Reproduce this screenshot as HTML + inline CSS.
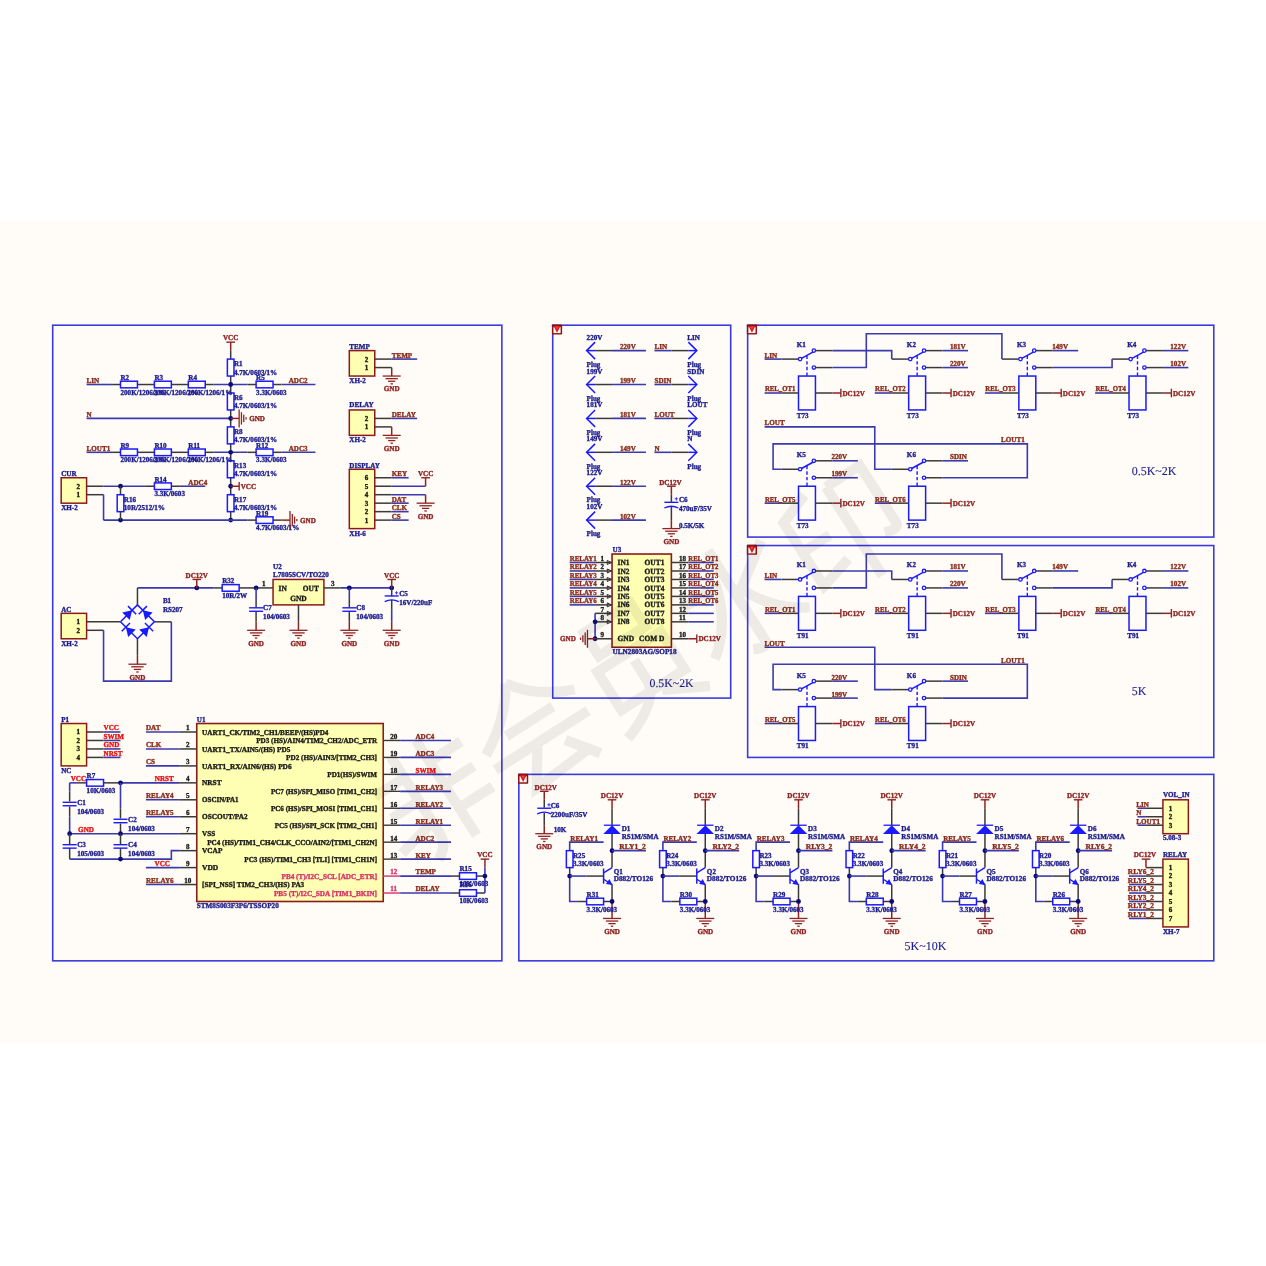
<!DOCTYPE html>
<html><head><meta charset="utf-8"><title>Schematic</title>
<style>
html,body{margin:0;padding:0;background:#ffffff;}
body{width:1266px;height:1266px;overflow:hidden;position:relative;font-family:"Liberation Serif",serif;}
#band{position:absolute;left:0;top:222px;width:1266px;height:821px;background:#fffcf7;}
svg{position:absolute;left:0;top:0;}
svg text{font-family:"Liberation Serif",serif;text-rendering:geometricPrecision;}
</style></head><body>
<div id="band"></div>
<svg width="1266" height="1266" viewBox="0 0 1266 1266">
<g stroke-linecap="butt" stroke-linejoin="miter" style="filter:blur(0.45px)">
<rect x="52.7" y="325.2" width="449.17" height="635.63" fill="none" stroke="#3a3ae0" stroke-width="1.6"/>
<rect x="552.73" y="325.2" width="177.97" height="372.9" fill="none" stroke="#3a3ae0" stroke-width="1.6"/>
<rect x="747.65" y="325.2" width="466.13" height="211.88" fill="none" stroke="#3a3ae0" stroke-width="1.6"/>
<rect x="747.65" y="545.55" width="466.13" height="211.87" fill="none" stroke="#3a3ae0" stroke-width="1.6"/>
<rect x="518.83" y="774.38" width="694.95" height="186.45" fill="none" stroke="#3a3ae0" stroke-width="1.6"/>
<rect x="551.9300000000001" y="324.5" width="10.2" height="10" rx="0.8" fill="#8a1212"/>
<rect x="553.4300000000001" y="327.1" width="7.2" height="6.0" fill="#fff6f2"/>
<path d="M553.6300000000001,326.1 L560.4300000000001,326.1 L557.0300000000001,332.7 Z" fill="#d81818"/>
<path d="M555.33,326.5 L558.73,326.5 L557.0300000000001,329.9 Z" fill="#ff3838"/>
<rect x="746.85" y="324.5" width="10.2" height="10" rx="0.8" fill="#8a1212"/>
<rect x="748.35" y="327.1" width="7.2" height="6.0" fill="#fff6f2"/>
<path d="M748.5500000000001,326.1 L755.35,326.1 L751.95,332.7 Z" fill="#d81818"/>
<path d="M750.25,326.5 L753.65,326.5 L751.95,329.9 Z" fill="#ff3838"/>
<rect x="746.85" y="544.8499999999999" width="10.2" height="10" rx="0.8" fill="#8a1212"/>
<rect x="748.35" y="547.4499999999999" width="7.2" height="6.0" fill="#fff6f2"/>
<path d="M748.5500000000001,546.4499999999999 L755.35,546.4499999999999 L751.95,553.05 Z" fill="#d81818"/>
<path d="M750.25,546.8499999999999 L753.65,546.8499999999999 L751.95,550.2499999999999 Z" fill="#ff3838"/>
<rect x="518.0300000000001" y="773.68" width="10.2" height="10" rx="0.8" fill="#8a1212"/>
<rect x="519.5300000000001" y="776.28" width="7.2" height="6.0" fill="#fff6f2"/>
<path d="M519.7300000000001,775.28 L526.5300000000001,775.28 L523.1300000000001,781.88 Z" fill="#d81818"/>
<path d="M521.4300000000001,775.68 L524.83,775.68 L523.1300000000001,779.0799999999999 Z" fill="#ff3838"/>
<line x1="226.38" y1="342.15" x2="234.98000000000002" y2="342.15" stroke="#8f2323" stroke-width="1.4"/>
<polyline points="230.68,342.15 230.68,350.62" fill="none" stroke="#8f2323" stroke-width="1.5" />
<text transform="translate(230.68 340.45) scale(0.94 1)" fill="#8f2323" stroke="#8f2323" stroke-width="0.36" font-size="7.55" font-weight="bold" text-anchor="middle" >VCC</text>
<polyline points="230.68,350.62 230.68,359.1" fill="none" stroke="#3a3a3a" stroke-width="1.5" />
<polyline points="230.68,376.05 230.68,384.52" fill="none" stroke="#3a3a3a" stroke-width="1.5" />
<polyline points="230.68,384.52 230.68,393.0" fill="none" stroke="#3a3a3a" stroke-width="1.5" />
<polyline points="230.68,409.95 230.68,418.42" fill="none" stroke="#3a3a3a" stroke-width="1.5" />
<polyline points="230.68,418.42 230.68,426.9" fill="none" stroke="#3a3a3a" stroke-width="1.5" />
<polyline points="230.68,443.85 230.68,452.32" fill="none" stroke="#3a3a3a" stroke-width="1.5" />
<polyline points="230.68,452.32 230.68,460.8" fill="none" stroke="#3a3a3a" stroke-width="1.5" />
<polyline points="230.68,477.75 230.68,486.23" fill="none" stroke="#3a3a3a" stroke-width="1.5" />
<polyline points="230.68,486.23 230.68,494.7" fill="none" stroke="#3a3a3a" stroke-width="1.5" />
<polyline points="230.68,511.65 230.68,520.12" fill="none" stroke="#3a3a3a" stroke-width="1.5" />
<rect x="227.37" y="359.1" width="6.61" height="16.95" fill="#fffcf7" stroke="#1a1aff" stroke-width="1.5"/>
<text transform="translate(233.98 366.4) scale(0.94 1)" fill="#1c1c8c" stroke="#1c1c8c" stroke-width="0.36" font-size="7.55" font-weight="bold" text-anchor="start" >R1</text>
<text transform="translate(233.98 374.5) scale(0.94 1)" fill="#1c1c8c" stroke="#1c1c8c" stroke-width="0.36" font-size="7.55" font-weight="bold" text-anchor="start" >4.7K/0603/1%</text>
<rect x="227.37" y="393.0" width="6.61" height="16.95" fill="#fffcf7" stroke="#1a1aff" stroke-width="1.5"/>
<text transform="translate(233.98 400.3) scale(0.94 1)" fill="#1c1c8c" stroke="#1c1c8c" stroke-width="0.36" font-size="7.55" font-weight="bold" text-anchor="start" >R6</text>
<text transform="translate(233.98 408.4) scale(0.94 1)" fill="#1c1c8c" stroke="#1c1c8c" stroke-width="0.36" font-size="7.55" font-weight="bold" text-anchor="start" >4.7K/0603/1%</text>
<rect x="227.37" y="426.9" width="6.61" height="16.95" fill="#fffcf7" stroke="#1a1aff" stroke-width="1.5"/>
<text transform="translate(233.98 434.2) scale(0.94 1)" fill="#1c1c8c" stroke="#1c1c8c" stroke-width="0.36" font-size="7.55" font-weight="bold" text-anchor="start" >R8</text>
<text transform="translate(233.98 442.3) scale(0.94 1)" fill="#1c1c8c" stroke="#1c1c8c" stroke-width="0.36" font-size="7.55" font-weight="bold" text-anchor="start" >4.7K/0603/1%</text>
<rect x="227.37" y="460.8" width="6.61" height="16.95" fill="#fffcf7" stroke="#1a1aff" stroke-width="1.5"/>
<text transform="translate(233.98 468.1) scale(0.94 1)" fill="#1c1c8c" stroke="#1c1c8c" stroke-width="0.36" font-size="7.55" font-weight="bold" text-anchor="start" >R13</text>
<text transform="translate(233.98 476.2) scale(0.94 1)" fill="#1c1c8c" stroke="#1c1c8c" stroke-width="0.36" font-size="7.55" font-weight="bold" text-anchor="start" >4.7K/0603/1%</text>
<rect x="227.37" y="494.7" width="6.61" height="16.95" fill="#fffcf7" stroke="#1a1aff" stroke-width="1.5"/>
<text transform="translate(233.98 502.0) scale(0.94 1)" fill="#1c1c8c" stroke="#1c1c8c" stroke-width="0.36" font-size="7.55" font-weight="bold" text-anchor="start" >R17</text>
<text transform="translate(233.98 510.1) scale(0.94 1)" fill="#1c1c8c" stroke="#1c1c8c" stroke-width="0.36" font-size="7.55" font-weight="bold" text-anchor="start" >4.7K/0603/1%</text>
<polyline points="86.6,384.52 112.03,384.52" fill="none" stroke="#3a3aae" stroke-width="1.6" />
<polyline points="112.03,384.52 120.5,384.52" fill="none" stroke="#3a3a3a" stroke-width="1.5" />
<polyline points="137.45,384.52 154.4,384.52" fill="none" stroke="#3a3a3a" stroke-width="1.5" />
<polyline points="171.35,384.52 188.3,384.52" fill="none" stroke="#3a3a3a" stroke-width="1.5" />
<polyline points="205.25,384.52 213.73,384.52" fill="none" stroke="#3a3a3a" stroke-width="1.5" />
<polyline points="213.73,384.52 247.62,384.52" fill="none" stroke="#3a3aae" stroke-width="1.6" />
<polyline points="247.62,384.52 256.1,384.52" fill="none" stroke="#3a3a3a" stroke-width="1.5" />
<polyline points="273.05,384.52 281.52,384.52" fill="none" stroke="#3a3a3a" stroke-width="1.5" />
<polyline points="281.52,384.52 315.42,384.52" fill="none" stroke="#3a3aae" stroke-width="1.6" />
<text transform="translate(86.6 382.92) scale(0.94 1)" fill="#8a2a1a" stroke="#8a2a1a" stroke-width="0.36" font-size="7.55" font-weight="bold" text-anchor="start" >LIN</text>
<rect x="120.5" y="381.22" width="16.95" height="6.61" fill="#fffcf7" stroke="#1a1aff" stroke-width="1.5"/>
<text transform="translate(120.5 379.92) scale(0.94 1)" fill="#1c1c8c" stroke="#1c1c8c" stroke-width="0.36" font-size="7.55" font-weight="bold" text-anchor="start" >R2</text>
<text transform="translate(120.5 394.62) scale(0.94 1)" fill="#1c1c8c" stroke="#1c1c8c" stroke-width="0.36" font-size="7.55" font-weight="bold" text-anchor="start" >200K/1206/1%</text>
<rect x="154.4" y="381.22" width="16.95" height="6.61" fill="#fffcf7" stroke="#1a1aff" stroke-width="1.5"/>
<text transform="translate(154.4 379.92) scale(0.94 1)" fill="#1c1c8c" stroke="#1c1c8c" stroke-width="0.36" font-size="7.55" font-weight="bold" text-anchor="start" >R3</text>
<text transform="translate(153.4 394.62) scale(0.94 1)" fill="#1c1c8c" stroke="#1c1c8c" stroke-width="0.36" font-size="7.55" font-weight="bold" text-anchor="start" >200K/1206/1%</text>
<rect x="188.3" y="381.22" width="16.95" height="6.61" fill="#fffcf7" stroke="#1a1aff" stroke-width="1.5"/>
<text transform="translate(188.3 379.92) scale(0.94 1)" fill="#1c1c8c" stroke="#1c1c8c" stroke-width="0.36" font-size="7.55" font-weight="bold" text-anchor="start" >R4</text>
<text transform="translate(187.3 394.62) scale(0.94 1)" fill="#1c1c8c" stroke="#1c1c8c" stroke-width="0.36" font-size="7.55" font-weight="bold" text-anchor="start" >200K/1206/1%</text>
<rect x="256.1" y="381.22" width="16.95" height="6.61" fill="#fffcf7" stroke="#1a1aff" stroke-width="1.5"/>
<text transform="translate(256.1 379.92) scale(0.94 1)" fill="#1c1c8c" stroke="#1c1c8c" stroke-width="0.36" font-size="7.55" font-weight="bold" text-anchor="start" >R5</text>
<text transform="translate(256.1 394.62) scale(0.94 1)" fill="#1c1c8c" stroke="#1c1c8c" stroke-width="0.36" font-size="7.55" font-weight="bold" text-anchor="start" >3.3K/0603</text>
<text transform="translate(288.73 382.92) scale(0.94 1)" fill="#8a2a1a" stroke="#8a2a1a" stroke-width="0.36" font-size="7.55" font-weight="bold" text-anchor="start" >ADC2</text>
<circle cx="230.68" cy="384.52" r="2.4" fill="#0a0a78"/>
<polyline points="86.6,452.32 112.03,452.32" fill="none" stroke="#3a3aae" stroke-width="1.6" />
<polyline points="112.03,452.32 120.5,452.32" fill="none" stroke="#3a3a3a" stroke-width="1.5" />
<polyline points="137.45,452.32 154.4,452.32" fill="none" stroke="#3a3a3a" stroke-width="1.5" />
<polyline points="171.35,452.32 188.3,452.32" fill="none" stroke="#3a3a3a" stroke-width="1.5" />
<polyline points="205.25,452.32 213.73,452.32" fill="none" stroke="#3a3a3a" stroke-width="1.5" />
<polyline points="213.73,452.32 247.62,452.32" fill="none" stroke="#3a3aae" stroke-width="1.6" />
<polyline points="247.62,452.32 256.1,452.32" fill="none" stroke="#3a3a3a" stroke-width="1.5" />
<polyline points="273.05,452.32 281.52,452.32" fill="none" stroke="#3a3a3a" stroke-width="1.5" />
<polyline points="281.52,452.32 315.42,452.32" fill="none" stroke="#3a3aae" stroke-width="1.6" />
<text transform="translate(86.6 450.72) scale(0.94 1)" fill="#8a2a1a" stroke="#8a2a1a" stroke-width="0.36" font-size="7.55" font-weight="bold" text-anchor="start" >LOUT1</text>
<rect x="120.5" y="449.02" width="16.95" height="6.61" fill="#fffcf7" stroke="#1a1aff" stroke-width="1.5"/>
<text transform="translate(120.5 447.72) scale(0.94 1)" fill="#1c1c8c" stroke="#1c1c8c" stroke-width="0.36" font-size="7.55" font-weight="bold" text-anchor="start" >R9</text>
<text transform="translate(120.5 462.42) scale(0.94 1)" fill="#1c1c8c" stroke="#1c1c8c" stroke-width="0.36" font-size="7.55" font-weight="bold" text-anchor="start" >200K/1206/1%</text>
<rect x="154.4" y="449.02" width="16.95" height="6.61" fill="#fffcf7" stroke="#1a1aff" stroke-width="1.5"/>
<text transform="translate(154.4 447.72) scale(0.94 1)" fill="#1c1c8c" stroke="#1c1c8c" stroke-width="0.36" font-size="7.55" font-weight="bold" text-anchor="start" >R10</text>
<text transform="translate(153.4 462.42) scale(0.94 1)" fill="#1c1c8c" stroke="#1c1c8c" stroke-width="0.36" font-size="7.55" font-weight="bold" text-anchor="start" >200K/1206/1%</text>
<rect x="188.3" y="449.02" width="16.95" height="6.61" fill="#fffcf7" stroke="#1a1aff" stroke-width="1.5"/>
<text transform="translate(188.3 447.72) scale(0.94 1)" fill="#1c1c8c" stroke="#1c1c8c" stroke-width="0.36" font-size="7.55" font-weight="bold" text-anchor="start" >R11</text>
<text transform="translate(187.3 462.42) scale(0.94 1)" fill="#1c1c8c" stroke="#1c1c8c" stroke-width="0.36" font-size="7.55" font-weight="bold" text-anchor="start" >200K/1206/1%</text>
<rect x="256.1" y="449.02" width="16.95" height="6.61" fill="#fffcf7" stroke="#1a1aff" stroke-width="1.5"/>
<text transform="translate(256.1 447.72) scale(0.94 1)" fill="#1c1c8c" stroke="#1c1c8c" stroke-width="0.36" font-size="7.55" font-weight="bold" text-anchor="start" >R12</text>
<text transform="translate(256.1 462.42) scale(0.94 1)" fill="#1c1c8c" stroke="#1c1c8c" stroke-width="0.36" font-size="7.55" font-weight="bold" text-anchor="start" >3.3K/0603</text>
<text transform="translate(288.73 450.72) scale(0.94 1)" fill="#8a2a1a" stroke="#8a2a1a" stroke-width="0.36" font-size="7.55" font-weight="bold" text-anchor="start" >ADC3</text>
<circle cx="230.68" cy="452.32" r="2.4" fill="#0a0a78"/>
<polyline points="86.6,418.42 230.68,418.42" fill="none" stroke="#3a3aae" stroke-width="1.6" />
<text transform="translate(86.6 416.82) scale(0.94 1)" fill="#8a2a1a" stroke="#8a2a1a" stroke-width="0.36" font-size="7.55" font-weight="bold" text-anchor="start" >N</text>
<circle cx="230.68" cy="418.42" r="2.4" fill="#0a0a78"/>
<polyline points="230.68,418.42 239.15,418.42" fill="none" stroke="#8f2323" stroke-width="1.5" />
<line x1="239.15" y1="409.42" x2="239.15" y2="427.42" stroke="#8f2323" stroke-width="1.3"/>
<line x1="241.45000000000002" y1="412.22" x2="241.45000000000002" y2="424.62" stroke="#8f2323" stroke-width="1.3"/>
<line x1="243.75" y1="414.82" x2="243.75" y2="422.02000000000004" stroke="#8f2323" stroke-width="1.3"/>
<line x1="246.05" y1="417.22" x2="246.05" y2="419.62" stroke="#8f2323" stroke-width="1.3"/>
<text transform="translate(249.15 420.92) scale(0.94 1)" fill="#8f2323" stroke="#8f2323" stroke-width="0.36" font-size="7.55" font-weight="bold" text-anchor="start" >GND</text>
<circle cx="230.68" cy="486.23" r="2.4" fill="#0a0a78"/>
<polyline points="230.68,486.23 239.15,486.23" fill="none" stroke="#8f2323" stroke-width="1.5" />
<line x1="239.15" y1="481.93" x2="239.15" y2="490.53000000000003" stroke="#8f2323" stroke-width="1.4"/>
<text transform="translate(240.75 488.73) scale(0.94 1)" fill="#8f2323" stroke="#8f2323" stroke-width="0.36" font-size="7.55" font-weight="bold" text-anchor="start" >VCC</text>
<circle cx="230.68" cy="520.12" r="2.4" fill="#0a0a78"/>
<polyline points="103.55,520.12 247.62,520.12" fill="none" stroke="#3a3aae" stroke-width="1.6" />
<polyline points="247.62,520.12 256.1,520.12" fill="none" stroke="#3a3a3a" stroke-width="1.5" />
<polyline points="273.05,520.12 281.52,520.12" fill="none" stroke="#3a3a3a" stroke-width="1.5" />
<polyline points="281.52,520.12 290.0,520.12" fill="none" stroke="#8f2323" stroke-width="1.5" />
<rect x="256.1" y="516.82" width="16.95" height="6.61" fill="#fffcf7" stroke="#1a1aff" stroke-width="1.5"/>
<text transform="translate(256.1 515.52) scale(0.94 1)" fill="#1c1c8c" stroke="#1c1c8c" stroke-width="0.36" font-size="7.55" font-weight="bold" text-anchor="start" >R19</text>
<text transform="translate(256.1 530.22) scale(0.94 1)" fill="#1c1c8c" stroke="#1c1c8c" stroke-width="0.36" font-size="7.55" font-weight="bold" text-anchor="start" >4.7K/0603/1%</text>
<line x1="290.0" y1="511.12" x2="290.0" y2="529.12" stroke="#8f2323" stroke-width="1.3"/>
<line x1="292.3" y1="513.92" x2="292.3" y2="526.32" stroke="#8f2323" stroke-width="1.3"/>
<line x1="294.6" y1="516.52" x2="294.6" y2="523.72" stroke="#8f2323" stroke-width="1.3"/>
<line x1="296.9" y1="518.92" x2="296.9" y2="521.32" stroke="#8f2323" stroke-width="1.3"/>
<text transform="translate(300.0 522.62) scale(0.94 1)" fill="#8f2323" stroke="#8f2323" stroke-width="0.36" font-size="7.55" font-weight="bold" text-anchor="start" >GND</text>
<rect x="61.18" y="477.75" width="25.42" height="25.42" fill="#ffffb3" stroke="#8b1a1a" stroke-width="1.5"/>
<text transform="translate(61.18 475.75) scale(0.94 1)" fill="#1c1c8c" stroke="#1c1c8c" stroke-width="0.36" font-size="7.55" font-weight="bold" text-anchor="start" >CUR</text>
<text transform="translate(61.18 510.17) scale(0.94 1)" fill="#1c1c8c" stroke="#1c1c8c" stroke-width="0.36" font-size="7.55" font-weight="bold" text-anchor="start" >XH-2</text>
<text transform="translate(78.3 488.63) scale(0.94 1)" fill="#1a1a1a" stroke="#1a1a1a" stroke-width="0.36" font-size="7.55" font-weight="bold" text-anchor="middle" >2</text>
<text transform="translate(78.3 497.1) scale(0.94 1)" fill="#1a1a1a" stroke="#1a1a1a" stroke-width="0.36" font-size="7.55" font-weight="bold" text-anchor="middle" >1</text>
<polyline points="86.6,486.23 103.55,486.23" fill="none" stroke="#3a3a3a" stroke-width="1.5" />
<polyline points="103.55,486.23 145.93,486.23" fill="none" stroke="#3a3aae" stroke-width="1.6" />
<polyline points="145.93,486.23 154.4,486.23" fill="none" stroke="#3a3a3a" stroke-width="1.5" />
<polyline points="171.35,486.23 179.82,486.23" fill="none" stroke="#3a3a3a" stroke-width="1.5" />
<polyline points="179.82,486.23 205.25,486.23" fill="none" stroke="#3a3aae" stroke-width="1.6" />
<polyline points="86.6,494.7 103.55,494.7" fill="none" stroke="#3a3a3a" stroke-width="1.5" />
<polyline points="103.55,494.7 103.55,520.12" fill="none" stroke="#3a3aae" stroke-width="1.6" />
<rect x="154.4" y="482.92" width="16.95" height="6.61" fill="#fffcf7" stroke="#1a1aff" stroke-width="1.5"/>
<text transform="translate(154.4 481.63) scale(0.94 1)" fill="#1c1c8c" stroke="#1c1c8c" stroke-width="0.36" font-size="7.55" font-weight="bold" text-anchor="start" >R14</text>
<text transform="translate(154.4 496.33) scale(0.94 1)" fill="#1c1c8c" stroke="#1c1c8c" stroke-width="0.36" font-size="7.55" font-weight="bold" text-anchor="start" >3.3K/0603</text>
<text transform="translate(188.3 484.63) scale(0.94 1)" fill="#8a2a1a" stroke="#8a2a1a" stroke-width="0.36" font-size="7.55" font-weight="bold" text-anchor="start" >ADC4</text>
<circle cx="120.5" cy="486.23" r="2.4" fill="#0a0a78"/>
<circle cx="120.5" cy="520.12" r="2.4" fill="#0a0a78"/>
<polyline points="120.5,486.23 120.5,494.7" fill="none" stroke="#3a3a3a" stroke-width="1.5" />
<polyline points="120.5,511.65 120.5,520.12" fill="none" stroke="#3a3a3a" stroke-width="1.5" />
<rect x="117.19" y="494.7" width="6.62" height="16.95" fill="#fffcf7" stroke="#1a1aff" stroke-width="1.5"/>
<text transform="translate(123.8 502.0) scale(0.94 1)" fill="#1c1c8c" stroke="#1c1c8c" stroke-width="0.36" font-size="7.55" font-weight="bold" text-anchor="start" >R16</text>
<text transform="translate(123.8 510.1) scale(0.94 1)" fill="#1c1c8c" stroke="#1c1c8c" stroke-width="0.36" font-size="7.55" font-weight="bold" text-anchor="start" >10R/2512/1%</text>
<rect x="349.32" y="350.62" width="25.43" height="25.43" fill="#ffffb3" stroke="#8b1a1a" stroke-width="1.5"/>
<text transform="translate(349.32 348.72) scale(0.94 1)" fill="#1c1c8c" stroke="#1c1c8c" stroke-width="0.36" font-size="7.55" font-weight="bold" text-anchor="start" >TEMP</text>
<text transform="translate(349.32 383.05) scale(0.94 1)" fill="#1c1c8c" stroke="#1c1c8c" stroke-width="0.36" font-size="7.55" font-weight="bold" text-anchor="start" >XH-2</text>
<text transform="translate(366.45 361.5) scale(0.94 1)" fill="#1a1a1a" stroke="#1a1a1a" stroke-width="0.36" font-size="7.55" font-weight="bold" text-anchor="middle" >2</text>
<text transform="translate(366.45 369.97) scale(0.94 1)" fill="#1a1a1a" stroke="#1a1a1a" stroke-width="0.36" font-size="7.55" font-weight="bold" text-anchor="middle" >1</text>
<polyline points="374.75,359.1 391.7,359.1" fill="none" stroke="#3a3a3a" stroke-width="1.5" />
<polyline points="391.7,359.1 417.12,359.1" fill="none" stroke="#3a3aae" stroke-width="1.6" />
<text transform="translate(391.7 357.5) scale(0.94 1)" fill="#8a2a1a" stroke="#8a2a1a" stroke-width="0.36" font-size="7.55" font-weight="bold" text-anchor="start" >TEMP</text>
<polyline points="374.75,367.57 391.7,367.57" fill="none" stroke="#3a3a3a" stroke-width="1.5" />
<polyline points="391.7,367.57 391.7,376.05" fill="none" stroke="#8f2323" stroke-width="1.5" />
<line x1="382.7" y1="376.05" x2="400.7" y2="376.05" stroke="#8f2323" stroke-width="1.3"/>
<line x1="385.5" y1="378.65000000000003" x2="397.9" y2="378.65000000000003" stroke="#8f2323" stroke-width="1.3"/>
<line x1="388.09999999999997" y1="381.25" x2="395.3" y2="381.25" stroke="#8f2323" stroke-width="1.3"/>
<line x1="390.5" y1="383.85" x2="392.9" y2="383.85" stroke="#8f2323" stroke-width="1.3"/>
<text transform="translate(391.7 391.45) scale(0.94 1)" fill="#8f2323" stroke="#8f2323" stroke-width="0.36" font-size="7.55" font-weight="bold" text-anchor="middle" >GND</text>
<rect x="349.32" y="409.95" width="25.43" height="25.43" fill="#ffffb3" stroke="#8b1a1a" stroke-width="1.5"/>
<text transform="translate(349.32 407.45) scale(0.94 1)" fill="#1c1c8c" stroke="#1c1c8c" stroke-width="0.36" font-size="7.55" font-weight="bold" text-anchor="start" >DELAY</text>
<text transform="translate(349.32 442.38) scale(0.94 1)" fill="#1c1c8c" stroke="#1c1c8c" stroke-width="0.36" font-size="7.55" font-weight="bold" text-anchor="start" >XH-2</text>
<text transform="translate(366.45 420.82) scale(0.94 1)" fill="#1a1a1a" stroke="#1a1a1a" stroke-width="0.36" font-size="7.55" font-weight="bold" text-anchor="middle" >2</text>
<text transform="translate(366.45 429.3) scale(0.94 1)" fill="#1a1a1a" stroke="#1a1a1a" stroke-width="0.36" font-size="7.55" font-weight="bold" text-anchor="middle" >1</text>
<polyline points="374.75,418.42 391.7,418.42" fill="none" stroke="#3a3a3a" stroke-width="1.5" />
<polyline points="391.7,418.42 417.12,418.42" fill="none" stroke="#3a3aae" stroke-width="1.6" />
<text transform="translate(391.7 416.82) scale(0.94 1)" fill="#8a2a1a" stroke="#8a2a1a" stroke-width="0.36" font-size="7.55" font-weight="bold" text-anchor="start" >DELAY</text>
<polyline points="374.75,426.9 391.7,426.9" fill="none" stroke="#3a3a3a" stroke-width="1.5" />
<polyline points="391.7,426.9 391.7,435.38" fill="none" stroke="#8f2323" stroke-width="1.5" />
<line x1="382.7" y1="435.38" x2="400.7" y2="435.38" stroke="#8f2323" stroke-width="1.3"/>
<line x1="385.5" y1="437.98" x2="397.9" y2="437.98" stroke="#8f2323" stroke-width="1.3"/>
<line x1="388.09999999999997" y1="440.58" x2="395.3" y2="440.58" stroke="#8f2323" stroke-width="1.3"/>
<line x1="390.5" y1="443.18" x2="392.9" y2="443.18" stroke="#8f2323" stroke-width="1.3"/>
<text transform="translate(391.7 450.78) scale(0.94 1)" fill="#8f2323" stroke="#8f2323" stroke-width="0.36" font-size="7.55" font-weight="bold" text-anchor="middle" >GND</text>
<rect x="349.32" y="469.27" width="25.43" height="59.33" fill="#ffffb3" stroke="#8b1a1a" stroke-width="1.5"/>
<text transform="translate(349.32 467.57) scale(0.94 1)" fill="#1c1c8c" stroke="#1c1c8c" stroke-width="0.36" font-size="7.55" font-weight="bold" text-anchor="start" >DISPLAY</text>
<text transform="translate(349.32 535.6) scale(0.94 1)" fill="#1c1c8c" stroke="#1c1c8c" stroke-width="0.36" font-size="7.55" font-weight="bold" text-anchor="start" >XH-6</text>
<text transform="translate(366.45 480.15) scale(0.94 1)" fill="#1a1a1a" stroke="#1a1a1a" stroke-width="0.36" font-size="7.55" font-weight="bold" text-anchor="middle" >6</text>
<text transform="translate(366.45 488.63) scale(0.94 1)" fill="#1a1a1a" stroke="#1a1a1a" stroke-width="0.36" font-size="7.55" font-weight="bold" text-anchor="middle" >5</text>
<text transform="translate(366.45 497.1) scale(0.94 1)" fill="#1a1a1a" stroke="#1a1a1a" stroke-width="0.36" font-size="7.55" font-weight="bold" text-anchor="middle" >4</text>
<text transform="translate(366.45 505.57) scale(0.94 1)" fill="#1a1a1a" stroke="#1a1a1a" stroke-width="0.36" font-size="7.55" font-weight="bold" text-anchor="middle" >3</text>
<text transform="translate(366.45 514.05) scale(0.94 1)" fill="#1a1a1a" stroke="#1a1a1a" stroke-width="0.36" font-size="7.55" font-weight="bold" text-anchor="middle" >2</text>
<text transform="translate(366.45 522.52) scale(0.94 1)" fill="#1a1a1a" stroke="#1a1a1a" stroke-width="0.36" font-size="7.55" font-weight="bold" text-anchor="middle" >1</text>
<polyline points="374.75,477.75 391.7,477.75" fill="none" stroke="#3a3a3a" stroke-width="1.5" />
<polyline points="391.7,477.75 408.65,477.75" fill="none" stroke="#3a3aae" stroke-width="1.6" />
<polyline points="374.75,503.17 391.7,503.17" fill="none" stroke="#3a3a3a" stroke-width="1.5" />
<polyline points="391.7,503.17 408.65,503.17" fill="none" stroke="#3a3aae" stroke-width="1.6" />
<polyline points="374.75,511.65 391.7,511.65" fill="none" stroke="#3a3a3a" stroke-width="1.5" />
<polyline points="391.7,511.65 408.65,511.65" fill="none" stroke="#3a3aae" stroke-width="1.6" />
<polyline points="374.75,520.12 391.7,520.12" fill="none" stroke="#3a3a3a" stroke-width="1.5" />
<polyline points="391.7,520.12 408.65,520.12" fill="none" stroke="#3a3aae" stroke-width="1.6" />
<text transform="translate(391.7 476.15) scale(0.94 1)" fill="#8a2a1a" stroke="#8a2a1a" stroke-width="0.36" font-size="7.55" font-weight="bold" text-anchor="start" >KEY</text>
<text transform="translate(391.7 501.57) scale(0.94 1)" fill="#8a2a1a" stroke="#8a2a1a" stroke-width="0.36" font-size="7.55" font-weight="bold" text-anchor="start" >DAT</text>
<text transform="translate(391.7 510.05) scale(0.94 1)" fill="#8a2a1a" stroke="#8a2a1a" stroke-width="0.36" font-size="7.55" font-weight="bold" text-anchor="start" >CLK</text>
<text transform="translate(391.7 518.52) scale(0.94 1)" fill="#8a2a1a" stroke="#8a2a1a" stroke-width="0.36" font-size="7.55" font-weight="bold" text-anchor="start" >CS</text>
<polyline points="374.75,486.23 391.7,486.23" fill="none" stroke="#3a3a3a" stroke-width="1.5" />
<polyline points="391.7,486.23 425.6,486.23" fill="none" stroke="#3a3aae" stroke-width="1.6" />
<polyline points="425.6,486.23 425.6,477.75" fill="none" stroke="#8f2323" stroke-width="1.5" />
<line x1="421.3" y1="477.75" x2="429.90000000000003" y2="477.75" stroke="#8f2323" stroke-width="1.4"/>
<text transform="translate(425.6 476.05) scale(0.94 1)" fill="#8f2323" stroke="#8f2323" stroke-width="0.36" font-size="7.55" font-weight="bold" text-anchor="middle" >VCC</text>
<polyline points="374.75,494.7 391.7,494.7" fill="none" stroke="#3a3a3a" stroke-width="1.5" />
<polyline points="391.7,494.7 425.6,494.7" fill="none" stroke="#3a3aae" stroke-width="1.6" />
<polyline points="425.6,494.7 425.6,503.17" fill="none" stroke="#8f2323" stroke-width="1.5" />
<line x1="416.6" y1="503.17" x2="434.6" y2="503.17" stroke="#8f2323" stroke-width="1.3"/>
<line x1="419.40000000000003" y1="505.77000000000004" x2="431.8" y2="505.77000000000004" stroke="#8f2323" stroke-width="1.3"/>
<line x1="422.0" y1="508.37" x2="429.20000000000005" y2="508.37" stroke="#8f2323" stroke-width="1.3"/>
<line x1="424.40000000000003" y1="510.97" x2="426.8" y2="510.97" stroke="#8f2323" stroke-width="1.3"/>
<text transform="translate(425.6 518.57) scale(0.94 1)" fill="#8f2323" stroke="#8f2323" stroke-width="0.36" font-size="7.55" font-weight="bold" text-anchor="middle" >GND</text>
<rect x="61.18" y="613.35" width="25.42" height="25.42" fill="#ffffb3" stroke="#8b1a1a" stroke-width="1.5"/>
<text transform="translate(61.18 612.35) scale(0.94 1)" fill="#1c1c8c" stroke="#1c1c8c" stroke-width="0.36" font-size="7.55" font-weight="bold" text-anchor="start" >AC</text>
<text transform="translate(61.18 645.77) scale(0.94 1)" fill="#1c1c8c" stroke="#1c1c8c" stroke-width="0.36" font-size="7.55" font-weight="bold" text-anchor="start" >XH-2</text>
<text transform="translate(78.3 624.23) scale(0.94 1)" fill="#1a1a1a" stroke="#1a1a1a" stroke-width="0.36" font-size="7.55" font-weight="bold" text-anchor="middle" >1</text>
<text transform="translate(78.3 632.7) scale(0.94 1)" fill="#1a1a1a" stroke="#1a1a1a" stroke-width="0.36" font-size="7.55" font-weight="bold" text-anchor="middle" >2</text>
<polyline points="86.6,621.83 120.5,621.83" fill="none" stroke="#3a3a3a" stroke-width="1.5" />
<polyline points="86.6,630.3 103.55,630.3" fill="none" stroke="#3a3a3a" stroke-width="1.5" />
<polyline points="103.55,630.3 103.55,681.15 171.35,681.15 171.35,621.83" fill="none" stroke="#3a3aae" stroke-width="1.6" />
<polyline points="171.35,621.83 154.4,621.83" fill="none" stroke="#3a3a3a" stroke-width="1.5" />
<polyline points="120.5,621.83 137.45,604.88 154.4,621.83 137.45,638.77 120.5,621.83" fill="none" stroke="#1a1aff" stroke-width="1.5" />
<g transform="translate(128.97,613.35) rotate(-45)"><path d="M-4.2,-5.3 L4.4,0 L-4.2,5.3 Z" fill="#1a1aff"/><line x1="4.4" y1="-5.8" x2="4.4" y2="5.8" stroke="#1a1aff" stroke-width="1.5"/></g>
<g transform="translate(145.93,613.35) rotate(-135)"><path d="M-4.2,-5.3 L4.4,0 L-4.2,5.3 Z" fill="#1a1aff"/><line x1="4.4" y1="-5.8" x2="4.4" y2="5.8" stroke="#1a1aff" stroke-width="1.5"/></g>
<g transform="translate(128.97,630.3) rotate(-135)"><path d="M-4.2,-5.3 L4.4,0 L-4.2,5.3 Z" fill="#1a1aff"/><line x1="4.4" y1="-5.8" x2="4.4" y2="5.8" stroke="#1a1aff" stroke-width="1.5"/></g>
<g transform="translate(145.93,630.3) rotate(-45)"><path d="M-4.2,-5.3 L4.4,0 L-4.2,5.3 Z" fill="#1a1aff"/><line x1="4.4" y1="-5.8" x2="4.4" y2="5.8" stroke="#1a1aff" stroke-width="1.5"/></g>
<text transform="translate(162.88 603.28) scale(0.94 1)" fill="#1c1c8c" stroke="#1c1c8c" stroke-width="0.36" font-size="7.55" font-weight="bold" text-anchor="start" >B1</text>
<text transform="translate(162.88 612.15) scale(0.94 1)" fill="#1c1c8c" stroke="#1c1c8c" stroke-width="0.36" font-size="7.55" font-weight="bold" text-anchor="start" >RS207</text>
<polyline points="137.45,604.88 137.45,587.92" fill="none" stroke="#3a3a3a" stroke-width="1.5" />
<polyline points="137.45,587.92 213.73,587.92" fill="none" stroke="#3a3aae" stroke-width="1.6" />
<polyline points="213.73,587.92 222.2,587.92" fill="none" stroke="#3a3a3a" stroke-width="1.5" />
<polyline points="239.15,587.92 256.1,587.92" fill="none" stroke="#3a3a3a" stroke-width="1.5" />
<polyline points="256.1,587.92 273.05,587.92" fill="none" stroke="#3a3a3a" stroke-width="1.5" />
<circle cx="196.77" cy="587.92" r="2.4" fill="#0a0a78"/>
<line x1="192.47" y1="579.45" x2="201.07000000000002" y2="579.45" stroke="#8f2323" stroke-width="1.4"/>
<polyline points="196.77,579.45 196.77,587.92" fill="none" stroke="#8f2323" stroke-width="1.5" />
<text transform="translate(196.77 577.75) scale(0.94 1)" fill="#8f2323" stroke="#8f2323" stroke-width="0.36" font-size="7.55" font-weight="bold" text-anchor="middle" >DC12V</text>
<rect x="222.2" y="584.62" width="16.95" height="6.61" fill="#fffcf7" stroke="#1a1aff" stroke-width="1.5"/>
<text transform="translate(222.2 583.32) scale(0.94 1)" fill="#1c1c8c" stroke="#1c1c8c" stroke-width="0.36" font-size="7.55" font-weight="bold" text-anchor="start" >R32</text>
<text transform="translate(222.2 598.02) scale(0.94 1)" fill="#1c1c8c" stroke="#1c1c8c" stroke-width="0.36" font-size="7.55" font-weight="bold" text-anchor="start" >10R/2W</text>
<circle cx="256.1" cy="587.92" r="2.4" fill="#0a0a78"/>
<polyline points="137.45,638.77 137.45,655.72" fill="none" stroke="#3a3a3a" stroke-width="1.5" />
<polyline points="137.45,655.72 137.45,664.2" fill="none" stroke="#8f2323" stroke-width="1.5" />
<line x1="128.45" y1="664.2" x2="146.45" y2="664.2" stroke="#8f2323" stroke-width="1.3"/>
<line x1="131.25" y1="666.8000000000001" x2="143.64999999999998" y2="666.8000000000001" stroke="#8f2323" stroke-width="1.3"/>
<line x1="133.85" y1="669.4000000000001" x2="141.04999999999998" y2="669.4000000000001" stroke="#8f2323" stroke-width="1.3"/>
<line x1="136.25" y1="672.0" x2="138.64999999999998" y2="672.0" stroke="#8f2323" stroke-width="1.3"/>
<text transform="translate(137.45 679.5) scale(0.94 1)" fill="#8f2323" stroke="#8f2323" stroke-width="0.36" font-size="7.55" font-weight="bold" text-anchor="middle" >GND</text>
<polyline points="256.1,587.92 256.1,598.94" fill="none" stroke="#3a3aae" stroke-width="1.6" />
<polyline points="256.1,598.94 256.1,607.42" fill="none" stroke="#3a3a3a" stroke-width="1.5" />
<polyline points="256.1,611.65 256.1,621.83" fill="none" stroke="#3a3a3a" stroke-width="1.5" />
<polyline points="256.1,621.83 256.1,630.3" fill="none" stroke="#8f2323" stroke-width="1.5" />
<line x1="247.10000000000002" y1="630.3" x2="265.1" y2="630.3" stroke="#8f2323" stroke-width="1.3"/>
<line x1="249.90000000000003" y1="632.9" x2="262.3" y2="632.9" stroke="#8f2323" stroke-width="1.3"/>
<line x1="252.50000000000003" y1="635.5" x2="259.70000000000005" y2="635.5" stroke="#8f2323" stroke-width="1.3"/>
<line x1="254.90000000000003" y1="638.0999999999999" x2="257.3" y2="638.0999999999999" stroke="#8f2323" stroke-width="1.3"/>
<text transform="translate(256.1 645.7) scale(0.94 1)" fill="#8f2323" stroke="#8f2323" stroke-width="0.36" font-size="7.55" font-weight="bold" text-anchor="middle" >GND</text>
<line x1="249.10000000000002" y1="607.8145" x2="263.1" y2="607.8145" stroke="#1a1aff" stroke-width="1.4"/>
<line x1="249.10000000000002" y1="611.2655" x2="263.1" y2="611.2655" stroke="#1a1aff" stroke-width="1.4"/>
<text transform="translate(263.1 610.41) scale(0.94 1)" fill="#1c1c8c" stroke="#1c1c8c" stroke-width="0.36" font-size="7.55" font-weight="bold" text-anchor="start" >C7</text>
<text transform="translate(263.1 619.21) scale(0.94 1)" fill="#1c1c8c" stroke="#1c1c8c" stroke-width="0.36" font-size="7.55" font-weight="bold" text-anchor="start" >104/0603</text>
<rect x="273.05" y="579.45" width="50.85" height="25.43" fill="#ffffb3" stroke="#8b1a1a" stroke-width="1.5"/>
<text transform="translate(273.05 569.15) scale(0.94 1)" fill="#1c1c8c" stroke="#1c1c8c" stroke-width="0.36" font-size="7.55" font-weight="bold" text-anchor="start" >U2</text>
<text transform="translate(273.05 577.05) scale(0.94 1)" fill="#1c1c8c" stroke="#1c1c8c" stroke-width="0.36" font-size="7.55" font-weight="bold" text-anchor="start" >L7805SCV/TO220</text>
<text transform="translate(263.85 586.32) scale(0.94 1)" fill="#1a1a1a" stroke="#1a1a1a" stroke-width="0.36" font-size="7.55" font-weight="bold" text-anchor="middle" >1</text>
<text transform="translate(332.7 586.32) scale(0.94 1)" fill="#1a1a1a" stroke="#1a1a1a" stroke-width="0.36" font-size="7.55" font-weight="bold" text-anchor="middle" >3</text>
<text transform="translate(278.55 590.92) scale(0.94 1)" fill="#1a1a1a" stroke="#1a1a1a" stroke-width="0.36" font-size="7.9" font-weight="bold" text-anchor="start" >IN</text>
<text transform="translate(318.9 590.92) scale(0.94 1)" fill="#1a1a1a" stroke="#1a1a1a" stroke-width="0.36" font-size="7.9" font-weight="bold" text-anchor="end" >OUT</text>
<text transform="translate(298.47 601.0) scale(0.94 1)" fill="#1a1a1a" stroke="#1a1a1a" stroke-width="0.36" font-size="7.9" font-weight="bold" text-anchor="middle" >GND</text>
<polyline points="298.47,604.88 298.47,621.83" fill="none" stroke="#3a3a3a" stroke-width="1.5" />
<polyline points="298.47,621.83 298.47,630.3" fill="none" stroke="#8f2323" stroke-width="1.5" />
<line x1="289.47" y1="630.3" x2="307.47" y2="630.3" stroke="#8f2323" stroke-width="1.3"/>
<line x1="292.27000000000004" y1="632.9" x2="304.67" y2="632.9" stroke="#8f2323" stroke-width="1.3"/>
<line x1="294.87" y1="635.5" x2="302.07000000000005" y2="635.5" stroke="#8f2323" stroke-width="1.3"/>
<line x1="297.27000000000004" y1="638.0999999999999" x2="299.67" y2="638.0999999999999" stroke="#8f2323" stroke-width="1.3"/>
<text transform="translate(298.47 645.7) scale(0.94 1)" fill="#8f2323" stroke="#8f2323" stroke-width="0.36" font-size="7.55" font-weight="bold" text-anchor="middle" >GND</text>
<polyline points="323.9,587.92 340.85,587.92" fill="none" stroke="#3a3a3a" stroke-width="1.5" />
<polyline points="340.85,587.92 391.7,587.92" fill="none" stroke="#3a3aae" stroke-width="1.6" />
<circle cx="349.32" cy="587.92" r="2.4" fill="#0a0a78"/>
<circle cx="391.7" cy="587.92" r="2.4" fill="#0a0a78"/>
<polyline points="349.32,587.92 349.32,598.94" fill="none" stroke="#3a3aae" stroke-width="1.6" />
<polyline points="349.32,598.94 349.32,607.42" fill="none" stroke="#3a3a3a" stroke-width="1.5" />
<polyline points="349.32,611.65 349.32,621.83" fill="none" stroke="#3a3a3a" stroke-width="1.5" />
<polyline points="349.32,621.83 349.32,630.3" fill="none" stroke="#8f2323" stroke-width="1.5" />
<line x1="340.32" y1="630.3" x2="358.32" y2="630.3" stroke="#8f2323" stroke-width="1.3"/>
<line x1="343.12" y1="632.9" x2="355.52" y2="632.9" stroke="#8f2323" stroke-width="1.3"/>
<line x1="345.71999999999997" y1="635.5" x2="352.92" y2="635.5" stroke="#8f2323" stroke-width="1.3"/>
<line x1="348.12" y1="638.0999999999999" x2="350.52" y2="638.0999999999999" stroke="#8f2323" stroke-width="1.3"/>
<text transform="translate(349.32 645.7) scale(0.94 1)" fill="#8f2323" stroke="#8f2323" stroke-width="0.36" font-size="7.55" font-weight="bold" text-anchor="middle" >GND</text>
<line x1="342.32" y1="607.8145" x2="356.32" y2="607.8145" stroke="#1a1aff" stroke-width="1.4"/>
<line x1="342.32" y1="611.2655" x2="356.32" y2="611.2655" stroke="#1a1aff" stroke-width="1.4"/>
<text transform="translate(356.32 610.41) scale(0.94 1)" fill="#1c1c8c" stroke="#1c1c8c" stroke-width="0.36" font-size="7.55" font-weight="bold" text-anchor="start" >C8</text>
<text transform="translate(356.32 619.21) scale(0.94 1)" fill="#1c1c8c" stroke="#1c1c8c" stroke-width="0.36" font-size="7.55" font-weight="bold" text-anchor="start" >104/0603</text>
<line x1="387.4" y1="579.45" x2="396.0" y2="579.45" stroke="#8f2323" stroke-width="1.4"/>
<polyline points="391.7,579.45 391.7,587.92" fill="none" stroke="#8f2323" stroke-width="1.5" />
<text transform="translate(391.7 577.75) scale(0.94 1)" fill="#8f2323" stroke="#8f2323" stroke-width="0.36" font-size="7.55" font-weight="bold" text-anchor="middle" >VCC</text>
<polyline points="391.7,587.92 391.7,596.4" fill="none" stroke="#3a3a3a" stroke-width="1.5" />
<polyline points="391.7,599.79 391.7,609.11" fill="none" stroke="#3a3a3a" stroke-width="1.5" />
<polyline points="391.7,609.11 391.7,621.83" fill="none" stroke="#3a3aae" stroke-width="1.6" />
<polyline points="391.7,621.83 391.7,630.3" fill="none" stroke="#8f2323" stroke-width="1.5" />
<line x1="382.7" y1="630.3" x2="400.7" y2="630.3" stroke="#8f2323" stroke-width="1.3"/>
<line x1="385.5" y1="632.9" x2="397.9" y2="632.9" stroke="#8f2323" stroke-width="1.3"/>
<line x1="388.09999999999997" y1="635.5" x2="395.3" y2="635.5" stroke="#8f2323" stroke-width="1.3"/>
<line x1="390.5" y1="638.0999999999999" x2="392.9" y2="638.0999999999999" stroke="#8f2323" stroke-width="1.3"/>
<text transform="translate(391.7 645.7) scale(0.94 1)" fill="#8f2323" stroke="#8f2323" stroke-width="0.36" font-size="7.55" font-weight="bold" text-anchor="middle" >GND</text>
<line x1="384.7" y1="595.95075" x2="398.7" y2="595.95075" stroke="#1a1aff" stroke-width="1.4"/>
<path d="M384.7,601.64925 Q391.7,598.04925 398.7,601.64925" fill="none" stroke="#1a1aff" stroke-width="1.4"/>
<text transform="translate(394.7 594.95) scale(0.94 1)" fill="#1a1aff" stroke="#1a1aff" stroke-width="0.36" font-size="6.5" font-weight="bold" text-anchor="start" >+</text>
<text transform="translate(399.2 595.75) scale(0.94 1)" fill="#1c1c8c" stroke="#1c1c8c" stroke-width="0.36" font-size="7.55" font-weight="bold" text-anchor="start" >C5</text>
<text transform="translate(399.2 604.55) scale(0.94 1)" fill="#1c1c8c" stroke="#1c1c8c" stroke-width="0.36" font-size="7.55" font-weight="bold" text-anchor="start" >16V/220uF</text>
<rect x="61.18" y="723.52" width="25.42" height="42.38" fill="#ffffb3" stroke="#8b1a1a" stroke-width="1.5"/>
<text transform="translate(61.18 721.52) scale(0.94 1)" fill="#1c1c8c" stroke="#1c1c8c" stroke-width="0.36" font-size="7.55" font-weight="bold" text-anchor="start" >P1</text>
<text transform="translate(61.18 772.9) scale(0.94 1)" fill="#1c1c8c" stroke="#1c1c8c" stroke-width="0.36" font-size="7.55" font-weight="bold" text-anchor="start" >NC</text>
<text transform="translate(78.3 734.4) scale(0.94 1)" fill="#1a1a1a" stroke="#1a1a1a" stroke-width="0.36" font-size="7.55" font-weight="bold" text-anchor="middle" >1</text>
<text transform="translate(78.3 742.87) scale(0.94 1)" fill="#1a1a1a" stroke="#1a1a1a" stroke-width="0.36" font-size="7.55" font-weight="bold" text-anchor="middle" >2</text>
<text transform="translate(78.3 751.35) scale(0.94 1)" fill="#1a1a1a" stroke="#1a1a1a" stroke-width="0.36" font-size="7.55" font-weight="bold" text-anchor="middle" >3</text>
<text transform="translate(78.3 759.82) scale(0.94 1)" fill="#1a1a1a" stroke="#1a1a1a" stroke-width="0.36" font-size="7.55" font-weight="bold" text-anchor="middle" >4</text>
<polyline points="86.6,732.0 103.55,732.0" fill="none" stroke="#3a3a3a" stroke-width="1.5" />
<polyline points="103.55,732.0 120.5,732.0" fill="none" stroke="#3a3aae" stroke-width="1.6" />
<text transform="translate(103.55 730.4) scale(0.94 1)" fill="#e81010" stroke="#e81010" stroke-width="0.36" font-size="7.55" font-weight="bold" text-anchor="start" >VCC</text>
<polyline points="86.6,740.47 103.55,740.47" fill="none" stroke="#3a3a3a" stroke-width="1.5" />
<polyline points="103.55,740.47 120.5,740.47" fill="none" stroke="#3a3aae" stroke-width="1.6" />
<text transform="translate(103.55 738.87) scale(0.94 1)" fill="#e81010" stroke="#e81010" stroke-width="0.36" font-size="7.55" font-weight="bold" text-anchor="start" >SWIM</text>
<polyline points="86.6,748.95 103.55,748.95" fill="none" stroke="#3a3a3a" stroke-width="1.5" />
<polyline points="103.55,748.95 120.5,748.95" fill="none" stroke="#3a3aae" stroke-width="1.6" />
<text transform="translate(103.55 747.35) scale(0.94 1)" fill="#e81010" stroke="#e81010" stroke-width="0.36" font-size="7.55" font-weight="bold" text-anchor="start" >GND</text>
<polyline points="86.6,757.42 103.55,757.42" fill="none" stroke="#3a3a3a" stroke-width="1.5" />
<polyline points="103.55,757.42 120.5,757.42" fill="none" stroke="#3a3aae" stroke-width="1.6" />
<text transform="translate(103.55 755.82) scale(0.94 1)" fill="#e81010" stroke="#e81010" stroke-width="0.36" font-size="7.55" font-weight="bold" text-anchor="start" >NRST</text>
<rect x="196.77" y="723.52" width="186.45" height="177.98" fill="#ffffb3" stroke="#8b1a1a" stroke-width="1.6"/>
<text transform="translate(196.77 722.32) scale(0.94 1)" fill="#1c1c8c" stroke="#1c1c8c" stroke-width="0.36" font-size="7.55" font-weight="bold" text-anchor="start" >U1</text>
<text transform="translate(196.77 908.1) scale(0.94 1)" fill="#1c1c8c" stroke="#1c1c8c" stroke-width="0.36" font-size="7.55" font-weight="bold" text-anchor="start" textLength="87.23" lengthAdjust="spacingAndGlyphs" >STM8S003F3P6/TSSOP20</text>
<text transform="translate(202.07 734.6) scale(0.94 1)" fill="#1a1a1a" stroke="#1a1a1a" stroke-width="0.36" font-size="7.5" font-weight="bold" text-anchor="start" textLength="134.47" lengthAdjust="spacingAndGlyphs" >UART1_CK/TIM2_CH1/BEEP/(HS)PD4</text>
<text transform="translate(187.77 730.4) scale(0.94 1)" fill="#1a1a1a" stroke="#1a1a1a" stroke-width="0.36" font-size="7.55" font-weight="bold" text-anchor="middle" >1</text>
<polyline points="179.82,732.0 196.77,732.0" fill="none" stroke="#3a3a3a" stroke-width="1.5" />
<polyline points="145.93,732.0 179.82,732.0" fill="none" stroke="#3a3aae" stroke-width="1.6" />
<text transform="translate(145.93 730.4) scale(0.94 1)" fill="#8a2a1a" stroke="#8a2a1a" stroke-width="0.36" font-size="7.55" font-weight="bold" text-anchor="start" >DAT</text>
<text transform="translate(202.07 751.55) scale(0.94 1)" fill="#1a1a1a" stroke="#1a1a1a" stroke-width="0.36" font-size="7.5" font-weight="bold" text-anchor="start" textLength="93.94" lengthAdjust="spacingAndGlyphs" >UART1_TX/AIN5/(HS) PD5</text>
<text transform="translate(187.77 747.35) scale(0.94 1)" fill="#1a1a1a" stroke="#1a1a1a" stroke-width="0.36" font-size="7.55" font-weight="bold" text-anchor="middle" >2</text>
<polyline points="179.82,748.95 196.77,748.95" fill="none" stroke="#3a3a3a" stroke-width="1.5" />
<polyline points="145.93,748.95 179.82,748.95" fill="none" stroke="#3a3aae" stroke-width="1.6" />
<text transform="translate(145.93 747.35) scale(0.94 1)" fill="#8a2a1a" stroke="#8a2a1a" stroke-width="0.36" font-size="7.55" font-weight="bold" text-anchor="start" >CLK</text>
<text transform="translate(202.07 768.5) scale(0.94 1)" fill="#1a1a1a" stroke="#1a1a1a" stroke-width="0.36" font-size="7.5" font-weight="bold" text-anchor="start" textLength="95.21" lengthAdjust="spacingAndGlyphs" >UART1_RX/AIN6/(HS) PD6</text>
<text transform="translate(187.77 764.3) scale(0.94 1)" fill="#1a1a1a" stroke="#1a1a1a" stroke-width="0.36" font-size="7.55" font-weight="bold" text-anchor="middle" >3</text>
<polyline points="179.82,765.9 196.77,765.9" fill="none" stroke="#3a3a3a" stroke-width="1.5" />
<polyline points="145.93,765.9 179.82,765.9" fill="none" stroke="#3a3aae" stroke-width="1.6" />
<text transform="translate(145.93 764.3) scale(0.94 1)" fill="#8a2a1a" stroke="#8a2a1a" stroke-width="0.36" font-size="7.55" font-weight="bold" text-anchor="start" >CS</text>
<text transform="translate(202.07 785.45) scale(0.94 1)" fill="#1a1a1a" stroke="#1a1a1a" stroke-width="0.36" font-size="7.5" font-weight="bold" text-anchor="start" textLength="20.74" lengthAdjust="spacingAndGlyphs" >NRST</text>
<text transform="translate(187.77 781.25) scale(0.94 1)" fill="#1a1a1a" stroke="#1a1a1a" stroke-width="0.36" font-size="7.55" font-weight="bold" text-anchor="middle" >4</text>
<text transform="translate(202.07 802.4) scale(0.94 1)" fill="#1a1a1a" stroke="#1a1a1a" stroke-width="0.36" font-size="7.5" font-weight="bold" text-anchor="start" textLength="38.72" lengthAdjust="spacingAndGlyphs" >OSCIN/PA1</text>
<text transform="translate(187.77 798.2) scale(0.94 1)" fill="#1a1a1a" stroke="#1a1a1a" stroke-width="0.36" font-size="7.55" font-weight="bold" text-anchor="middle" >5</text>
<polyline points="179.82,799.8 196.77,799.8" fill="none" stroke="#3a3a3a" stroke-width="1.5" />
<polyline points="145.93,799.8 179.82,799.8" fill="none" stroke="#3a3aae" stroke-width="1.6" />
<text transform="translate(145.93 798.2) scale(0.94 1)" fill="#8a2a1a" stroke="#8a2a1a" stroke-width="0.36" font-size="7.55" font-weight="bold" text-anchor="start" >RELAY4</text>
<text transform="translate(202.07 819.35) scale(0.94 1)" fill="#1a1a1a" stroke="#1a1a1a" stroke-width="0.36" font-size="7.5" font-weight="bold" text-anchor="start" textLength="48.4" lengthAdjust="spacingAndGlyphs" >OSCOUT/PA2</text>
<text transform="translate(187.77 815.15) scale(0.94 1)" fill="#1a1a1a" stroke="#1a1a1a" stroke-width="0.36" font-size="7.55" font-weight="bold" text-anchor="middle" >6</text>
<polyline points="179.82,816.75 196.77,816.75" fill="none" stroke="#3a3a3a" stroke-width="1.5" />
<polyline points="145.93,816.75 179.82,816.75" fill="none" stroke="#3a3aae" stroke-width="1.6" />
<text transform="translate(145.93 815.15) scale(0.94 1)" fill="#8a2a1a" stroke="#8a2a1a" stroke-width="0.36" font-size="7.55" font-weight="bold" text-anchor="start" >RELAY5</text>
<text transform="translate(202.07 836.3) scale(0.94 1)" fill="#1a1a1a" stroke="#1a1a1a" stroke-width="0.36" font-size="7.5" font-weight="bold" text-anchor="start" textLength="14.04" lengthAdjust="spacingAndGlyphs" >VSS</text>
<text transform="translate(187.77 832.1) scale(0.94 1)" fill="#1a1a1a" stroke="#1a1a1a" stroke-width="0.36" font-size="7.55" font-weight="bold" text-anchor="middle" >7</text>
<text transform="translate(202.07 853.25) scale(0.94 1)" fill="#1a1a1a" stroke="#1a1a1a" stroke-width="0.36" font-size="7.5" font-weight="bold" text-anchor="start" textLength="21.6" lengthAdjust="spacingAndGlyphs" >VCAP</text>
<text transform="translate(187.77 849.05) scale(0.94 1)" fill="#1a1a1a" stroke="#1a1a1a" stroke-width="0.36" font-size="7.55" font-weight="bold" text-anchor="middle" >8</text>
<text transform="translate(202.07 870.2) scale(0.94 1)" fill="#1a1a1a" stroke="#1a1a1a" stroke-width="0.36" font-size="7.5" font-weight="bold" text-anchor="start" textLength="17.23" lengthAdjust="spacingAndGlyphs" >VDD</text>
<text transform="translate(187.77 866.0) scale(0.94 1)" fill="#1a1a1a" stroke="#1a1a1a" stroke-width="0.36" font-size="7.55" font-weight="bold" text-anchor="middle" >9</text>
<polyline points="179.82,867.6 196.77,867.6" fill="none" stroke="#3a3a3a" stroke-width="1.5" />
<polyline points="145.93,867.6 179.82,867.6" fill="none" stroke="#3a3aae" stroke-width="1.6" />
<text transform="translate(154.53 866.0) scale(0.94 1)" fill="#e81010" stroke="#e81010" stroke-width="0.36" font-size="7.55" font-weight="bold" text-anchor="start" >VCC</text>
<text transform="translate(202.07 887.15) scale(0.94 1)" fill="#1a1a1a" stroke="#1a1a1a" stroke-width="0.36" font-size="7.5" font-weight="bold" text-anchor="start" textLength="108.72" lengthAdjust="spacingAndGlyphs" >[SPI_NSS] TIM2_CH3/(HS) PA3</text>
<text transform="translate(187.77 882.95) scale(0.94 1)" fill="#1a1a1a" stroke="#1a1a1a" stroke-width="0.36" font-size="7.55" font-weight="bold" text-anchor="middle" >10</text>
<polyline points="179.82,884.55 196.77,884.55" fill="none" stroke="#3a3a3a" stroke-width="1.5" />
<polyline points="145.93,884.55 179.82,884.55" fill="none" stroke="#3a3aae" stroke-width="1.6" />
<text transform="translate(145.93 882.95) scale(0.94 1)" fill="#8a2a1a" stroke="#8a2a1a" stroke-width="0.36" font-size="7.55" font-weight="bold" text-anchor="start" >RELAY6</text>
<text transform="translate(377.02 742.97) scale(0.94 1)" fill="#1a1a1a" stroke="#1a1a1a" stroke-width="0.36" font-size="7.5" font-weight="bold" text-anchor="end" textLength="128.51" lengthAdjust="spacingAndGlyphs" >PD3 (HS)/AIN4/TIM2_CH2/ADC_ETR</text>
<text transform="translate(393.72 738.87) scale(0.94 1)" fill="#1a1a1a" stroke="#1a1a1a" stroke-width="0.36" font-size="7.55" font-weight="bold" text-anchor="middle" >20</text>
<polyline points="383.22,740.47 400.17,740.47" fill="none" stroke="#3a3a3a" stroke-width="1.4" />
<polyline points="400.17,740.47 451.02,740.47" fill="none" stroke="#3a3aae" stroke-width="1.6" />
<text transform="translate(415.43 738.87) scale(0.94 1)" fill="#8a2a1a" stroke="#8a2a1a" stroke-width="0.36" font-size="7.55" font-weight="bold" text-anchor="start" >ADC4</text>
<text transform="translate(377.02 759.92) scale(0.94 1)" fill="#1a1a1a" stroke="#1a1a1a" stroke-width="0.36" font-size="7.5" font-weight="bold" text-anchor="end" textLength="96.81" lengthAdjust="spacingAndGlyphs" >PD2 (HS)/AIN3/[TIM2_CH3]</text>
<text transform="translate(393.72 755.82) scale(0.94 1)" fill="#1a1a1a" stroke="#1a1a1a" stroke-width="0.36" font-size="7.55" font-weight="bold" text-anchor="middle" >19</text>
<polyline points="383.22,757.42 400.17,757.42" fill="none" stroke="#3a3a3a" stroke-width="1.4" />
<polyline points="400.17,757.42 451.02,757.42" fill="none" stroke="#3a3aae" stroke-width="1.6" />
<text transform="translate(415.43 755.82) scale(0.94 1)" fill="#8a2a1a" stroke="#8a2a1a" stroke-width="0.36" font-size="7.55" font-weight="bold" text-anchor="start" >ADC3</text>
<text transform="translate(377.02 776.88) scale(0.94 1)" fill="#1a1a1a" stroke="#1a1a1a" stroke-width="0.36" font-size="7.5" font-weight="bold" text-anchor="end" textLength="52.87" lengthAdjust="spacingAndGlyphs" >PD1(HS)/SWIM</text>
<text transform="translate(393.72 772.78) scale(0.94 1)" fill="#1a1a1a" stroke="#1a1a1a" stroke-width="0.36" font-size="7.55" font-weight="bold" text-anchor="middle" >18</text>
<polyline points="383.22,774.38 400.17,774.38" fill="none" stroke="#3a3a3a" stroke-width="1.4" />
<polyline points="400.17,774.38 451.02,774.38" fill="none" stroke="#3a3aae" stroke-width="1.6" />
<text transform="translate(415.43 772.78) scale(0.94 1)" fill="#e81010" stroke="#e81010" stroke-width="0.36" font-size="7.55" font-weight="bold" text-anchor="start" >SWIM</text>
<text transform="translate(377.02 793.83) scale(0.94 1)" fill="#1a1a1a" stroke="#1a1a1a" stroke-width="0.36" font-size="7.5" font-weight="bold" text-anchor="end" textLength="112.87" lengthAdjust="spacingAndGlyphs" >PC7 (HS)/SPI_MISO [TIM1_CH2]</text>
<text transform="translate(393.72 789.73) scale(0.94 1)" fill="#1a1a1a" stroke="#1a1a1a" stroke-width="0.36" font-size="7.55" font-weight="bold" text-anchor="middle" >17</text>
<polyline points="383.22,791.33 400.17,791.33" fill="none" stroke="#3a3a3a" stroke-width="1.4" />
<polyline points="400.17,791.33 451.02,791.33" fill="none" stroke="#3a3aae" stroke-width="1.6" />
<text transform="translate(415.43 789.73) scale(0.94 1)" fill="#8a2a1a" stroke="#8a2a1a" stroke-width="0.36" font-size="7.55" font-weight="bold" text-anchor="start" >RELAY3</text>
<text transform="translate(377.02 810.77) scale(0.94 1)" fill="#1a1a1a" stroke="#1a1a1a" stroke-width="0.36" font-size="7.5" font-weight="bold" text-anchor="end" textLength="112.87" lengthAdjust="spacingAndGlyphs" >PC6 (HS)/SPI_MOSI [TIM1_CH1]</text>
<text transform="translate(393.72 806.67) scale(0.94 1)" fill="#1a1a1a" stroke="#1a1a1a" stroke-width="0.36" font-size="7.55" font-weight="bold" text-anchor="middle" >16</text>
<polyline points="383.22,808.27 400.17,808.27" fill="none" stroke="#3a3a3a" stroke-width="1.4" />
<polyline points="400.17,808.27 451.02,808.27" fill="none" stroke="#3a3aae" stroke-width="1.6" />
<text transform="translate(415.43 806.67) scale(0.94 1)" fill="#8a2a1a" stroke="#8a2a1a" stroke-width="0.36" font-size="7.55" font-weight="bold" text-anchor="start" >RELAY2</text>
<text transform="translate(377.02 827.72) scale(0.94 1)" fill="#1a1a1a" stroke="#1a1a1a" stroke-width="0.36" font-size="7.5" font-weight="bold" text-anchor="end" textLength="108.83" lengthAdjust="spacingAndGlyphs" >PC5 (HS)/SPI_SCK [TIM2_CH1]</text>
<text transform="translate(393.72 823.62) scale(0.94 1)" fill="#1a1a1a" stroke="#1a1a1a" stroke-width="0.36" font-size="7.55" font-weight="bold" text-anchor="middle" >15</text>
<polyline points="383.22,825.22 400.17,825.22" fill="none" stroke="#3a3a3a" stroke-width="1.4" />
<polyline points="400.17,825.22 451.02,825.22" fill="none" stroke="#3a3aae" stroke-width="1.6" />
<text transform="translate(415.43 823.62) scale(0.94 1)" fill="#8a2a1a" stroke="#8a2a1a" stroke-width="0.36" font-size="7.55" font-weight="bold" text-anchor="start" >RELAY1</text>
<text transform="translate(377.02 844.67) scale(0.94 1)" fill="#1a1a1a" stroke="#1a1a1a" stroke-width="0.36" font-size="7.5" font-weight="bold" text-anchor="end" textLength="180.64" lengthAdjust="spacingAndGlyphs" >PC4 (HS)/TIM1_CH4/CLK_CCO/AIN2/[TIM1_CH2N]</text>
<text transform="translate(393.72 840.57) scale(0.94 1)" fill="#1a1a1a" stroke="#1a1a1a" stroke-width="0.36" font-size="7.55" font-weight="bold" text-anchor="middle" >14</text>
<polyline points="383.22,842.17 400.17,842.17" fill="none" stroke="#3a3a3a" stroke-width="1.4" />
<polyline points="400.17,842.17 451.02,842.17" fill="none" stroke="#3a3aae" stroke-width="1.6" />
<text transform="translate(415.43 840.57) scale(0.94 1)" fill="#8a2a1a" stroke="#8a2a1a" stroke-width="0.36" font-size="7.55" font-weight="bold" text-anchor="start" >ADC2</text>
<text transform="translate(377.02 861.62) scale(0.94 1)" fill="#1a1a1a" stroke="#1a1a1a" stroke-width="0.36" font-size="7.5" font-weight="bold" text-anchor="end" textLength="141.17" lengthAdjust="spacingAndGlyphs" >PC3 (HS)/TIM1_CH3 [TLI] [TIM1_CH1N]</text>
<text transform="translate(393.72 857.52) scale(0.94 1)" fill="#1a1a1a" stroke="#1a1a1a" stroke-width="0.36" font-size="7.55" font-weight="bold" text-anchor="middle" >13</text>
<polyline points="383.22,859.12 400.17,859.12" fill="none" stroke="#3a3a3a" stroke-width="1.4" />
<polyline points="400.17,859.12 451.02,859.12" fill="none" stroke="#3a3aae" stroke-width="1.6" />
<text transform="translate(415.43 857.52) scale(0.94 1)" fill="#8a2a1a" stroke="#8a2a1a" stroke-width="0.36" font-size="7.55" font-weight="bold" text-anchor="start" >KEY</text>
<text transform="translate(377.02 878.58) scale(0.94 1)" fill="#d6336c" stroke="#d6336c" stroke-width="0.36" font-size="7.5" font-weight="bold" text-anchor="end" textLength="101.6" lengthAdjust="spacingAndGlyphs" >PB4 (T)/I2C_SCL [ADC_ETR]</text>
<text transform="translate(393.72 874.48) scale(0.94 1)" fill="#d6336c" stroke="#d6336c" stroke-width="0.36" font-size="7.55" font-weight="bold" text-anchor="middle" >12</text>
<polyline points="383.22,876.08 400.17,876.08" fill="none" stroke="#d6336c" stroke-width="1.4" />
<polyline points="400.17,876.08 451.02,876.08" fill="none" stroke="#3a3aae" stroke-width="1.6" />
<text transform="translate(415.43 874.48) scale(0.94 1)" fill="#8a2a1a" stroke="#8a2a1a" stroke-width="0.36" font-size="7.55" font-weight="bold" text-anchor="start" >TEMP</text>
<text transform="translate(377.02 895.52) scale(0.94 1)" fill="#d6336c" stroke="#d6336c" stroke-width="0.36" font-size="7.5" font-weight="bold" text-anchor="end" textLength="109.68" lengthAdjust="spacingAndGlyphs" >PB5 (T)/I2C_SDA [TIM1_BKIN]</text>
<text transform="translate(393.72 891.42) scale(0.94 1)" fill="#d6336c" stroke="#d6336c" stroke-width="0.36" font-size="7.55" font-weight="bold" text-anchor="middle" >11</text>
<polyline points="383.22,893.02 400.17,893.02" fill="none" stroke="#d6336c" stroke-width="1.4" />
<polyline points="400.17,893.02 451.02,893.02" fill="none" stroke="#3a3aae" stroke-width="1.6" />
<text transform="translate(415.43 891.42) scale(0.94 1)" fill="#8a2a1a" stroke="#8a2a1a" stroke-width="0.36" font-size="7.55" font-weight="bold" text-anchor="start" >DELAY</text>
<polyline points="451.02,876.08 459.5,876.08" fill="none" stroke="#3a3a3a" stroke-width="1.5" />
<polyline points="476.45,876.08 484.92,876.08" fill="none" stroke="#3a3a3a" stroke-width="1.5" />
<polyline points="451.02,893.02 459.5,893.02" fill="none" stroke="#3a3a3a" stroke-width="1.5" />
<polyline points="476.45,893.02 484.92,893.02" fill="none" stroke="#3a3a3a" stroke-width="1.5" />
<polyline points="484.92,893.02 484.92,867.6" fill="none" stroke="#3a3aae" stroke-width="1.6" />
<polyline points="484.92,867.6 484.92,859.12" fill="none" stroke="#8f2323" stroke-width="1.5" />
<circle cx="484.92" cy="876.08" r="2.4" fill="#0a0a78"/>
<line x1="480.62" y1="859.12" x2="489.22" y2="859.12" stroke="#8f2323" stroke-width="1.4"/>
<text transform="translate(484.92 857.42) scale(0.94 1)" fill="#8f2323" stroke="#8f2323" stroke-width="0.36" font-size="7.55" font-weight="bold" text-anchor="middle" >VCC</text>
<rect x="459.5" y="872.77" width="16.95" height="6.61" fill="#fffcf7" stroke="#1a1aff" stroke-width="1.5"/>
<text transform="translate(459.5 871.48) scale(0.94 1)" fill="#1c1c8c" stroke="#1c1c8c" stroke-width="0.36" font-size="7.55" font-weight="bold" text-anchor="start" >R15</text>
<text transform="translate(459.5 886.18) scale(0.94 1)" fill="#1c1c8c" stroke="#1c1c8c" stroke-width="0.36" font-size="7.55" font-weight="bold" text-anchor="start" >10K/0603</text>
<rect x="459.5" y="889.72" width="16.95" height="6.61" fill="#fffcf7" stroke="#1a1aff" stroke-width="1.5"/>
<text transform="translate(459.5 886.52) scale(0.94 1)" fill="#1c1c8c" stroke="#1c1c8c" stroke-width="0.36" font-size="7.55" font-weight="bold" text-anchor="start" >R16</text>
<text transform="translate(459.5 903.12) scale(0.94 1)" fill="#1c1c8c" stroke="#1c1c8c" stroke-width="0.36" font-size="7.55" font-weight="bold" text-anchor="start" >10K/0603</text>
<polyline points="69.65,782.85 78.12,782.85" fill="none" stroke="#3a3aae" stroke-width="1.6" />
<polyline points="78.12,782.85 86.6,782.85" fill="none" stroke="#3a3a3a" stroke-width="1.5" />
<polyline points="103.55,782.85 120.5,782.85" fill="none" stroke="#3a3a3a" stroke-width="1.5" />
<polyline points="120.5,782.85 179.82,782.85" fill="none" stroke="#3a3aae" stroke-width="1.6" />
<polyline points="179.82,782.85 196.77,782.85" fill="none" stroke="#3a3a3a" stroke-width="1.5" />
<text transform="translate(70.65 781.25) scale(0.94 1)" fill="#e81010" stroke="#e81010" stroke-width="0.36" font-size="7.55" font-weight="bold" text-anchor="start" >VCC</text>
<text transform="translate(154.82 781.25) scale(0.94 1)" fill="#e81010" stroke="#e81010" stroke-width="0.36" font-size="7.55" font-weight="bold" text-anchor="start" >NRST</text>
<rect x="86.6" y="779.54" width="16.95" height="6.62" fill="#fffcf7" stroke="#1a1aff" stroke-width="1.5"/>
<text transform="translate(86.6 778.25) scale(0.94 1)" fill="#1c1c8c" stroke="#1c1c8c" stroke-width="0.36" font-size="7.55" font-weight="bold" text-anchor="start" >R7</text>
<text transform="translate(86.6 792.95) scale(0.94 1)" fill="#1c1c8c" stroke="#1c1c8c" stroke-width="0.36" font-size="7.55" font-weight="bold" text-anchor="start" >10K/0603</text>
<circle cx="120.5" cy="782.85" r="2.4" fill="#0a0a78"/>
<polyline points="69.65,782.85 69.65,791.33" fill="none" stroke="#3a3aae" stroke-width="1.6" />
<polyline points="69.65,791.33 69.65,801.5" fill="none" stroke="#3a3a3a" stroke-width="1.5" />
<polyline points="69.65,806.58 69.65,816.75" fill="none" stroke="#3a3a3a" stroke-width="1.5" />
<polyline points="69.65,816.75 69.65,833.7" fill="none" stroke="#3a3aae" stroke-width="1.6" />
<line x1="62.650000000000006" y1="802.3145" x2="76.65" y2="802.3145" stroke="#1a1aff" stroke-width="1.4"/>
<line x1="62.650000000000006" y1="805.7655" x2="76.65" y2="805.7655" stroke="#1a1aff" stroke-width="1.4"/>
<text transform="translate(77.25 804.91) scale(0.94 1)" fill="#1c1c8c" stroke="#1c1c8c" stroke-width="0.36" font-size="7.55" font-weight="bold" text-anchor="start" >C1</text>
<text transform="translate(77.25 813.71) scale(0.94 1)" fill="#1c1c8c" stroke="#1c1c8c" stroke-width="0.36" font-size="7.55" font-weight="bold" text-anchor="start" >104/0603</text>
<polyline points="120.5,782.85 120.5,808.27" fill="none" stroke="#3a3aae" stroke-width="1.6" />
<polyline points="120.5,808.27 120.5,818.44" fill="none" stroke="#3a3a3a" stroke-width="1.5" />
<polyline points="120.5,823.53 120.5,833.7" fill="none" stroke="#3a3a3a" stroke-width="1.5" />
<line x1="113.5" y1="819.2645" x2="127.5" y2="819.2645" stroke="#1a1aff" stroke-width="1.4"/>
<line x1="113.5" y1="822.7155" x2="127.5" y2="822.7155" stroke="#1a1aff" stroke-width="1.4"/>
<text transform="translate(128.1 821.86) scale(0.94 1)" fill="#1c1c8c" stroke="#1c1c8c" stroke-width="0.36" font-size="7.55" font-weight="bold" text-anchor="start" >C2</text>
<text transform="translate(128.1 830.66) scale(0.94 1)" fill="#1c1c8c" stroke="#1c1c8c" stroke-width="0.36" font-size="7.55" font-weight="bold" text-anchor="start" >104/0603</text>
<polyline points="69.65,833.7 179.82,833.7" fill="none" stroke="#3a3aae" stroke-width="1.6" />
<polyline points="179.82,833.7 196.77,833.7" fill="none" stroke="#3a3a3a" stroke-width="1.5" />
<circle cx="69.65" cy="833.7" r="2.4" fill="#0a0a78"/>
<circle cx="120.5" cy="833.7" r="2.4" fill="#0a0a78"/>
<text transform="translate(78.12 832.1) scale(0.94 1)" fill="#e81010" stroke="#e81010" stroke-width="0.36" font-size="7.55" font-weight="bold" text-anchor="start" >GND</text>
<polyline points="69.65,833.7 69.65,844.72" fill="none" stroke="#3a3a3a" stroke-width="1.5" />
<polyline points="69.65,848.11 69.65,859.12" fill="none" stroke="#3a3a3a" stroke-width="1.5" />
<polyline points="69.65,859.12 171.35,859.12 171.35,850.65 179.82,850.65" fill="none" stroke="#3a3aae" stroke-width="1.6" />
<polyline points="179.82,850.65 196.77,850.65" fill="none" stroke="#3a3a3a" stroke-width="1.5" />
<polyline points="120.5,833.7 120.5,844.72" fill="none" stroke="#3a3a3a" stroke-width="1.5" />
<polyline points="120.5,848.11 120.5,859.12" fill="none" stroke="#3a3a3a" stroke-width="1.5" />
<circle cx="120.5" cy="859.12" r="2.4" fill="#0a0a78"/>
<line x1="62.650000000000006" y1="844.6845" x2="76.65" y2="844.6845" stroke="#1a1aff" stroke-width="1.4"/>
<line x1="62.650000000000006" y1="848.1355" x2="76.65" y2="848.1355" stroke="#1a1aff" stroke-width="1.4"/>
<text transform="translate(77.25 847.28) scale(0.94 1)" fill="#1c1c8c" stroke="#1c1c8c" stroke-width="0.36" font-size="7.55" font-weight="bold" text-anchor="start" >C3</text>
<text transform="translate(77.25 856.08) scale(0.94 1)" fill="#1c1c8c" stroke="#1c1c8c" stroke-width="0.36" font-size="7.55" font-weight="bold" text-anchor="start" >105/0603</text>
<line x1="113.5" y1="844.6845" x2="127.5" y2="844.6845" stroke="#1a1aff" stroke-width="1.4"/>
<line x1="113.5" y1="848.1355" x2="127.5" y2="848.1355" stroke="#1a1aff" stroke-width="1.4"/>
<text transform="translate(128.1 847.28) scale(0.94 1)" fill="#1c1c8c" stroke="#1c1c8c" stroke-width="0.36" font-size="7.55" font-weight="bold" text-anchor="start" >C4</text>
<text transform="translate(128.1 856.08) scale(0.94 1)" fill="#1c1c8c" stroke="#1c1c8c" stroke-width="0.36" font-size="7.55" font-weight="bold" text-anchor="start" >104/0603</text>
<polyline points="595.1,342.15 586.62,350.62 595.1,359.1" fill="none" stroke="#1a1aff" stroke-width="1.5" />
<polyline points="586.62,350.62 595.1,350.62" fill="none" stroke="#1a1aff" stroke-width="1.5" />
<polyline points="595.1,350.62 612.05,350.62" fill="none" stroke="#3a3a3a" stroke-width="1.5" />
<polyline points="612.05,350.62 645.95,350.62" fill="none" stroke="#3a3aae" stroke-width="1.6" />
<text transform="translate(586.62 339.62) scale(0.94 1)" fill="#1c1c8c" stroke="#1c1c8c" stroke-width="0.36" font-size="7.55" font-weight="bold" text-anchor="start" >220V</text>
<text transform="translate(586.62 366.82) scale(0.94 1)" fill="#1c1c8c" stroke="#1c1c8c" stroke-width="0.36" font-size="7.55" font-weight="bold" text-anchor="start" >Plug</text>
<text transform="translate(620.02 349.02) scale(0.94 1)" fill="#8a2a1a" stroke="#8a2a1a" stroke-width="0.36" font-size="7.55" font-weight="bold" text-anchor="start" >220V</text>
<polyline points="595.1,376.05 586.62,384.52 595.1,393.0" fill="none" stroke="#1a1aff" stroke-width="1.5" />
<polyline points="586.62,384.52 595.1,384.52" fill="none" stroke="#1a1aff" stroke-width="1.5" />
<polyline points="595.1,384.52 612.05,384.52" fill="none" stroke="#3a3a3a" stroke-width="1.5" />
<polyline points="612.05,384.52 645.95,384.52" fill="none" stroke="#3a3aae" stroke-width="1.6" />
<text transform="translate(586.62 373.52) scale(0.94 1)" fill="#1c1c8c" stroke="#1c1c8c" stroke-width="0.36" font-size="7.55" font-weight="bold" text-anchor="start" >199V</text>
<text transform="translate(586.62 400.72) scale(0.94 1)" fill="#1c1c8c" stroke="#1c1c8c" stroke-width="0.36" font-size="7.55" font-weight="bold" text-anchor="start" >Plug</text>
<text transform="translate(620.02 382.92) scale(0.94 1)" fill="#8a2a1a" stroke="#8a2a1a" stroke-width="0.36" font-size="7.55" font-weight="bold" text-anchor="start" >199V</text>
<polyline points="595.1,409.95 586.62,418.42 595.1,426.9" fill="none" stroke="#1a1aff" stroke-width="1.5" />
<polyline points="586.62,418.42 595.1,418.42" fill="none" stroke="#1a1aff" stroke-width="1.5" />
<polyline points="595.1,418.42 612.05,418.42" fill="none" stroke="#3a3a3a" stroke-width="1.5" />
<polyline points="612.05,418.42 645.95,418.42" fill="none" stroke="#3a3aae" stroke-width="1.6" />
<text transform="translate(586.62 407.42) scale(0.94 1)" fill="#1c1c8c" stroke="#1c1c8c" stroke-width="0.36" font-size="7.55" font-weight="bold" text-anchor="start" >181V</text>
<text transform="translate(586.62 434.62) scale(0.94 1)" fill="#1c1c8c" stroke="#1c1c8c" stroke-width="0.36" font-size="7.55" font-weight="bold" text-anchor="start" >Plug</text>
<text transform="translate(620.02 416.82) scale(0.94 1)" fill="#8a2a1a" stroke="#8a2a1a" stroke-width="0.36" font-size="7.55" font-weight="bold" text-anchor="start" >181V</text>
<polyline points="595.1,443.85 586.62,452.32 595.1,460.8" fill="none" stroke="#1a1aff" stroke-width="1.5" />
<polyline points="586.62,452.32 595.1,452.32" fill="none" stroke="#1a1aff" stroke-width="1.5" />
<polyline points="595.1,452.32 612.05,452.32" fill="none" stroke="#3a3a3a" stroke-width="1.5" />
<polyline points="612.05,452.32 645.95,452.32" fill="none" stroke="#3a3aae" stroke-width="1.6" />
<text transform="translate(586.62 441.32) scale(0.94 1)" fill="#1c1c8c" stroke="#1c1c8c" stroke-width="0.36" font-size="7.55" font-weight="bold" text-anchor="start" >149V</text>
<text transform="translate(586.62 468.52) scale(0.94 1)" fill="#1c1c8c" stroke="#1c1c8c" stroke-width="0.36" font-size="7.55" font-weight="bold" text-anchor="start" >Plug</text>
<text transform="translate(620.02 450.72) scale(0.94 1)" fill="#8a2a1a" stroke="#8a2a1a" stroke-width="0.36" font-size="7.55" font-weight="bold" text-anchor="start" >149V</text>
<polyline points="595.1,477.75 586.62,486.23 595.1,494.7" fill="none" stroke="#1a1aff" stroke-width="1.5" />
<polyline points="586.62,486.23 595.1,486.23" fill="none" stroke="#1a1aff" stroke-width="1.5" />
<polyline points="595.1,486.23 612.05,486.23" fill="none" stroke="#3a3a3a" stroke-width="1.5" />
<polyline points="612.05,486.23 645.95,486.23" fill="none" stroke="#3a3aae" stroke-width="1.6" />
<text transform="translate(586.62 475.23) scale(0.94 1)" fill="#1c1c8c" stroke="#1c1c8c" stroke-width="0.36" font-size="7.55" font-weight="bold" text-anchor="start" >122V</text>
<text transform="translate(586.62 502.43) scale(0.94 1)" fill="#1c1c8c" stroke="#1c1c8c" stroke-width="0.36" font-size="7.55" font-weight="bold" text-anchor="start" >Plug</text>
<text transform="translate(620.02 484.63) scale(0.94 1)" fill="#8a2a1a" stroke="#8a2a1a" stroke-width="0.36" font-size="7.55" font-weight="bold" text-anchor="start" >122V</text>
<polyline points="595.1,511.65 586.62,520.12 595.1,528.6" fill="none" stroke="#1a1aff" stroke-width="1.5" />
<polyline points="586.62,520.12 595.1,520.12" fill="none" stroke="#1a1aff" stroke-width="1.5" />
<polyline points="595.1,520.12 612.05,520.12" fill="none" stroke="#3a3a3a" stroke-width="1.5" />
<polyline points="612.05,520.12 645.95,520.12" fill="none" stroke="#3a3aae" stroke-width="1.6" />
<text transform="translate(586.62 509.12) scale(0.94 1)" fill="#1c1c8c" stroke="#1c1c8c" stroke-width="0.36" font-size="7.55" font-weight="bold" text-anchor="start" >102V</text>
<text transform="translate(586.62 536.32) scale(0.94 1)" fill="#1c1c8c" stroke="#1c1c8c" stroke-width="0.36" font-size="7.55" font-weight="bold" text-anchor="start" >Plug</text>
<text transform="translate(620.02 518.52) scale(0.94 1)" fill="#8a2a1a" stroke="#8a2a1a" stroke-width="0.36" font-size="7.55" font-weight="bold" text-anchor="start" >102V</text>
<polyline points="654.43,350.62 671.38,350.62" fill="none" stroke="#3a3aae" stroke-width="1.6" />
<polyline points="671.38,350.62 688.33,350.62" fill="none" stroke="#3a3a3a" stroke-width="1.5" />
<polyline points="688.33,342.15 696.8,350.62 688.33,359.1" fill="none" stroke="#1a1aff" stroke-width="1.5" />
<polyline points="688.33,350.62 696.8,350.62" fill="none" stroke="#1a1aff" stroke-width="1.5" />
<text transform="translate(687.33 339.62) scale(0.94 1)" fill="#1c1c8c" stroke="#1c1c8c" stroke-width="0.36" font-size="7.55" font-weight="bold" text-anchor="start" >LIN</text>
<text transform="translate(687.33 366.82) scale(0.94 1)" fill="#1c1c8c" stroke="#1c1c8c" stroke-width="0.36" font-size="7.55" font-weight="bold" text-anchor="start" >Plug</text>
<text transform="translate(654.43 349.02) scale(0.94 1)" fill="#8a2a1a" stroke="#8a2a1a" stroke-width="0.36" font-size="7.55" font-weight="bold" text-anchor="start" >LIN</text>
<polyline points="654.43,384.52 671.38,384.52" fill="none" stroke="#3a3aae" stroke-width="1.6" />
<polyline points="671.38,384.52 688.33,384.52" fill="none" stroke="#3a3a3a" stroke-width="1.5" />
<polyline points="688.33,376.05 696.8,384.52 688.33,393.0" fill="none" stroke="#1a1aff" stroke-width="1.5" />
<polyline points="688.33,384.52 696.8,384.52" fill="none" stroke="#1a1aff" stroke-width="1.5" />
<text transform="translate(687.33 373.52) scale(0.94 1)" fill="#1c1c8c" stroke="#1c1c8c" stroke-width="0.36" font-size="7.55" font-weight="bold" text-anchor="start" >SDIN</text>
<text transform="translate(687.33 400.72) scale(0.94 1)" fill="#1c1c8c" stroke="#1c1c8c" stroke-width="0.36" font-size="7.55" font-weight="bold" text-anchor="start" >Plug</text>
<text transform="translate(654.43 382.92) scale(0.94 1)" fill="#8a2a1a" stroke="#8a2a1a" stroke-width="0.36" font-size="7.55" font-weight="bold" text-anchor="start" >SDIN</text>
<polyline points="654.43,418.42 671.38,418.42" fill="none" stroke="#3a3aae" stroke-width="1.6" />
<polyline points="671.38,418.42 688.33,418.42" fill="none" stroke="#3a3a3a" stroke-width="1.5" />
<polyline points="688.33,409.95 696.8,418.42 688.33,426.9" fill="none" stroke="#1a1aff" stroke-width="1.5" />
<polyline points="688.33,418.42 696.8,418.42" fill="none" stroke="#1a1aff" stroke-width="1.5" />
<text transform="translate(687.33 407.42) scale(0.94 1)" fill="#1c1c8c" stroke="#1c1c8c" stroke-width="0.36" font-size="7.55" font-weight="bold" text-anchor="start" >LOUT</text>
<text transform="translate(687.33 434.62) scale(0.94 1)" fill="#1c1c8c" stroke="#1c1c8c" stroke-width="0.36" font-size="7.55" font-weight="bold" text-anchor="start" >Plug</text>
<text transform="translate(654.43 416.82) scale(0.94 1)" fill="#8a2a1a" stroke="#8a2a1a" stroke-width="0.36" font-size="7.55" font-weight="bold" text-anchor="start" >LOUT</text>
<polyline points="654.43,452.32 671.38,452.32" fill="none" stroke="#3a3aae" stroke-width="1.6" />
<polyline points="671.38,452.32 688.33,452.32" fill="none" stroke="#3a3a3a" stroke-width="1.5" />
<polyline points="688.33,443.85 696.8,452.32 688.33,460.8" fill="none" stroke="#1a1aff" stroke-width="1.5" />
<polyline points="688.33,452.32 696.8,452.32" fill="none" stroke="#1a1aff" stroke-width="1.5" />
<text transform="translate(687.33 441.32) scale(0.94 1)" fill="#1c1c8c" stroke="#1c1c8c" stroke-width="0.36" font-size="7.55" font-weight="bold" text-anchor="start" >N</text>
<text transform="translate(687.33 468.52) scale(0.94 1)" fill="#1c1c8c" stroke="#1c1c8c" stroke-width="0.36" font-size="7.55" font-weight="bold" text-anchor="start" >Plug</text>
<text transform="translate(654.43 450.72) scale(0.94 1)" fill="#8a2a1a" stroke="#8a2a1a" stroke-width="0.36" font-size="7.55" font-weight="bold" text-anchor="start" >N</text>
<line x1="667.08" y1="486.23" x2="675.68" y2="486.23" stroke="#8f2323" stroke-width="1.4"/>
<polyline points="671.38,486.23 671.38,494.7" fill="none" stroke="#8f2323" stroke-width="1.5" />
<text transform="translate(670.38 484.53) scale(0.94 1)" fill="#8f2323" stroke="#8f2323" stroke-width="0.36" font-size="7.55" font-weight="bold" text-anchor="middle" >DC12V</text>
<polyline points="671.38,494.7 671.38,501.9" fill="none" stroke="#3a3a3a" stroke-width="1.5" />
<polyline points="671.38,506.99 671.38,520.12" fill="none" stroke="#3a3a3a" stroke-width="1.5" />
<polyline points="671.38,520.12 671.38,528.6" fill="none" stroke="#8f2323" stroke-width="1.5" />
<line x1="662.38" y1="528.6" x2="680.38" y2="528.6" stroke="#8f2323" stroke-width="1.3"/>
<line x1="665.18" y1="531.2" x2="677.58" y2="531.2" stroke="#8f2323" stroke-width="1.3"/>
<line x1="667.78" y1="533.8000000000001" x2="674.98" y2="533.8000000000001" stroke="#8f2323" stroke-width="1.3"/>
<line x1="670.18" y1="536.4" x2="672.58" y2="536.4" stroke="#8f2323" stroke-width="1.3"/>
<text transform="translate(671.38 543.9) scale(0.94 1)" fill="#8f2323" stroke="#8f2323" stroke-width="0.36" font-size="7.55" font-weight="bold" text-anchor="middle" >GND</text>
<line x1="664.38" y1="502.30075" x2="678.38" y2="502.30075" stroke="#1a1aff" stroke-width="1.4"/>
<path d="M664.38,507.99924999999996 Q671.38,504.39925 678.38,507.99924999999996" fill="none" stroke="#1a1aff" stroke-width="1.4"/>
<text transform="translate(674.38 501.3) scale(0.94 1)" fill="#1a1aff" stroke="#1a1aff" stroke-width="0.36" font-size="6.5" font-weight="bold" text-anchor="start" >+</text>
<text transform="translate(678.88 502.1) scale(0.94 1)" fill="#1c1c8c" stroke="#1c1c8c" stroke-width="0.36" font-size="7.55" font-weight="bold" text-anchor="start" >C6</text>
<text transform="translate(678.88 510.9) scale(0.94 1)" fill="#1c1c8c" stroke="#1c1c8c" stroke-width="0.36" font-size="7.55" font-weight="bold" text-anchor="start" >470uF/35V</text>
<text transform="translate(678.88 527.8) scale(0.94 1)" fill="#1c1c8c" stroke="#1c1c8c" stroke-width="0.36" font-size="7.55" font-weight="bold" text-anchor="start" >0.5K/5K</text>
<rect x="612.05" y="554.02" width="59.33" height="93.23" fill="#ffffb3" stroke="#8b1a1a" stroke-width="1.6"/>
<text transform="translate(612.55 551.82) scale(0.94 1)" fill="#1c1c8c" stroke="#1c1c8c" stroke-width="0.36" font-size="7.55" font-weight="bold" text-anchor="start" >U3</text>
<text transform="translate(612.55 654.05) scale(0.94 1)" fill="#1c1c8c" stroke="#1c1c8c" stroke-width="0.36" font-size="7.55" font-weight="bold" text-anchor="start" textLength="68.09" lengthAdjust="spacingAndGlyphs" >ULN2803AG/SOP18</text>
<text transform="translate(617.55 565.1) scale(0.94 1)" fill="#1a1a1a" stroke="#1a1a1a" stroke-width="0.36" font-size="7.9" font-weight="bold" text-anchor="start" >IN1</text>
<text transform="translate(664.38 565.1) scale(0.94 1)" fill="#1a1a1a" stroke="#1a1a1a" stroke-width="0.36" font-size="7.9" font-weight="bold" text-anchor="end" >OUT1</text>
<path d="M611.55,562.5 L607.25,560.5 L607.25,564.5 Z" fill="none" stroke="#1a1a1a" stroke-width="0.9"/>
<polyline points="569.68,562.5 595.1,562.5" fill="none" stroke="#3a3aae" stroke-width="1.6" />
<polyline points="595.1,562.5 612.05,562.5" fill="none" stroke="#3a3a3a" stroke-width="1.5" />
<text transform="translate(569.68 560.9) scale(0.94 1)" fill="#8a2a1a" stroke="#8a2a1a" stroke-width="0.36" font-size="7.55" font-weight="bold" text-anchor="start" textLength="28.72" lengthAdjust="spacingAndGlyphs" >RELAY1</text>
<text transform="translate(602.4 560.9) scale(0.94 1)" fill="#1a1a1a" stroke="#1a1a1a" stroke-width="0.36" font-size="7.55" font-weight="bold" text-anchor="middle" >1</text>
<polyline points="671.38,562.5 688.33,562.5" fill="none" stroke="#3a3a3a" stroke-width="1.5" />
<polyline points="688.33,562.5 713.75,562.5" fill="none" stroke="#3a3aae" stroke-width="1.6" />
<text transform="translate(682.45 560.9) scale(0.94 1)" fill="#1a1a1a" stroke="#1a1a1a" stroke-width="0.36" font-size="7.55" font-weight="bold" text-anchor="middle" >18</text>
<text transform="translate(688.33 560.9) scale(0.94 1)" fill="#8a2a1a" stroke="#8a2a1a" stroke-width="0.36" font-size="7.55" font-weight="bold" text-anchor="start" textLength="31.91" lengthAdjust="spacingAndGlyphs" >REL_OT1</text>
<text transform="translate(617.55 573.57) scale(0.94 1)" fill="#1a1a1a" stroke="#1a1a1a" stroke-width="0.36" font-size="7.9" font-weight="bold" text-anchor="start" >IN2</text>
<text transform="translate(664.38 573.57) scale(0.94 1)" fill="#1a1a1a" stroke="#1a1a1a" stroke-width="0.36" font-size="7.9" font-weight="bold" text-anchor="end" >OUT2</text>
<path d="M611.55,570.97 L607.25,568.97 L607.25,572.97 Z" fill="none" stroke="#1a1a1a" stroke-width="0.9"/>
<polyline points="569.68,570.97 595.1,570.97" fill="none" stroke="#3a3aae" stroke-width="1.6" />
<polyline points="595.1,570.97 612.05,570.97" fill="none" stroke="#3a3a3a" stroke-width="1.5" />
<text transform="translate(569.68 569.37) scale(0.94 1)" fill="#8a2a1a" stroke="#8a2a1a" stroke-width="0.36" font-size="7.55" font-weight="bold" text-anchor="start" textLength="28.72" lengthAdjust="spacingAndGlyphs" >RELAY2</text>
<text transform="translate(602.4 569.37) scale(0.94 1)" fill="#1a1a1a" stroke="#1a1a1a" stroke-width="0.36" font-size="7.55" font-weight="bold" text-anchor="middle" >2</text>
<polyline points="671.38,570.97 688.33,570.97" fill="none" stroke="#3a3a3a" stroke-width="1.5" />
<polyline points="688.33,570.97 713.75,570.97" fill="none" stroke="#3a3aae" stroke-width="1.6" />
<text transform="translate(682.45 569.37) scale(0.94 1)" fill="#1a1a1a" stroke="#1a1a1a" stroke-width="0.36" font-size="7.55" font-weight="bold" text-anchor="middle" >17</text>
<text transform="translate(688.33 569.37) scale(0.94 1)" fill="#8a2a1a" stroke="#8a2a1a" stroke-width="0.36" font-size="7.55" font-weight="bold" text-anchor="start" textLength="31.91" lengthAdjust="spacingAndGlyphs" >REL_OT2</text>
<text transform="translate(617.55 582.05) scale(0.94 1)" fill="#1a1a1a" stroke="#1a1a1a" stroke-width="0.36" font-size="7.9" font-weight="bold" text-anchor="start" >IN3</text>
<text transform="translate(664.38 582.05) scale(0.94 1)" fill="#1a1a1a" stroke="#1a1a1a" stroke-width="0.36" font-size="7.9" font-weight="bold" text-anchor="end" >OUT3</text>
<path d="M611.55,579.45 L607.25,577.45 L607.25,581.45 Z" fill="none" stroke="#1a1a1a" stroke-width="0.9"/>
<polyline points="569.68,579.45 595.1,579.45" fill="none" stroke="#3a3aae" stroke-width="1.6" />
<polyline points="595.1,579.45 612.05,579.45" fill="none" stroke="#3a3a3a" stroke-width="1.5" />
<text transform="translate(569.68 577.85) scale(0.94 1)" fill="#8a2a1a" stroke="#8a2a1a" stroke-width="0.36" font-size="7.55" font-weight="bold" text-anchor="start" textLength="28.72" lengthAdjust="spacingAndGlyphs" >RELAY3</text>
<text transform="translate(602.4 577.85) scale(0.94 1)" fill="#1a1a1a" stroke="#1a1a1a" stroke-width="0.36" font-size="7.55" font-weight="bold" text-anchor="middle" >3</text>
<polyline points="671.38,579.45 688.33,579.45" fill="none" stroke="#3a3a3a" stroke-width="1.5" />
<polyline points="688.33,579.45 713.75,579.45" fill="none" stroke="#3a3aae" stroke-width="1.6" />
<text transform="translate(682.45 577.85) scale(0.94 1)" fill="#1a1a1a" stroke="#1a1a1a" stroke-width="0.36" font-size="7.55" font-weight="bold" text-anchor="middle" >16</text>
<text transform="translate(688.33 577.85) scale(0.94 1)" fill="#8a2a1a" stroke="#8a2a1a" stroke-width="0.36" font-size="7.55" font-weight="bold" text-anchor="start" textLength="31.91" lengthAdjust="spacingAndGlyphs" >REL_OT3</text>
<text transform="translate(617.55 590.52) scale(0.94 1)" fill="#1a1a1a" stroke="#1a1a1a" stroke-width="0.36" font-size="7.9" font-weight="bold" text-anchor="start" >IN4</text>
<text transform="translate(664.38 590.52) scale(0.94 1)" fill="#1a1a1a" stroke="#1a1a1a" stroke-width="0.36" font-size="7.9" font-weight="bold" text-anchor="end" >OUT4</text>
<path d="M611.55,587.92 L607.25,585.92 L607.25,589.92 Z" fill="none" stroke="#1a1a1a" stroke-width="0.9"/>
<polyline points="569.68,587.92 595.1,587.92" fill="none" stroke="#3a3aae" stroke-width="1.6" />
<polyline points="595.1,587.92 612.05,587.92" fill="none" stroke="#3a3a3a" stroke-width="1.5" />
<text transform="translate(569.68 586.32) scale(0.94 1)" fill="#8a2a1a" stroke="#8a2a1a" stroke-width="0.36" font-size="7.55" font-weight="bold" text-anchor="start" textLength="28.72" lengthAdjust="spacingAndGlyphs" >RELAY4</text>
<text transform="translate(602.4 586.32) scale(0.94 1)" fill="#1a1a1a" stroke="#1a1a1a" stroke-width="0.36" font-size="7.55" font-weight="bold" text-anchor="middle" >4</text>
<polyline points="671.38,587.92 688.33,587.92" fill="none" stroke="#3a3a3a" stroke-width="1.5" />
<polyline points="688.33,587.92 713.75,587.92" fill="none" stroke="#3a3aae" stroke-width="1.6" />
<text transform="translate(682.45 586.32) scale(0.94 1)" fill="#1a1a1a" stroke="#1a1a1a" stroke-width="0.36" font-size="7.55" font-weight="bold" text-anchor="middle" >15</text>
<text transform="translate(688.33 586.32) scale(0.94 1)" fill="#8a2a1a" stroke="#8a2a1a" stroke-width="0.36" font-size="7.55" font-weight="bold" text-anchor="start" textLength="31.91" lengthAdjust="spacingAndGlyphs" >REL_OT4</text>
<text transform="translate(617.55 599.0) scale(0.94 1)" fill="#1a1a1a" stroke="#1a1a1a" stroke-width="0.36" font-size="7.9" font-weight="bold" text-anchor="start" >IN5</text>
<text transform="translate(664.38 599.0) scale(0.94 1)" fill="#1a1a1a" stroke="#1a1a1a" stroke-width="0.36" font-size="7.9" font-weight="bold" text-anchor="end" >OUT5</text>
<path d="M611.55,596.4 L607.25,594.4 L607.25,598.4 Z" fill="none" stroke="#1a1a1a" stroke-width="0.9"/>
<polyline points="569.68,596.4 595.1,596.4" fill="none" stroke="#3a3aae" stroke-width="1.6" />
<polyline points="595.1,596.4 612.05,596.4" fill="none" stroke="#3a3a3a" stroke-width="1.5" />
<text transform="translate(569.68 594.8) scale(0.94 1)" fill="#8a2a1a" stroke="#8a2a1a" stroke-width="0.36" font-size="7.55" font-weight="bold" text-anchor="start" textLength="28.72" lengthAdjust="spacingAndGlyphs" >RELAY5</text>
<text transform="translate(602.4 594.8) scale(0.94 1)" fill="#1a1a1a" stroke="#1a1a1a" stroke-width="0.36" font-size="7.55" font-weight="bold" text-anchor="middle" >5</text>
<polyline points="671.38,596.4 688.33,596.4" fill="none" stroke="#3a3a3a" stroke-width="1.5" />
<polyline points="688.33,596.4 713.75,596.4" fill="none" stroke="#3a3aae" stroke-width="1.6" />
<text transform="translate(682.45 594.8) scale(0.94 1)" fill="#1a1a1a" stroke="#1a1a1a" stroke-width="0.36" font-size="7.55" font-weight="bold" text-anchor="middle" >14</text>
<text transform="translate(688.33 594.8) scale(0.94 1)" fill="#8a2a1a" stroke="#8a2a1a" stroke-width="0.36" font-size="7.55" font-weight="bold" text-anchor="start" textLength="31.91" lengthAdjust="spacingAndGlyphs" >REL_OT5</text>
<text transform="translate(617.55 607.48) scale(0.94 1)" fill="#1a1a1a" stroke="#1a1a1a" stroke-width="0.36" font-size="7.9" font-weight="bold" text-anchor="start" >IN6</text>
<text transform="translate(664.38 607.48) scale(0.94 1)" fill="#1a1a1a" stroke="#1a1a1a" stroke-width="0.36" font-size="7.9" font-weight="bold" text-anchor="end" >OUT6</text>
<path d="M611.55,604.88 L607.25,602.88 L607.25,606.88 Z" fill="none" stroke="#1a1a1a" stroke-width="0.9"/>
<polyline points="569.68,604.88 595.1,604.88" fill="none" stroke="#3a3aae" stroke-width="1.6" />
<polyline points="595.1,604.88 612.05,604.88" fill="none" stroke="#3a3a3a" stroke-width="1.5" />
<text transform="translate(569.68 603.28) scale(0.94 1)" fill="#8a2a1a" stroke="#8a2a1a" stroke-width="0.36" font-size="7.55" font-weight="bold" text-anchor="start" textLength="28.72" lengthAdjust="spacingAndGlyphs" >RELAY6</text>
<text transform="translate(602.4 603.28) scale(0.94 1)" fill="#1a1a1a" stroke="#1a1a1a" stroke-width="0.36" font-size="7.55" font-weight="bold" text-anchor="middle" >6</text>
<polyline points="671.38,604.88 688.33,604.88" fill="none" stroke="#3a3a3a" stroke-width="1.5" />
<polyline points="688.33,604.88 713.75,604.88" fill="none" stroke="#3a3aae" stroke-width="1.6" />
<text transform="translate(682.45 603.28) scale(0.94 1)" fill="#1a1a1a" stroke="#1a1a1a" stroke-width="0.36" font-size="7.55" font-weight="bold" text-anchor="middle" >13</text>
<text transform="translate(688.33 603.28) scale(0.94 1)" fill="#8a2a1a" stroke="#8a2a1a" stroke-width="0.36" font-size="7.55" font-weight="bold" text-anchor="start" textLength="31.91" lengthAdjust="spacingAndGlyphs" >REL_OT6</text>
<text transform="translate(617.55 615.95) scale(0.94 1)" fill="#1a1a1a" stroke="#1a1a1a" stroke-width="0.36" font-size="7.9" font-weight="bold" text-anchor="start" >IN7</text>
<text transform="translate(664.38 615.95) scale(0.94 1)" fill="#1a1a1a" stroke="#1a1a1a" stroke-width="0.36" font-size="7.9" font-weight="bold" text-anchor="end" >OUT7</text>
<path d="M611.55,613.35 L607.25,611.35 L607.25,615.35 Z" fill="none" stroke="#1a1a1a" stroke-width="0.9"/>
<polyline points="595.1,613.35 612.05,613.35" fill="none" stroke="#3a3a3a" stroke-width="1.5" />
<text transform="translate(602.4 611.75) scale(0.94 1)" fill="#1a1a1a" stroke="#1a1a1a" stroke-width="0.36" font-size="7.55" font-weight="bold" text-anchor="middle" >7</text>
<polyline points="671.38,613.35 688.33,613.35" fill="none" stroke="#3a3a3a" stroke-width="1.5" />
<polyline points="688.33,613.35 713.75,613.35" fill="none" stroke="#3a3aae" stroke-width="1.6" />
<text transform="translate(682.45 611.75) scale(0.94 1)" fill="#1a1a1a" stroke="#1a1a1a" stroke-width="0.36" font-size="7.55" font-weight="bold" text-anchor="middle" >12</text>
<text transform="translate(617.55 624.43) scale(0.94 1)" fill="#1a1a1a" stroke="#1a1a1a" stroke-width="0.36" font-size="7.9" font-weight="bold" text-anchor="start" >IN8</text>
<text transform="translate(664.38 624.43) scale(0.94 1)" fill="#1a1a1a" stroke="#1a1a1a" stroke-width="0.36" font-size="7.9" font-weight="bold" text-anchor="end" >OUT8</text>
<path d="M611.55,621.83 L607.25,619.83 L607.25,623.83 Z" fill="none" stroke="#1a1a1a" stroke-width="0.9"/>
<polyline points="595.1,621.83 612.05,621.83" fill="none" stroke="#3a3a3a" stroke-width="1.5" />
<text transform="translate(602.4 620.23) scale(0.94 1)" fill="#1a1a1a" stroke="#1a1a1a" stroke-width="0.36" font-size="7.55" font-weight="bold" text-anchor="middle" >8</text>
<polyline points="671.38,621.83 688.33,621.83" fill="none" stroke="#3a3a3a" stroke-width="1.5" />
<polyline points="688.33,621.83 713.75,621.83" fill="none" stroke="#3a3aae" stroke-width="1.6" />
<text transform="translate(682.45 620.23) scale(0.94 1)" fill="#1a1a1a" stroke="#1a1a1a" stroke-width="0.36" font-size="7.55" font-weight="bold" text-anchor="middle" >11</text>
<polyline points="595.1,613.35 595.1,638.77" fill="none" stroke="#3a3aae" stroke-width="1.6" />
<circle cx="595.1" cy="621.83" r="2.4" fill="#0a0a78"/>
<circle cx="595.1" cy="638.77" r="2.4" fill="#0a0a78"/>
<polyline points="595.1,638.77 612.05,638.77" fill="none" stroke="#3a3a3a" stroke-width="1.5" />
<polyline points="671.38,638.77 688.33,638.77" fill="none" stroke="#3a3a3a" stroke-width="1.5" />
<polyline points="688.33,638.77 696.8,638.77" fill="none" stroke="#8f2323" stroke-width="1.5" />
<line x1="696.8" y1="634.47" x2="696.8" y2="643.0699999999999" stroke="#8f2323" stroke-width="1.4"/>
<text transform="translate(698.4 641.27) scale(0.94 1)" fill="#8f2323" stroke="#8f2323" stroke-width="0.36" font-size="7.55" font-weight="bold" text-anchor="start" >DC12V</text>
<text transform="translate(602.4 637.17) scale(0.94 1)" fill="#1a1a1a" stroke="#1a1a1a" stroke-width="0.36" font-size="7.55" font-weight="bold" text-anchor="middle" >9</text>
<text transform="translate(682.45 637.17) scale(0.94 1)" fill="#1a1a1a" stroke="#1a1a1a" stroke-width="0.36" font-size="7.55" font-weight="bold" text-anchor="middle" >10</text>
<text transform="translate(617.55 641.37) scale(0.94 1)" fill="#1a1a1a" stroke="#1a1a1a" stroke-width="0.36" font-size="7.9" font-weight="bold" text-anchor="start" >GND</text>
<text transform="translate(664.38 641.37) scale(0.94 1)" fill="#1a1a1a" stroke="#1a1a1a" stroke-width="0.36" font-size="7.9" font-weight="bold" text-anchor="end" >COM D</text>
<polyline points="595.1,638.77 587.47,638.77" fill="none" stroke="#8f2323" stroke-width="1.5" />
<line x1="587.47" y1="629.77" x2="587.47" y2="647.77" stroke="#8f2323" stroke-width="1.3"/>
<line x1="585.1700000000001" y1="632.5699999999999" x2="585.1700000000001" y2="644.97" stroke="#8f2323" stroke-width="1.3"/>
<line x1="582.87" y1="635.17" x2="582.87" y2="642.37" stroke="#8f2323" stroke-width="1.3"/>
<line x1="580.57" y1="637.5699999999999" x2="580.57" y2="639.97" stroke="#8f2323" stroke-width="1.3"/>
<text transform="translate(575.87 641.27) scale(0.94 1)" fill="#8f2323" stroke="#8f2323" stroke-width="0.36" font-size="7.55" font-weight="bold" text-anchor="end" >GND</text>
<text transform="translate(649.5 687.0) scale(1.0 1)" fill="#1c1c8c" stroke="#1c1c8c" stroke-width="0.12" font-size="11.8" font-weight="normal" text-anchor="start" >0.5K~2K</text>
<polyline points="781.55,359.1 798.5,359.1" fill="none" stroke="#3a3a3a" stroke-width="1.5" />
<polyline points="815.45,350.62 832.4,350.62" fill="none" stroke="#3a3a3a" stroke-width="1.5" />
<polyline points="815.45,367.57 832.4,367.57" fill="none" stroke="#3a3a3a" stroke-width="1.5" />
<line x1="800.1" y1="359.1" x2="813.35" y2="351.82" stroke="#1a1aff" stroke-width="1.5"/>
<circle cx="800.1" cy="359.1" r="1.7" fill="#fffcf7" stroke="#1a1aff" stroke-width="1.3"/>
<circle cx="813.85" cy="350.62" r="1.7" fill="#fffcf7" stroke="#1a1aff" stroke-width="1.3"/>
<circle cx="813.85" cy="367.57" r="1.7" fill="#fffcf7" stroke="#1a1aff" stroke-width="1.3"/>
<line x1="806.98" y1="355.6" x2="806.98" y2="376.05" stroke="#1a1aff" stroke-width="1.4" stroke-dasharray="3.4,2.2"/>
<rect x="798.5" y="376.05" width="16.95" height="33.9" fill="none" stroke="#1a1aff" stroke-width="1.5"/>
<polyline points="781.55,393.0 798.5,393.0" fill="none" stroke="#3a3a3a" stroke-width="1.5" />
<polyline points="764.6,393.0 781.55,393.0" fill="none" stroke="#3a3aae" stroke-width="1.6" />
<polyline points="815.45,393.0 832.4,393.0" fill="none" stroke="#3a3a3a" stroke-width="1.5" />
<polyline points="832.4,393.0 840.88,393.0" fill="none" stroke="#8f2323" stroke-width="1.5" />
<line x1="840.88" y1="388.7" x2="840.88" y2="397.3" stroke="#8f2323" stroke-width="1.4"/>
<text transform="translate(842.48 395.5) scale(0.94 1)" fill="#8f2323" stroke="#8f2323" stroke-width="0.36" font-size="7.55" font-weight="bold" text-anchor="start" >DC12V</text>
<text transform="translate(764.9 391.4) scale(0.94 1)" fill="#8a2a1a" stroke="#8a2a1a" stroke-width="0.36" font-size="7.55" font-weight="bold" text-anchor="start" textLength="32.45" lengthAdjust="spacingAndGlyphs" >REL_OT1</text>
<text transform="translate(796.7 347.1) scale(0.94 1)" fill="#1c1c8c" stroke="#1c1c8c" stroke-width="0.36" font-size="7.55" font-weight="bold" text-anchor="start" >K1</text>
<text transform="translate(796.7 417.55) scale(0.94 1)" fill="#1c1c8c" stroke="#1c1c8c" stroke-width="0.36" font-size="7.55" font-weight="bold" text-anchor="start" >T73</text>
<polyline points="891.73,359.1 908.67,359.1" fill="none" stroke="#3a3a3a" stroke-width="1.5" />
<polyline points="925.62,350.62 942.58,350.62" fill="none" stroke="#3a3a3a" stroke-width="1.5" />
<polyline points="925.62,367.57 942.58,367.57" fill="none" stroke="#3a3a3a" stroke-width="1.5" />
<line x1="910.27" y1="359.1" x2="923.52" y2="351.82" stroke="#1a1aff" stroke-width="1.5"/>
<circle cx="910.27" cy="359.1" r="1.7" fill="#fffcf7" stroke="#1a1aff" stroke-width="1.3"/>
<circle cx="924.02" cy="350.62" r="1.7" fill="#fffcf7" stroke="#1a1aff" stroke-width="1.3"/>
<circle cx="924.02" cy="367.57" r="1.7" fill="#fffcf7" stroke="#1a1aff" stroke-width="1.3"/>
<line x1="917.15" y1="355.6" x2="917.15" y2="376.05" stroke="#1a1aff" stroke-width="1.4" stroke-dasharray="3.4,2.2"/>
<rect x="908.67" y="376.05" width="16.95" height="33.9" fill="none" stroke="#1a1aff" stroke-width="1.5"/>
<polyline points="891.73,393.0 908.67,393.0" fill="none" stroke="#3a3a3a" stroke-width="1.5" />
<polyline points="874.77,393.0 891.73,393.0" fill="none" stroke="#3a3aae" stroke-width="1.6" />
<polyline points="925.62,393.0 942.58,393.0" fill="none" stroke="#3a3a3a" stroke-width="1.5" />
<polyline points="942.58,393.0 951.05,393.0" fill="none" stroke="#8f2323" stroke-width="1.5" />
<line x1="951.05" y1="388.7" x2="951.05" y2="397.3" stroke="#8f2323" stroke-width="1.4"/>
<text transform="translate(952.65 395.5) scale(0.94 1)" fill="#8f2323" stroke="#8f2323" stroke-width="0.36" font-size="7.55" font-weight="bold" text-anchor="start" >DC12V</text>
<text transform="translate(875.07 391.4) scale(0.94 1)" fill="#8a2a1a" stroke="#8a2a1a" stroke-width="0.36" font-size="7.55" font-weight="bold" text-anchor="start" textLength="32.45" lengthAdjust="spacingAndGlyphs" >REL_OT2</text>
<text transform="translate(906.87 347.1) scale(0.94 1)" fill="#1c1c8c" stroke="#1c1c8c" stroke-width="0.36" font-size="7.55" font-weight="bold" text-anchor="start" >K2</text>
<text transform="translate(906.87 417.55) scale(0.94 1)" fill="#1c1c8c" stroke="#1c1c8c" stroke-width="0.36" font-size="7.55" font-weight="bold" text-anchor="start" >T73</text>
<polyline points="942.58,350.62 968.0,350.62" fill="none" stroke="#3a3aae" stroke-width="1.6" />
<text transform="translate(949.98 349.02) scale(0.94 1)" fill="#8a2a1a" stroke="#8a2a1a" stroke-width="0.36" font-size="7.55" font-weight="bold" text-anchor="start" >181V</text>
<polyline points="942.58,367.57 968.0,367.57" fill="none" stroke="#3a3aae" stroke-width="1.6" />
<text transform="translate(949.98 365.97) scale(0.94 1)" fill="#8a2a1a" stroke="#8a2a1a" stroke-width="0.36" font-size="7.55" font-weight="bold" text-anchor="start" >220V</text>
<polyline points="1001.9,359.1 1018.85,359.1" fill="none" stroke="#3a3a3a" stroke-width="1.5" />
<polyline points="1035.8,350.62 1052.75,350.62" fill="none" stroke="#3a3a3a" stroke-width="1.5" />
<polyline points="1035.8,367.57 1052.75,367.57" fill="none" stroke="#3a3a3a" stroke-width="1.5" />
<line x1="1020.45" y1="359.1" x2="1033.7" y2="351.82" stroke="#1a1aff" stroke-width="1.5"/>
<circle cx="1020.45" cy="359.1" r="1.7" fill="#fffcf7" stroke="#1a1aff" stroke-width="1.3"/>
<circle cx="1034.2" cy="350.62" r="1.7" fill="#fffcf7" stroke="#1a1aff" stroke-width="1.3"/>
<circle cx="1034.2" cy="367.57" r="1.7" fill="#fffcf7" stroke="#1a1aff" stroke-width="1.3"/>
<line x1="1027.33" y1="355.6" x2="1027.33" y2="376.05" stroke="#1a1aff" stroke-width="1.4" stroke-dasharray="3.4,2.2"/>
<rect x="1018.85" y="376.05" width="16.95" height="33.9" fill="none" stroke="#1a1aff" stroke-width="1.5"/>
<polyline points="1001.9,393.0 1018.85,393.0" fill="none" stroke="#3a3a3a" stroke-width="1.5" />
<polyline points="984.95,393.0 1001.9,393.0" fill="none" stroke="#3a3aae" stroke-width="1.6" />
<polyline points="1035.8,393.0 1052.75,393.0" fill="none" stroke="#3a3a3a" stroke-width="1.5" />
<polyline points="1052.75,393.0 1061.22,393.0" fill="none" stroke="#8f2323" stroke-width="1.5" />
<line x1="1061.22" y1="388.7" x2="1061.22" y2="397.3" stroke="#8f2323" stroke-width="1.4"/>
<text transform="translate(1062.82 395.5) scale(0.94 1)" fill="#8f2323" stroke="#8f2323" stroke-width="0.36" font-size="7.55" font-weight="bold" text-anchor="start" >DC12V</text>
<text transform="translate(985.25 391.4) scale(0.94 1)" fill="#8a2a1a" stroke="#8a2a1a" stroke-width="0.36" font-size="7.55" font-weight="bold" text-anchor="start" textLength="32.45" lengthAdjust="spacingAndGlyphs" >REL_OT3</text>
<text transform="translate(1017.05 347.1) scale(0.94 1)" fill="#1c1c8c" stroke="#1c1c8c" stroke-width="0.36" font-size="7.55" font-weight="bold" text-anchor="start" >K3</text>
<text transform="translate(1017.05 417.55) scale(0.94 1)" fill="#1c1c8c" stroke="#1c1c8c" stroke-width="0.36" font-size="7.55" font-weight="bold" text-anchor="start" >T73</text>
<polyline points="1052.75,350.62 1078.17,350.62" fill="none" stroke="#3a3aae" stroke-width="1.6" />
<text transform="translate(1052.25 349.02) scale(0.94 1)" fill="#8a2a1a" stroke="#8a2a1a" stroke-width="0.36" font-size="7.55" font-weight="bold" text-anchor="start" >149V</text>
<polyline points="1112.08,359.1 1129.03,359.1" fill="none" stroke="#3a3a3a" stroke-width="1.5" />
<polyline points="1145.97,350.62 1162.92,350.62" fill="none" stroke="#3a3a3a" stroke-width="1.5" />
<polyline points="1145.97,367.57 1162.92,367.57" fill="none" stroke="#3a3a3a" stroke-width="1.5" />
<line x1="1130.6299999999999" y1="359.1" x2="1143.8700000000001" y2="351.82" stroke="#1a1aff" stroke-width="1.5"/>
<circle cx="1130.6299999999999" cy="359.1" r="1.7" fill="#fffcf7" stroke="#1a1aff" stroke-width="1.3"/>
<circle cx="1144.3700000000001" cy="350.62" r="1.7" fill="#fffcf7" stroke="#1a1aff" stroke-width="1.3"/>
<circle cx="1144.3700000000001" cy="367.57" r="1.7" fill="#fffcf7" stroke="#1a1aff" stroke-width="1.3"/>
<line x1="1137.5" y1="355.6" x2="1137.5" y2="376.05" stroke="#1a1aff" stroke-width="1.4" stroke-dasharray="3.4,2.2"/>
<rect x="1129.03" y="376.05" width="16.94" height="33.9" fill="none" stroke="#1a1aff" stroke-width="1.5"/>
<polyline points="1112.08,393.0 1129.03,393.0" fill="none" stroke="#3a3a3a" stroke-width="1.5" />
<polyline points="1095.12,393.0 1112.08,393.0" fill="none" stroke="#3a3aae" stroke-width="1.6" />
<polyline points="1145.97,393.0 1162.92,393.0" fill="none" stroke="#3a3a3a" stroke-width="1.5" />
<polyline points="1162.92,393.0 1171.4,393.0" fill="none" stroke="#8f2323" stroke-width="1.5" />
<line x1="1171.4" y1="388.7" x2="1171.4" y2="397.3" stroke="#8f2323" stroke-width="1.4"/>
<text transform="translate(1173.0 395.5) scale(0.94 1)" fill="#8f2323" stroke="#8f2323" stroke-width="0.36" font-size="7.55" font-weight="bold" text-anchor="start" >DC12V</text>
<text transform="translate(1095.42 391.4) scale(0.94 1)" fill="#8a2a1a" stroke="#8a2a1a" stroke-width="0.36" font-size="7.55" font-weight="bold" text-anchor="start" textLength="32.45" lengthAdjust="spacingAndGlyphs" >REL_OT4</text>
<text transform="translate(1127.23 347.1) scale(0.94 1)" fill="#1c1c8c" stroke="#1c1c8c" stroke-width="0.36" font-size="7.55" font-weight="bold" text-anchor="start" >K4</text>
<text transform="translate(1127.23 417.55) scale(0.94 1)" fill="#1c1c8c" stroke="#1c1c8c" stroke-width="0.36" font-size="7.55" font-weight="bold" text-anchor="start" >T73</text>
<polyline points="1162.92,350.62 1188.35,350.62" fill="none" stroke="#3a3aae" stroke-width="1.6" />
<text transform="translate(1170.32 349.02) scale(0.94 1)" fill="#8a2a1a" stroke="#8a2a1a" stroke-width="0.36" font-size="7.55" font-weight="bold" text-anchor="start" >122V</text>
<polyline points="1162.92,367.57 1188.35,367.57" fill="none" stroke="#3a3aae" stroke-width="1.6" />
<text transform="translate(1170.32 365.97) scale(0.94 1)" fill="#8a2a1a" stroke="#8a2a1a" stroke-width="0.36" font-size="7.55" font-weight="bold" text-anchor="start" >102V</text>
<polyline points="781.55,469.27 798.5,469.27" fill="none" stroke="#3a3a3a" stroke-width="1.5" />
<polyline points="815.45,460.8 832.4,460.8" fill="none" stroke="#3a3a3a" stroke-width="1.5" />
<polyline points="815.45,477.75 832.4,477.75" fill="none" stroke="#3a3a3a" stroke-width="1.5" />
<line x1="800.1" y1="469.27" x2="813.35" y2="462.0" stroke="#1a1aff" stroke-width="1.5"/>
<circle cx="800.1" cy="469.27" r="1.7" fill="#fffcf7" stroke="#1a1aff" stroke-width="1.3"/>
<circle cx="813.85" cy="460.8" r="1.7" fill="#fffcf7" stroke="#1a1aff" stroke-width="1.3"/>
<circle cx="813.85" cy="477.75" r="1.7" fill="#fffcf7" stroke="#1a1aff" stroke-width="1.3"/>
<line x1="806.98" y1="465.77" x2="806.98" y2="486.23" stroke="#1a1aff" stroke-width="1.4" stroke-dasharray="3.4,2.2"/>
<rect x="798.5" y="486.23" width="16.95" height="33.89" fill="none" stroke="#1a1aff" stroke-width="1.5"/>
<polyline points="781.55,503.17 798.5,503.17" fill="none" stroke="#3a3a3a" stroke-width="1.5" />
<polyline points="764.6,503.17 781.55,503.17" fill="none" stroke="#3a3aae" stroke-width="1.6" />
<polyline points="815.45,503.17 832.4,503.17" fill="none" stroke="#3a3a3a" stroke-width="1.5" />
<polyline points="832.4,503.17 840.88,503.17" fill="none" stroke="#8f2323" stroke-width="1.5" />
<line x1="840.88" y1="498.87" x2="840.88" y2="507.47" stroke="#8f2323" stroke-width="1.4"/>
<text transform="translate(842.48 505.67) scale(0.94 1)" fill="#8f2323" stroke="#8f2323" stroke-width="0.36" font-size="7.55" font-weight="bold" text-anchor="start" >DC12V</text>
<text transform="translate(764.9 501.57) scale(0.94 1)" fill="#8a2a1a" stroke="#8a2a1a" stroke-width="0.36" font-size="7.55" font-weight="bold" text-anchor="start" textLength="32.45" lengthAdjust="spacingAndGlyphs" >REL_OT5</text>
<text transform="translate(796.7 457.27) scale(0.94 1)" fill="#1c1c8c" stroke="#1c1c8c" stroke-width="0.36" font-size="7.55" font-weight="bold" text-anchor="start" >K5</text>
<text transform="translate(796.7 527.72) scale(0.94 1)" fill="#1c1c8c" stroke="#1c1c8c" stroke-width="0.36" font-size="7.55" font-weight="bold" text-anchor="start" >T73</text>
<polyline points="832.4,460.8 857.83,460.8" fill="none" stroke="#3a3aae" stroke-width="1.6" />
<text transform="translate(831.4 459.2) scale(0.94 1)" fill="#8a2a1a" stroke="#8a2a1a" stroke-width="0.36" font-size="7.55" font-weight="bold" text-anchor="start" >220V</text>
<polyline points="832.4,477.75 857.83,477.75" fill="none" stroke="#3a3aae" stroke-width="1.6" />
<text transform="translate(831.4 476.15) scale(0.94 1)" fill="#8a2a1a" stroke="#8a2a1a" stroke-width="0.36" font-size="7.55" font-weight="bold" text-anchor="start" >199V</text>
<polyline points="891.73,469.27 908.67,469.27" fill="none" stroke="#3a3a3a" stroke-width="1.5" />
<polyline points="925.62,460.8 942.58,460.8" fill="none" stroke="#3a3a3a" stroke-width="1.5" />
<polyline points="925.62,477.75 942.58,477.75" fill="none" stroke="#3a3a3a" stroke-width="1.5" />
<line x1="910.27" y1="469.27" x2="923.52" y2="462.0" stroke="#1a1aff" stroke-width="1.5"/>
<circle cx="910.27" cy="469.27" r="1.7" fill="#fffcf7" stroke="#1a1aff" stroke-width="1.3"/>
<circle cx="924.02" cy="460.8" r="1.7" fill="#fffcf7" stroke="#1a1aff" stroke-width="1.3"/>
<circle cx="924.02" cy="477.75" r="1.7" fill="#fffcf7" stroke="#1a1aff" stroke-width="1.3"/>
<line x1="917.15" y1="465.77" x2="917.15" y2="486.23" stroke="#1a1aff" stroke-width="1.4" stroke-dasharray="3.4,2.2"/>
<rect x="908.67" y="486.23" width="16.95" height="33.89" fill="none" stroke="#1a1aff" stroke-width="1.5"/>
<polyline points="891.73,503.17 908.67,503.17" fill="none" stroke="#3a3a3a" stroke-width="1.5" />
<polyline points="874.77,503.17 891.73,503.17" fill="none" stroke="#3a3aae" stroke-width="1.6" />
<polyline points="925.62,503.17 942.58,503.17" fill="none" stroke="#3a3a3a" stroke-width="1.5" />
<polyline points="942.58,503.17 951.05,503.17" fill="none" stroke="#8f2323" stroke-width="1.5" />
<line x1="951.05" y1="498.87" x2="951.05" y2="507.47" stroke="#8f2323" stroke-width="1.4"/>
<text transform="translate(952.65 505.67) scale(0.94 1)" fill="#8f2323" stroke="#8f2323" stroke-width="0.36" font-size="7.55" font-weight="bold" text-anchor="start" >DC12V</text>
<text transform="translate(875.07 501.57) scale(0.94 1)" fill="#8a2a1a" stroke="#8a2a1a" stroke-width="0.36" font-size="7.55" font-weight="bold" text-anchor="start" textLength="32.45" lengthAdjust="spacingAndGlyphs" >REL_OT6</text>
<text transform="translate(906.87 457.27) scale(0.94 1)" fill="#1c1c8c" stroke="#1c1c8c" stroke-width="0.36" font-size="7.55" font-weight="bold" text-anchor="start" >K6</text>
<text transform="translate(906.87 527.72) scale(0.94 1)" fill="#1c1c8c" stroke="#1c1c8c" stroke-width="0.36" font-size="7.55" font-weight="bold" text-anchor="start" >T73</text>
<polyline points="942.58,460.8 968.0,460.8" fill="none" stroke="#3a3aae" stroke-width="1.6" />
<text transform="translate(949.98 459.2) scale(0.94 1)" fill="#8a2a1a" stroke="#8a2a1a" stroke-width="0.36" font-size="7.55" font-weight="bold" text-anchor="start" >SDIN</text>
<polyline points="764.6,359.1 781.55,359.1" fill="none" stroke="#3a3aae" stroke-width="1.6" />
<text transform="translate(764.6 357.5) scale(0.94 1)" fill="#8a2a1a" stroke="#8a2a1a" stroke-width="0.36" font-size="7.55" font-weight="bold" text-anchor="start" >LIN</text>
<polyline points="832.4,350.62 891.73,350.62 891.73,359.1" fill="none" stroke="#3a3aae" stroke-width="1.6" />
<polyline points="832.4,367.57 866.3,367.57 866.3,333.68 1001.9,333.68 1001.9,359.1" fill="none" stroke="#3a3aae" stroke-width="1.6" />
<polyline points="1052.75,367.57 1112.08,367.57 1112.08,359.1" fill="none" stroke="#3a3aae" stroke-width="1.6" />
<polyline points="764.6,426.9 874.77,426.9 874.77,469.27 891.73,469.27" fill="none" stroke="#3a3aae" stroke-width="1.6" />
<text transform="translate(764.6 425.3) scale(0.94 1)" fill="#8a2a1a" stroke="#8a2a1a" stroke-width="0.36" font-size="7.55" font-weight="bold" text-anchor="start" >LOUT</text>
<polyline points="781.55,469.27 773.08,469.27 773.08,443.85 1027.33,443.85 1027.33,477.75 942.58,477.75" fill="none" stroke="#3a3aae" stroke-width="1.6" />
<text transform="translate(1001.1 442.25) scale(0.94 1)" fill="#8a2a1a" stroke="#8a2a1a" stroke-width="0.36" font-size="7.55" font-weight="bold" text-anchor="start" >LOUT1</text>
<text transform="translate(1131.7 474.8) scale(1.0 1)" fill="#1c1c8c" stroke="#1c1c8c" stroke-width="0.12" font-size="12" font-weight="normal" text-anchor="start" >0.5K~2K</text>
<polyline points="781.55,579.45 798.5,579.45" fill="none" stroke="#3a3a3a" stroke-width="1.5" />
<polyline points="815.45,570.97 832.4,570.97" fill="none" stroke="#3a3a3a" stroke-width="1.5" />
<polyline points="815.45,587.92 832.4,587.92" fill="none" stroke="#3a3a3a" stroke-width="1.5" />
<line x1="800.1" y1="579.45" x2="813.35" y2="572.1700000000001" stroke="#1a1aff" stroke-width="1.5"/>
<circle cx="800.1" cy="579.45" r="1.7" fill="#fffcf7" stroke="#1a1aff" stroke-width="1.3"/>
<circle cx="813.85" cy="570.97" r="1.7" fill="#fffcf7" stroke="#1a1aff" stroke-width="1.3"/>
<circle cx="813.85" cy="587.92" r="1.7" fill="#fffcf7" stroke="#1a1aff" stroke-width="1.3"/>
<line x1="806.98" y1="575.95" x2="806.98" y2="596.4" stroke="#1a1aff" stroke-width="1.4" stroke-dasharray="3.4,2.2"/>
<rect x="798.5" y="596.4" width="16.95" height="33.9" fill="none" stroke="#1a1aff" stroke-width="1.5"/>
<polyline points="781.55,613.35 798.5,613.35" fill="none" stroke="#3a3a3a" stroke-width="1.5" />
<polyline points="764.6,613.35 781.55,613.35" fill="none" stroke="#3a3aae" stroke-width="1.6" />
<polyline points="815.45,613.35 832.4,613.35" fill="none" stroke="#3a3a3a" stroke-width="1.5" />
<polyline points="832.4,613.35 840.88,613.35" fill="none" stroke="#8f2323" stroke-width="1.5" />
<line x1="840.88" y1="609.0500000000001" x2="840.88" y2="617.65" stroke="#8f2323" stroke-width="1.4"/>
<text transform="translate(842.48 615.85) scale(0.94 1)" fill="#8f2323" stroke="#8f2323" stroke-width="0.36" font-size="7.55" font-weight="bold" text-anchor="start" >DC12V</text>
<text transform="translate(764.9 611.75) scale(0.94 1)" fill="#8a2a1a" stroke="#8a2a1a" stroke-width="0.36" font-size="7.55" font-weight="bold" text-anchor="start" textLength="32.45" lengthAdjust="spacingAndGlyphs" >REL_OT1</text>
<text transform="translate(796.7 567.45) scale(0.94 1)" fill="#1c1c8c" stroke="#1c1c8c" stroke-width="0.36" font-size="7.55" font-weight="bold" text-anchor="start" >K1</text>
<text transform="translate(796.7 637.9) scale(0.94 1)" fill="#1c1c8c" stroke="#1c1c8c" stroke-width="0.36" font-size="7.55" font-weight="bold" text-anchor="start" >T91</text>
<polyline points="891.73,579.45 908.67,579.45" fill="none" stroke="#3a3a3a" stroke-width="1.5" />
<polyline points="925.62,570.97 942.58,570.97" fill="none" stroke="#3a3a3a" stroke-width="1.5" />
<polyline points="925.62,587.92 942.58,587.92" fill="none" stroke="#3a3a3a" stroke-width="1.5" />
<line x1="910.27" y1="579.45" x2="923.52" y2="572.1700000000001" stroke="#1a1aff" stroke-width="1.5"/>
<circle cx="910.27" cy="579.45" r="1.7" fill="#fffcf7" stroke="#1a1aff" stroke-width="1.3"/>
<circle cx="924.02" cy="570.97" r="1.7" fill="#fffcf7" stroke="#1a1aff" stroke-width="1.3"/>
<circle cx="924.02" cy="587.92" r="1.7" fill="#fffcf7" stroke="#1a1aff" stroke-width="1.3"/>
<line x1="917.15" y1="575.95" x2="917.15" y2="596.4" stroke="#1a1aff" stroke-width="1.4" stroke-dasharray="3.4,2.2"/>
<rect x="908.67" y="596.4" width="16.95" height="33.9" fill="none" stroke="#1a1aff" stroke-width="1.5"/>
<polyline points="891.73,613.35 908.67,613.35" fill="none" stroke="#3a3a3a" stroke-width="1.5" />
<polyline points="874.77,613.35 891.73,613.35" fill="none" stroke="#3a3aae" stroke-width="1.6" />
<polyline points="925.62,613.35 942.58,613.35" fill="none" stroke="#3a3a3a" stroke-width="1.5" />
<polyline points="942.58,613.35 951.05,613.35" fill="none" stroke="#8f2323" stroke-width="1.5" />
<line x1="951.05" y1="609.0500000000001" x2="951.05" y2="617.65" stroke="#8f2323" stroke-width="1.4"/>
<text transform="translate(952.65 615.85) scale(0.94 1)" fill="#8f2323" stroke="#8f2323" stroke-width="0.36" font-size="7.55" font-weight="bold" text-anchor="start" >DC12V</text>
<text transform="translate(875.07 611.75) scale(0.94 1)" fill="#8a2a1a" stroke="#8a2a1a" stroke-width="0.36" font-size="7.55" font-weight="bold" text-anchor="start" textLength="32.45" lengthAdjust="spacingAndGlyphs" >REL_OT2</text>
<text transform="translate(906.87 567.45) scale(0.94 1)" fill="#1c1c8c" stroke="#1c1c8c" stroke-width="0.36" font-size="7.55" font-weight="bold" text-anchor="start" >K2</text>
<text transform="translate(906.87 637.9) scale(0.94 1)" fill="#1c1c8c" stroke="#1c1c8c" stroke-width="0.36" font-size="7.55" font-weight="bold" text-anchor="start" >T91</text>
<polyline points="942.58,570.97 968.0,570.97" fill="none" stroke="#3a3aae" stroke-width="1.6" />
<text transform="translate(949.98 569.37) scale(0.94 1)" fill="#8a2a1a" stroke="#8a2a1a" stroke-width="0.36" font-size="7.55" font-weight="bold" text-anchor="start" >181V</text>
<polyline points="942.58,587.92 968.0,587.92" fill="none" stroke="#3a3aae" stroke-width="1.6" />
<text transform="translate(949.98 586.32) scale(0.94 1)" fill="#8a2a1a" stroke="#8a2a1a" stroke-width="0.36" font-size="7.55" font-weight="bold" text-anchor="start" >220V</text>
<polyline points="1001.9,579.45 1018.85,579.45" fill="none" stroke="#3a3a3a" stroke-width="1.5" />
<polyline points="1035.8,570.97 1052.75,570.97" fill="none" stroke="#3a3a3a" stroke-width="1.5" />
<polyline points="1035.8,587.92 1052.75,587.92" fill="none" stroke="#3a3a3a" stroke-width="1.5" />
<line x1="1020.45" y1="579.45" x2="1033.7" y2="572.1700000000001" stroke="#1a1aff" stroke-width="1.5"/>
<circle cx="1020.45" cy="579.45" r="1.7" fill="#fffcf7" stroke="#1a1aff" stroke-width="1.3"/>
<circle cx="1034.2" cy="570.97" r="1.7" fill="#fffcf7" stroke="#1a1aff" stroke-width="1.3"/>
<circle cx="1034.2" cy="587.92" r="1.7" fill="#fffcf7" stroke="#1a1aff" stroke-width="1.3"/>
<line x1="1027.33" y1="575.95" x2="1027.33" y2="596.4" stroke="#1a1aff" stroke-width="1.4" stroke-dasharray="3.4,2.2"/>
<rect x="1018.85" y="596.4" width="16.95" height="33.9" fill="none" stroke="#1a1aff" stroke-width="1.5"/>
<polyline points="1001.9,613.35 1018.85,613.35" fill="none" stroke="#3a3a3a" stroke-width="1.5" />
<polyline points="984.95,613.35 1001.9,613.35" fill="none" stroke="#3a3aae" stroke-width="1.6" />
<polyline points="1035.8,613.35 1052.75,613.35" fill="none" stroke="#3a3a3a" stroke-width="1.5" />
<polyline points="1052.75,613.35 1061.22,613.35" fill="none" stroke="#8f2323" stroke-width="1.5" />
<line x1="1061.22" y1="609.0500000000001" x2="1061.22" y2="617.65" stroke="#8f2323" stroke-width="1.4"/>
<text transform="translate(1062.82 615.85) scale(0.94 1)" fill="#8f2323" stroke="#8f2323" stroke-width="0.36" font-size="7.55" font-weight="bold" text-anchor="start" >DC12V</text>
<text transform="translate(985.25 611.75) scale(0.94 1)" fill="#8a2a1a" stroke="#8a2a1a" stroke-width="0.36" font-size="7.55" font-weight="bold" text-anchor="start" textLength="32.45" lengthAdjust="spacingAndGlyphs" >REL_OT3</text>
<text transform="translate(1017.05 567.45) scale(0.94 1)" fill="#1c1c8c" stroke="#1c1c8c" stroke-width="0.36" font-size="7.55" font-weight="bold" text-anchor="start" >K3</text>
<text transform="translate(1017.05 637.9) scale(0.94 1)" fill="#1c1c8c" stroke="#1c1c8c" stroke-width="0.36" font-size="7.55" font-weight="bold" text-anchor="start" >T91</text>
<polyline points="1052.75,570.97 1078.17,570.97" fill="none" stroke="#3a3aae" stroke-width="1.6" />
<text transform="translate(1052.25 569.37) scale(0.94 1)" fill="#8a2a1a" stroke="#8a2a1a" stroke-width="0.36" font-size="7.55" font-weight="bold" text-anchor="start" >149V</text>
<polyline points="1112.08,579.45 1129.03,579.45" fill="none" stroke="#3a3a3a" stroke-width="1.5" />
<polyline points="1145.97,570.97 1162.92,570.97" fill="none" stroke="#3a3a3a" stroke-width="1.5" />
<polyline points="1145.97,587.92 1162.92,587.92" fill="none" stroke="#3a3a3a" stroke-width="1.5" />
<line x1="1130.6299999999999" y1="579.45" x2="1143.8700000000001" y2="572.1700000000001" stroke="#1a1aff" stroke-width="1.5"/>
<circle cx="1130.6299999999999" cy="579.45" r="1.7" fill="#fffcf7" stroke="#1a1aff" stroke-width="1.3"/>
<circle cx="1144.3700000000001" cy="570.97" r="1.7" fill="#fffcf7" stroke="#1a1aff" stroke-width="1.3"/>
<circle cx="1144.3700000000001" cy="587.92" r="1.7" fill="#fffcf7" stroke="#1a1aff" stroke-width="1.3"/>
<line x1="1137.5" y1="575.95" x2="1137.5" y2="596.4" stroke="#1a1aff" stroke-width="1.4" stroke-dasharray="3.4,2.2"/>
<rect x="1129.03" y="596.4" width="16.94" height="33.9" fill="none" stroke="#1a1aff" stroke-width="1.5"/>
<polyline points="1112.08,613.35 1129.03,613.35" fill="none" stroke="#3a3a3a" stroke-width="1.5" />
<polyline points="1095.12,613.35 1112.08,613.35" fill="none" stroke="#3a3aae" stroke-width="1.6" />
<polyline points="1145.97,613.35 1162.92,613.35" fill="none" stroke="#3a3a3a" stroke-width="1.5" />
<polyline points="1162.92,613.35 1171.4,613.35" fill="none" stroke="#8f2323" stroke-width="1.5" />
<line x1="1171.4" y1="609.0500000000001" x2="1171.4" y2="617.65" stroke="#8f2323" stroke-width="1.4"/>
<text transform="translate(1173.0 615.85) scale(0.94 1)" fill="#8f2323" stroke="#8f2323" stroke-width="0.36" font-size="7.55" font-weight="bold" text-anchor="start" >DC12V</text>
<text transform="translate(1095.42 611.75) scale(0.94 1)" fill="#8a2a1a" stroke="#8a2a1a" stroke-width="0.36" font-size="7.55" font-weight="bold" text-anchor="start" textLength="32.45" lengthAdjust="spacingAndGlyphs" >REL_OT4</text>
<text transform="translate(1127.23 567.45) scale(0.94 1)" fill="#1c1c8c" stroke="#1c1c8c" stroke-width="0.36" font-size="7.55" font-weight="bold" text-anchor="start" >K4</text>
<text transform="translate(1127.23 637.9) scale(0.94 1)" fill="#1c1c8c" stroke="#1c1c8c" stroke-width="0.36" font-size="7.55" font-weight="bold" text-anchor="start" >T91</text>
<polyline points="1162.92,570.97 1188.35,570.97" fill="none" stroke="#3a3aae" stroke-width="1.6" />
<text transform="translate(1170.32 569.37) scale(0.94 1)" fill="#8a2a1a" stroke="#8a2a1a" stroke-width="0.36" font-size="7.55" font-weight="bold" text-anchor="start" >122V</text>
<polyline points="1162.92,587.92 1188.35,587.92" fill="none" stroke="#3a3aae" stroke-width="1.6" />
<text transform="translate(1170.32 586.32) scale(0.94 1)" fill="#8a2a1a" stroke="#8a2a1a" stroke-width="0.36" font-size="7.55" font-weight="bold" text-anchor="start" >102V</text>
<polyline points="781.55,689.62 798.5,689.62" fill="none" stroke="#3a3a3a" stroke-width="1.5" />
<polyline points="815.45,681.15 832.4,681.15" fill="none" stroke="#3a3a3a" stroke-width="1.5" />
<polyline points="815.45,698.1 832.4,698.1" fill="none" stroke="#3a3a3a" stroke-width="1.5" />
<line x1="800.1" y1="689.62" x2="813.35" y2="682.35" stroke="#1a1aff" stroke-width="1.5"/>
<circle cx="800.1" cy="689.62" r="1.7" fill="#fffcf7" stroke="#1a1aff" stroke-width="1.3"/>
<circle cx="813.85" cy="681.15" r="1.7" fill="#fffcf7" stroke="#1a1aff" stroke-width="1.3"/>
<circle cx="813.85" cy="698.1" r="1.7" fill="#fffcf7" stroke="#1a1aff" stroke-width="1.3"/>
<line x1="806.98" y1="686.12" x2="806.98" y2="706.58" stroke="#1a1aff" stroke-width="1.4" stroke-dasharray="3.4,2.2"/>
<rect x="798.5" y="706.58" width="16.95" height="33.89" fill="none" stroke="#1a1aff" stroke-width="1.5"/>
<polyline points="781.55,723.52 798.5,723.52" fill="none" stroke="#3a3a3a" stroke-width="1.5" />
<polyline points="764.6,723.52 781.55,723.52" fill="none" stroke="#3a3aae" stroke-width="1.6" />
<polyline points="815.45,723.52 832.4,723.52" fill="none" stroke="#3a3a3a" stroke-width="1.5" />
<polyline points="832.4,723.52 840.88,723.52" fill="none" stroke="#8f2323" stroke-width="1.5" />
<line x1="840.88" y1="719.22" x2="840.88" y2="727.8199999999999" stroke="#8f2323" stroke-width="1.4"/>
<text transform="translate(842.48 726.02) scale(0.94 1)" fill="#8f2323" stroke="#8f2323" stroke-width="0.36" font-size="7.55" font-weight="bold" text-anchor="start" >DC12V</text>
<text transform="translate(764.9 721.92) scale(0.94 1)" fill="#8a2a1a" stroke="#8a2a1a" stroke-width="0.36" font-size="7.55" font-weight="bold" text-anchor="start" textLength="32.45" lengthAdjust="spacingAndGlyphs" >REL_OT5</text>
<text transform="translate(796.7 677.62) scale(0.94 1)" fill="#1c1c8c" stroke="#1c1c8c" stroke-width="0.36" font-size="7.55" font-weight="bold" text-anchor="start" >K5</text>
<text transform="translate(796.7 748.07) scale(0.94 1)" fill="#1c1c8c" stroke="#1c1c8c" stroke-width="0.36" font-size="7.55" font-weight="bold" text-anchor="start" >T91</text>
<polyline points="832.4,681.15 857.83,681.15" fill="none" stroke="#3a3aae" stroke-width="1.6" />
<text transform="translate(831.4 679.55) scale(0.94 1)" fill="#8a2a1a" stroke="#8a2a1a" stroke-width="0.36" font-size="7.55" font-weight="bold" text-anchor="start" >220V</text>
<polyline points="832.4,698.1 857.83,698.1" fill="none" stroke="#3a3aae" stroke-width="1.6" />
<text transform="translate(831.4 696.5) scale(0.94 1)" fill="#8a2a1a" stroke="#8a2a1a" stroke-width="0.36" font-size="7.55" font-weight="bold" text-anchor="start" >199V</text>
<polyline points="891.73,689.62 908.67,689.62" fill="none" stroke="#3a3a3a" stroke-width="1.5" />
<polyline points="925.62,681.15 942.58,681.15" fill="none" stroke="#3a3a3a" stroke-width="1.5" />
<polyline points="925.62,698.1 942.58,698.1" fill="none" stroke="#3a3a3a" stroke-width="1.5" />
<line x1="910.27" y1="689.62" x2="923.52" y2="682.35" stroke="#1a1aff" stroke-width="1.5"/>
<circle cx="910.27" cy="689.62" r="1.7" fill="#fffcf7" stroke="#1a1aff" stroke-width="1.3"/>
<circle cx="924.02" cy="681.15" r="1.7" fill="#fffcf7" stroke="#1a1aff" stroke-width="1.3"/>
<circle cx="924.02" cy="698.1" r="1.7" fill="#fffcf7" stroke="#1a1aff" stroke-width="1.3"/>
<line x1="917.15" y1="686.12" x2="917.15" y2="706.58" stroke="#1a1aff" stroke-width="1.4" stroke-dasharray="3.4,2.2"/>
<rect x="908.67" y="706.58" width="16.95" height="33.89" fill="none" stroke="#1a1aff" stroke-width="1.5"/>
<polyline points="891.73,723.52 908.67,723.52" fill="none" stroke="#3a3a3a" stroke-width="1.5" />
<polyline points="874.77,723.52 891.73,723.52" fill="none" stroke="#3a3aae" stroke-width="1.6" />
<polyline points="925.62,723.52 942.58,723.52" fill="none" stroke="#3a3a3a" stroke-width="1.5" />
<polyline points="942.58,723.52 951.05,723.52" fill="none" stroke="#8f2323" stroke-width="1.5" />
<line x1="951.05" y1="719.22" x2="951.05" y2="727.8199999999999" stroke="#8f2323" stroke-width="1.4"/>
<text transform="translate(952.65 726.02) scale(0.94 1)" fill="#8f2323" stroke="#8f2323" stroke-width="0.36" font-size="7.55" font-weight="bold" text-anchor="start" >DC12V</text>
<text transform="translate(875.07 721.92) scale(0.94 1)" fill="#8a2a1a" stroke="#8a2a1a" stroke-width="0.36" font-size="7.55" font-weight="bold" text-anchor="start" textLength="32.45" lengthAdjust="spacingAndGlyphs" >REL_OT6</text>
<text transform="translate(906.87 677.62) scale(0.94 1)" fill="#1c1c8c" stroke="#1c1c8c" stroke-width="0.36" font-size="7.55" font-weight="bold" text-anchor="start" >K6</text>
<text transform="translate(906.87 748.07) scale(0.94 1)" fill="#1c1c8c" stroke="#1c1c8c" stroke-width="0.36" font-size="7.55" font-weight="bold" text-anchor="start" >T91</text>
<polyline points="942.58,681.15 968.0,681.15" fill="none" stroke="#3a3aae" stroke-width="1.6" />
<text transform="translate(949.98 679.55) scale(0.94 1)" fill="#8a2a1a" stroke="#8a2a1a" stroke-width="0.36" font-size="7.55" font-weight="bold" text-anchor="start" >SDIN</text>
<polyline points="764.6,579.45 781.55,579.45" fill="none" stroke="#3a3aae" stroke-width="1.6" />
<text transform="translate(764.6 577.85) scale(0.94 1)" fill="#8a2a1a" stroke="#8a2a1a" stroke-width="0.36" font-size="7.55" font-weight="bold" text-anchor="start" >LIN</text>
<polyline points="832.4,570.97 891.73,570.97 891.73,579.45" fill="none" stroke="#3a3aae" stroke-width="1.6" />
<polyline points="832.4,587.92 866.3,587.92 866.3,554.02 1001.9,554.02 1001.9,579.45" fill="none" stroke="#3a3aae" stroke-width="1.6" />
<polyline points="1052.75,587.92 1112.08,587.92 1112.08,579.45" fill="none" stroke="#3a3aae" stroke-width="1.6" />
<polyline points="764.6,647.25 874.77,647.25 874.77,689.62 891.73,689.62" fill="none" stroke="#3a3aae" stroke-width="1.6" />
<text transform="translate(764.6 645.65) scale(0.94 1)" fill="#8a2a1a" stroke="#8a2a1a" stroke-width="0.36" font-size="7.55" font-weight="bold" text-anchor="start" >LOUT</text>
<polyline points="781.55,689.62 773.08,689.62 773.08,664.2 1027.33,664.2 1027.33,698.1 942.58,698.1" fill="none" stroke="#3a3aae" stroke-width="1.6" />
<text transform="translate(1001.1 662.6) scale(0.94 1)" fill="#8a2a1a" stroke="#8a2a1a" stroke-width="0.36" font-size="7.55" font-weight="bold" text-anchor="start" >LOUT1</text>
<text transform="translate(1131.7 695.15) scale(1.0 1)" fill="#1c1c8c" stroke="#1c1c8c" stroke-width="0.12" font-size="12" font-weight="normal" text-anchor="start" >5K</text>
<line x1="539.95" y1="791.33" x2="548.55" y2="791.33" stroke="#8f2323" stroke-width="1.4"/>
<polyline points="544.25,791.33 544.25,799.8" fill="none" stroke="#8f2323" stroke-width="1.5" />
<text transform="translate(545.75 789.63) scale(0.94 1)" fill="#8f2323" stroke="#8f2323" stroke-width="0.36" font-size="7.55" font-weight="bold" text-anchor="middle" >DC12V</text>
<polyline points="544.25,799.8 544.25,807.85" fill="none" stroke="#3a3a3a" stroke-width="1.5" />
<polyline points="544.25,812.94 544.25,825.22" fill="none" stroke="#3a3a3a" stroke-width="1.5" />
<polyline points="544.25,825.22 544.25,833.7" fill="none" stroke="#8f2323" stroke-width="1.5" />
<line x1="535.25" y1="833.7" x2="553.25" y2="833.7" stroke="#8f2323" stroke-width="1.3"/>
<line x1="538.05" y1="836.3000000000001" x2="550.45" y2="836.3000000000001" stroke="#8f2323" stroke-width="1.3"/>
<line x1="540.65" y1="838.9000000000001" x2="547.85" y2="838.9000000000001" stroke="#8f2323" stroke-width="1.3"/>
<line x1="543.05" y1="841.5" x2="545.45" y2="841.5" stroke="#8f2323" stroke-width="1.3"/>
<text transform="translate(544.25 849.0) scale(0.94 1)" fill="#8f2323" stroke="#8f2323" stroke-width="0.36" font-size="7.55" font-weight="bold" text-anchor="middle" >GND</text>
<line x1="537.25" y1="808.2407499999999" x2="551.25" y2="808.2407499999999" stroke="#1a1aff" stroke-width="1.4"/>
<path d="M537.25,813.93925 Q544.25,810.33925 551.25,813.93925" fill="none" stroke="#1a1aff" stroke-width="1.4"/>
<text transform="translate(547.25 807.24) scale(0.94 1)" fill="#1a1aff" stroke="#1a1aff" stroke-width="0.36" font-size="6.5" font-weight="bold" text-anchor="start" >+</text>
<text transform="translate(550.75 808.04) scale(0.94 1)" fill="#1c1c8c" stroke="#1c1c8c" stroke-width="0.36" font-size="7.55" font-weight="bold" text-anchor="start" >C6</text>
<text transform="translate(550.75 816.84) scale(0.94 1)" fill="#1c1c8c" stroke="#1c1c8c" stroke-width="0.36" font-size="7.55" font-weight="bold" text-anchor="start" >2200uF/35V</text>
<text transform="translate(553.75 831.7) scale(0.94 1)" fill="#1c1c8c" stroke="#1c1c8c" stroke-width="0.36" font-size="7.55" font-weight="bold" text-anchor="start" >10K</text>
<line x1="607.75" y1="799.8" x2="616.3499999999999" y2="799.8" stroke="#8f2323" stroke-width="1.4"/>
<polyline points="612.05,799.8 612.05,808.27" fill="none" stroke="#8f2323" stroke-width="1.5" />
<text transform="translate(612.05 798.1) scale(0.94 1)" fill="#8f2323" stroke="#8f2323" stroke-width="0.36" font-size="7.55" font-weight="bold" text-anchor="middle" >DC12V</text>
<polyline points="612.05,808.27 612.05,825.22" fill="none" stroke="#3a3a3a" stroke-width="1.5" />
<polyline points="612.05,833.7 612.05,867.6" fill="none" stroke="#3a3a3a" stroke-width="1.5" />
<polyline points="612.05,884.55 612.05,901.5" fill="none" stroke="#3a3a3a" stroke-width="1.5" />
<polyline points="612.05,901.5 612.05,918.45" fill="none" stroke="#8f2323" stroke-width="1.5" />
<path d="M612.05,825.22 L620.8499999999999,834.1 L603.25,834.1 Z" fill="#1a1aff"/>
<line x1="603.8499999999999" y1="825.22" x2="620.25" y2="825.22" stroke="#1a1aff" stroke-width="1.3"/>
<text transform="translate(621.65 831.22) scale(0.94 1)" fill="#1c1c8c" stroke="#1c1c8c" stroke-width="0.36" font-size="7.55" font-weight="bold" text-anchor="start" >D1</text>
<text transform="translate(621.65 838.9) scale(0.94 1)" fill="#1c1c8c" stroke="#1c1c8c" stroke-width="0.36" font-size="7.55" font-weight="bold" text-anchor="start" textLength="39.36" lengthAdjust="spacingAndGlyphs" >RS1M/SMA</text>
<circle cx="612.05" cy="850.65" r="2.4" fill="#0a0a78"/>
<polyline points="612.05,850.65 645.95,850.65" fill="none" stroke="#3a3aae" stroke-width="1.6" />
<text transform="translate(619.32 849.05) scale(0.94 1)" fill="#8a2a1a" stroke="#8a2a1a" stroke-width="0.36" font-size="7.55" font-weight="bold" text-anchor="start" textLength="28.19" lengthAdjust="spacingAndGlyphs" >RLY1_2</text>
<polyline points="603.58,842.17 569.68,842.17 569.68,850.65" fill="none" stroke="#3a3aae" stroke-width="1.6" />
<text transform="translate(570.28 840.57) scale(0.94 1)" fill="#8a2a1a" stroke="#8a2a1a" stroke-width="0.36" font-size="7.55" font-weight="bold" text-anchor="start" >RELAY1</text>
<polyline points="569.68,867.6 569.68,876.08" fill="none" stroke="#3a3a3a" stroke-width="1.5" />
<polyline points="569.68,876.08 569.68,901.5 578.15,901.5" fill="none" stroke="#3a3aae" stroke-width="1.6" />
<polyline points="578.15,901.5 586.62,901.5" fill="none" stroke="#3a3a3a" stroke-width="1.5" />
<polyline points="603.58,901.5 612.05,901.5" fill="none" stroke="#3a3a3a" stroke-width="1.5" />
<rect x="566.37" y="850.65" width="6.61" height="16.95" fill="#fffcf7" stroke="#1a1aff" stroke-width="1.5"/>
<text transform="translate(572.98 857.95) scale(0.94 1)" fill="#1c1c8c" stroke="#1c1c8c" stroke-width="0.36" font-size="7.55" font-weight="bold" text-anchor="start" >R25</text>
<text transform="translate(572.98 866.05) scale(0.94 1)" fill="#1c1c8c" stroke="#1c1c8c" stroke-width="0.36" font-size="7.55" font-weight="bold" text-anchor="start" >3.3K/0603</text>
<circle cx="569.68" cy="876.08" r="2.4" fill="#0a0a78"/>
<polyline points="569.68,876.08 586.62,876.08" fill="none" stroke="#3a3aae" stroke-width="1.6" />
<polyline points="586.62,876.08 603.58,876.08" fill="none" stroke="#3a3a3a" stroke-width="1.5" />
<line x1="603.58" y1="868.48" x2="603.58" y2="883.6800000000001" stroke="#1a1aff" stroke-width="1.5"/>
<line x1="603.58" y1="872.88" x2="612.05" y2="867.6" stroke="#1a1aff" stroke-width="1.4"/>
<line x1="603.58" y1="879.2800000000001" x2="612.05" y2="884.55" stroke="#1a1aff" stroke-width="1.4"/>
<path d="M612.4499999999999,884.9499999999999 L605.8499999999999,883.9499999999999 L609.4499999999999,878.9499999999999 Z" fill="#1a1aff"/>
<text transform="translate(613.65 873.68) scale(0.94 1)" fill="#1c1c8c" stroke="#1c1c8c" stroke-width="0.36" font-size="7.55" font-weight="bold" text-anchor="start" >Q1</text>
<text transform="translate(613.65 881.48) scale(0.94 1)" fill="#1c1c8c" stroke="#1c1c8c" stroke-width="0.36" font-size="7.55" font-weight="bold" text-anchor="start" textLength="42.02" lengthAdjust="spacingAndGlyphs" >D882/TO126</text>
<rect x="586.62" y="898.19" width="16.96" height="6.62" fill="#fffcf7" stroke="#1a1aff" stroke-width="1.5"/>
<text transform="translate(586.62 896.9) scale(0.94 1)" fill="#1c1c8c" stroke="#1c1c8c" stroke-width="0.36" font-size="7.55" font-weight="bold" text-anchor="start" >R31</text>
<text transform="translate(586.62 911.6) scale(0.94 1)" fill="#1c1c8c" stroke="#1c1c8c" stroke-width="0.36" font-size="7.55" font-weight="bold" text-anchor="start" >3.3K/0603</text>
<circle cx="612.05" cy="901.5" r="2.4" fill="#0a0a78"/>
<line x1="603.05" y1="918.45" x2="621.05" y2="918.45" stroke="#8f2323" stroke-width="1.3"/>
<line x1="605.8499999999999" y1="921.0500000000001" x2="618.25" y2="921.0500000000001" stroke="#8f2323" stroke-width="1.3"/>
<line x1="608.4499999999999" y1="923.6500000000001" x2="615.65" y2="923.6500000000001" stroke="#8f2323" stroke-width="1.3"/>
<line x1="610.8499999999999" y1="926.25" x2="613.25" y2="926.25" stroke="#8f2323" stroke-width="1.3"/>
<text transform="translate(612.05 933.75) scale(0.94 1)" fill="#8f2323" stroke="#8f2323" stroke-width="0.36" font-size="7.55" font-weight="bold" text-anchor="middle" >GND</text>
<line x1="700.97" y1="799.8" x2="709.5699999999999" y2="799.8" stroke="#8f2323" stroke-width="1.4"/>
<polyline points="705.27,799.8 705.27,808.27" fill="none" stroke="#8f2323" stroke-width="1.5" />
<text transform="translate(705.27 798.1) scale(0.94 1)" fill="#8f2323" stroke="#8f2323" stroke-width="0.36" font-size="7.55" font-weight="bold" text-anchor="middle" >DC12V</text>
<polyline points="705.27,808.27 705.27,825.22" fill="none" stroke="#3a3a3a" stroke-width="1.5" />
<polyline points="705.27,833.7 705.27,867.6" fill="none" stroke="#3a3a3a" stroke-width="1.5" />
<polyline points="705.27,884.55 705.27,901.5" fill="none" stroke="#3a3a3a" stroke-width="1.5" />
<polyline points="705.27,901.5 705.27,918.45" fill="none" stroke="#8f2323" stroke-width="1.5" />
<path d="M705.27,825.22 L714.0699999999999,834.1 L696.47,834.1 Z" fill="#1a1aff"/>
<line x1="697.0699999999999" y1="825.22" x2="713.47" y2="825.22" stroke="#1a1aff" stroke-width="1.3"/>
<text transform="translate(714.87 831.22) scale(0.94 1)" fill="#1c1c8c" stroke="#1c1c8c" stroke-width="0.36" font-size="7.55" font-weight="bold" text-anchor="start" >D2</text>
<text transform="translate(714.87 838.9) scale(0.94 1)" fill="#1c1c8c" stroke="#1c1c8c" stroke-width="0.36" font-size="7.55" font-weight="bold" text-anchor="start" textLength="39.36" lengthAdjust="spacingAndGlyphs" >RS1M/SMA</text>
<circle cx="705.27" cy="850.65" r="2.4" fill="#0a0a78"/>
<polyline points="705.27,850.65 739.18,850.65" fill="none" stroke="#3a3aae" stroke-width="1.6" />
<text transform="translate(712.55 849.05) scale(0.94 1)" fill="#8a2a1a" stroke="#8a2a1a" stroke-width="0.36" font-size="7.55" font-weight="bold" text-anchor="start" textLength="28.19" lengthAdjust="spacingAndGlyphs" >RLY2_2</text>
<polyline points="696.8,842.17 662.9,842.17 662.9,850.65" fill="none" stroke="#3a3aae" stroke-width="1.6" />
<text transform="translate(663.5 840.57) scale(0.94 1)" fill="#8a2a1a" stroke="#8a2a1a" stroke-width="0.36" font-size="7.55" font-weight="bold" text-anchor="start" >RELAY2</text>
<polyline points="662.9,867.6 662.9,876.08" fill="none" stroke="#3a3a3a" stroke-width="1.5" />
<polyline points="662.9,876.08 662.9,901.5 671.38,901.5" fill="none" stroke="#3a3aae" stroke-width="1.6" />
<polyline points="671.38,901.5 679.85,901.5" fill="none" stroke="#3a3a3a" stroke-width="1.5" />
<polyline points="696.8,901.5 705.27,901.5" fill="none" stroke="#3a3a3a" stroke-width="1.5" />
<rect x="659.59" y="850.65" width="6.62" height="16.95" fill="#fffcf7" stroke="#1a1aff" stroke-width="1.5"/>
<text transform="translate(666.2 857.95) scale(0.94 1)" fill="#1c1c8c" stroke="#1c1c8c" stroke-width="0.36" font-size="7.55" font-weight="bold" text-anchor="start" >R24</text>
<text transform="translate(666.2 866.05) scale(0.94 1)" fill="#1c1c8c" stroke="#1c1c8c" stroke-width="0.36" font-size="7.55" font-weight="bold" text-anchor="start" >3.3K/0603</text>
<circle cx="662.9" cy="876.08" r="2.4" fill="#0a0a78"/>
<polyline points="662.9,876.08 679.85,876.08" fill="none" stroke="#3a3aae" stroke-width="1.6" />
<polyline points="679.85,876.08 696.8,876.08" fill="none" stroke="#3a3a3a" stroke-width="1.5" />
<line x1="696.8" y1="868.48" x2="696.8" y2="883.6800000000001" stroke="#1a1aff" stroke-width="1.5"/>
<line x1="696.8" y1="872.88" x2="705.27" y2="867.6" stroke="#1a1aff" stroke-width="1.4"/>
<line x1="696.8" y1="879.2800000000001" x2="705.27" y2="884.55" stroke="#1a1aff" stroke-width="1.4"/>
<path d="M705.67,884.9499999999999 L699.0699999999999,883.9499999999999 L702.67,878.9499999999999 Z" fill="#1a1aff"/>
<text transform="translate(706.87 873.68) scale(0.94 1)" fill="#1c1c8c" stroke="#1c1c8c" stroke-width="0.36" font-size="7.55" font-weight="bold" text-anchor="start" >Q2</text>
<text transform="translate(706.87 881.48) scale(0.94 1)" fill="#1c1c8c" stroke="#1c1c8c" stroke-width="0.36" font-size="7.55" font-weight="bold" text-anchor="start" textLength="42.02" lengthAdjust="spacingAndGlyphs" >D882/TO126</text>
<rect x="679.85" y="898.19" width="16.95" height="6.62" fill="#fffcf7" stroke="#1a1aff" stroke-width="1.5"/>
<text transform="translate(679.85 896.9) scale(0.94 1)" fill="#1c1c8c" stroke="#1c1c8c" stroke-width="0.36" font-size="7.55" font-weight="bold" text-anchor="start" >R30</text>
<text transform="translate(679.85 911.6) scale(0.94 1)" fill="#1c1c8c" stroke="#1c1c8c" stroke-width="0.36" font-size="7.55" font-weight="bold" text-anchor="start" >3.3K/0603</text>
<circle cx="705.27" cy="901.5" r="2.4" fill="#0a0a78"/>
<line x1="696.27" y1="918.45" x2="714.27" y2="918.45" stroke="#8f2323" stroke-width="1.3"/>
<line x1="699.0699999999999" y1="921.0500000000001" x2="711.47" y2="921.0500000000001" stroke="#8f2323" stroke-width="1.3"/>
<line x1="701.67" y1="923.6500000000001" x2="708.87" y2="923.6500000000001" stroke="#8f2323" stroke-width="1.3"/>
<line x1="704.0699999999999" y1="926.25" x2="706.47" y2="926.25" stroke="#8f2323" stroke-width="1.3"/>
<text transform="translate(705.27 933.75) scale(0.94 1)" fill="#8f2323" stroke="#8f2323" stroke-width="0.36" font-size="7.55" font-weight="bold" text-anchor="middle" >GND</text>
<line x1="794.2" y1="799.8" x2="802.8" y2="799.8" stroke="#8f2323" stroke-width="1.4"/>
<polyline points="798.5,799.8 798.5,808.27" fill="none" stroke="#8f2323" stroke-width="1.5" />
<text transform="translate(798.5 798.1) scale(0.94 1)" fill="#8f2323" stroke="#8f2323" stroke-width="0.36" font-size="7.55" font-weight="bold" text-anchor="middle" >DC12V</text>
<polyline points="798.5,808.27 798.5,825.22" fill="none" stroke="#3a3a3a" stroke-width="1.5" />
<polyline points="798.5,833.7 798.5,867.6" fill="none" stroke="#3a3a3a" stroke-width="1.5" />
<polyline points="798.5,884.55 798.5,901.5" fill="none" stroke="#3a3a3a" stroke-width="1.5" />
<polyline points="798.5,901.5 798.5,918.45" fill="none" stroke="#8f2323" stroke-width="1.5" />
<path d="M798.5,825.22 L807.3,834.1 L789.7,834.1 Z" fill="#1a1aff"/>
<line x1="790.3" y1="825.22" x2="806.7" y2="825.22" stroke="#1a1aff" stroke-width="1.3"/>
<text transform="translate(808.1 831.22) scale(0.94 1)" fill="#1c1c8c" stroke="#1c1c8c" stroke-width="0.36" font-size="7.55" font-weight="bold" text-anchor="start" >D3</text>
<text transform="translate(808.1 838.9) scale(0.94 1)" fill="#1c1c8c" stroke="#1c1c8c" stroke-width="0.36" font-size="7.55" font-weight="bold" text-anchor="start" textLength="39.36" lengthAdjust="spacingAndGlyphs" >RS1M/SMA</text>
<circle cx="798.5" cy="850.65" r="2.4" fill="#0a0a78"/>
<polyline points="798.5,850.65 832.4,850.65" fill="none" stroke="#3a3aae" stroke-width="1.6" />
<text transform="translate(805.78 849.05) scale(0.94 1)" fill="#8a2a1a" stroke="#8a2a1a" stroke-width="0.36" font-size="7.55" font-weight="bold" text-anchor="start" textLength="28.19" lengthAdjust="spacingAndGlyphs" >RLY3_2</text>
<polyline points="790.02,842.17 756.12,842.17 756.12,850.65" fill="none" stroke="#3a3aae" stroke-width="1.6" />
<text transform="translate(756.72 840.57) scale(0.94 1)" fill="#8a2a1a" stroke="#8a2a1a" stroke-width="0.36" font-size="7.55" font-weight="bold" text-anchor="start" >RELAY3</text>
<polyline points="756.12,867.6 756.12,876.08" fill="none" stroke="#3a3a3a" stroke-width="1.5" />
<polyline points="756.12,876.08 756.12,901.5 764.6,901.5" fill="none" stroke="#3a3aae" stroke-width="1.6" />
<polyline points="764.6,901.5 773.08,901.5" fill="none" stroke="#3a3a3a" stroke-width="1.5" />
<polyline points="790.02,901.5 798.5,901.5" fill="none" stroke="#3a3a3a" stroke-width="1.5" />
<rect x="752.82" y="850.65" width="6.61" height="16.95" fill="#fffcf7" stroke="#1a1aff" stroke-width="1.5"/>
<text transform="translate(759.42 857.95) scale(0.94 1)" fill="#1c1c8c" stroke="#1c1c8c" stroke-width="0.36" font-size="7.55" font-weight="bold" text-anchor="start" >R23</text>
<text transform="translate(759.42 866.05) scale(0.94 1)" fill="#1c1c8c" stroke="#1c1c8c" stroke-width="0.36" font-size="7.55" font-weight="bold" text-anchor="start" >3.3K/0603</text>
<circle cx="756.12" cy="876.08" r="2.4" fill="#0a0a78"/>
<polyline points="756.12,876.08 773.08,876.08" fill="none" stroke="#3a3aae" stroke-width="1.6" />
<polyline points="773.08,876.08 790.02,876.08" fill="none" stroke="#3a3a3a" stroke-width="1.5" />
<line x1="790.02" y1="868.48" x2="790.02" y2="883.6800000000001" stroke="#1a1aff" stroke-width="1.5"/>
<line x1="790.02" y1="872.88" x2="798.5" y2="867.6" stroke="#1a1aff" stroke-width="1.4"/>
<line x1="790.02" y1="879.2800000000001" x2="798.5" y2="884.55" stroke="#1a1aff" stroke-width="1.4"/>
<path d="M798.9,884.9499999999999 L792.3,883.9499999999999 L795.9,878.9499999999999 Z" fill="#1a1aff"/>
<text transform="translate(800.1 873.68) scale(0.94 1)" fill="#1c1c8c" stroke="#1c1c8c" stroke-width="0.36" font-size="7.55" font-weight="bold" text-anchor="start" >Q3</text>
<text transform="translate(800.1 881.48) scale(0.94 1)" fill="#1c1c8c" stroke="#1c1c8c" stroke-width="0.36" font-size="7.55" font-weight="bold" text-anchor="start" textLength="42.02" lengthAdjust="spacingAndGlyphs" >D882/TO126</text>
<rect x="773.08" y="898.19" width="16.94" height="6.62" fill="#fffcf7" stroke="#1a1aff" stroke-width="1.5"/>
<text transform="translate(773.08 896.9) scale(0.94 1)" fill="#1c1c8c" stroke="#1c1c8c" stroke-width="0.36" font-size="7.55" font-weight="bold" text-anchor="start" >R29</text>
<text transform="translate(773.08 911.6) scale(0.94 1)" fill="#1c1c8c" stroke="#1c1c8c" stroke-width="0.36" font-size="7.55" font-weight="bold" text-anchor="start" >3.3K/0603</text>
<circle cx="798.5" cy="901.5" r="2.4" fill="#0a0a78"/>
<line x1="789.5" y1="918.45" x2="807.5" y2="918.45" stroke="#8f2323" stroke-width="1.3"/>
<line x1="792.3" y1="921.0500000000001" x2="804.7" y2="921.0500000000001" stroke="#8f2323" stroke-width="1.3"/>
<line x1="794.9" y1="923.6500000000001" x2="802.1" y2="923.6500000000001" stroke="#8f2323" stroke-width="1.3"/>
<line x1="797.3" y1="926.25" x2="799.7" y2="926.25" stroke="#8f2323" stroke-width="1.3"/>
<text transform="translate(798.5 933.75) scale(0.94 1)" fill="#8f2323" stroke="#8f2323" stroke-width="0.36" font-size="7.55" font-weight="bold" text-anchor="middle" >GND</text>
<line x1="887.4300000000001" y1="799.8" x2="896.03" y2="799.8" stroke="#8f2323" stroke-width="1.4"/>
<polyline points="891.73,799.8 891.73,808.27" fill="none" stroke="#8f2323" stroke-width="1.5" />
<text transform="translate(891.73 798.1) scale(0.94 1)" fill="#8f2323" stroke="#8f2323" stroke-width="0.36" font-size="7.55" font-weight="bold" text-anchor="middle" >DC12V</text>
<polyline points="891.73,808.27 891.73,825.22" fill="none" stroke="#3a3a3a" stroke-width="1.5" />
<polyline points="891.73,833.7 891.73,867.6" fill="none" stroke="#3a3a3a" stroke-width="1.5" />
<polyline points="891.73,884.55 891.73,901.5" fill="none" stroke="#3a3a3a" stroke-width="1.5" />
<polyline points="891.73,901.5 891.73,918.45" fill="none" stroke="#8f2323" stroke-width="1.5" />
<path d="M891.73,825.22 L900.53,834.1 L882.9300000000001,834.1 Z" fill="#1a1aff"/>
<line x1="883.53" y1="825.22" x2="899.9300000000001" y2="825.22" stroke="#1a1aff" stroke-width="1.3"/>
<text transform="translate(901.33 831.22) scale(0.94 1)" fill="#1c1c8c" stroke="#1c1c8c" stroke-width="0.36" font-size="7.55" font-weight="bold" text-anchor="start" >D4</text>
<text transform="translate(901.33 838.9) scale(0.94 1)" fill="#1c1c8c" stroke="#1c1c8c" stroke-width="0.36" font-size="7.55" font-weight="bold" text-anchor="start" textLength="39.36" lengthAdjust="spacingAndGlyphs" >RS1M/SMA</text>
<circle cx="891.73" cy="850.65" r="2.4" fill="#0a0a78"/>
<polyline points="891.73,850.65 925.62,850.65" fill="none" stroke="#3a3aae" stroke-width="1.6" />
<text transform="translate(899.0 849.05) scale(0.94 1)" fill="#8a2a1a" stroke="#8a2a1a" stroke-width="0.36" font-size="7.55" font-weight="bold" text-anchor="start" textLength="28.19" lengthAdjust="spacingAndGlyphs" >RLY4_2</text>
<polyline points="883.25,842.17 849.35,842.17 849.35,850.65" fill="none" stroke="#3a3aae" stroke-width="1.6" />
<text transform="translate(849.95 840.57) scale(0.94 1)" fill="#8a2a1a" stroke="#8a2a1a" stroke-width="0.36" font-size="7.55" font-weight="bold" text-anchor="start" >RELAY4</text>
<polyline points="849.35,867.6 849.35,876.08" fill="none" stroke="#3a3a3a" stroke-width="1.5" />
<polyline points="849.35,876.08 849.35,901.5 857.83,901.5" fill="none" stroke="#3a3aae" stroke-width="1.6" />
<polyline points="857.83,901.5 866.3,901.5" fill="none" stroke="#3a3a3a" stroke-width="1.5" />
<polyline points="883.25,901.5 891.73,901.5" fill="none" stroke="#3a3a3a" stroke-width="1.5" />
<rect x="846.04" y="850.65" width="6.62" height="16.95" fill="#fffcf7" stroke="#1a1aff" stroke-width="1.5"/>
<text transform="translate(852.65 857.95) scale(0.94 1)" fill="#1c1c8c" stroke="#1c1c8c" stroke-width="0.36" font-size="7.55" font-weight="bold" text-anchor="start" >R22</text>
<text transform="translate(852.65 866.05) scale(0.94 1)" fill="#1c1c8c" stroke="#1c1c8c" stroke-width="0.36" font-size="7.55" font-weight="bold" text-anchor="start" >3.3K/0603</text>
<circle cx="849.35" cy="876.08" r="2.4" fill="#0a0a78"/>
<polyline points="849.35,876.08 866.3,876.08" fill="none" stroke="#3a3aae" stroke-width="1.6" />
<polyline points="866.3,876.08 883.25,876.08" fill="none" stroke="#3a3a3a" stroke-width="1.5" />
<line x1="883.25" y1="868.48" x2="883.25" y2="883.6800000000001" stroke="#1a1aff" stroke-width="1.5"/>
<line x1="883.25" y1="872.88" x2="891.73" y2="867.6" stroke="#1a1aff" stroke-width="1.4"/>
<line x1="883.25" y1="879.2800000000001" x2="891.73" y2="884.55" stroke="#1a1aff" stroke-width="1.4"/>
<path d="M892.13,884.9499999999999 L885.53,883.9499999999999 L889.13,878.9499999999999 Z" fill="#1a1aff"/>
<text transform="translate(893.33 873.68) scale(0.94 1)" fill="#1c1c8c" stroke="#1c1c8c" stroke-width="0.36" font-size="7.55" font-weight="bold" text-anchor="start" >Q4</text>
<text transform="translate(893.33 881.48) scale(0.94 1)" fill="#1c1c8c" stroke="#1c1c8c" stroke-width="0.36" font-size="7.55" font-weight="bold" text-anchor="start" textLength="42.02" lengthAdjust="spacingAndGlyphs" >D882/TO126</text>
<rect x="866.3" y="898.19" width="16.95" height="6.62" fill="#fffcf7" stroke="#1a1aff" stroke-width="1.5"/>
<text transform="translate(866.3 896.9) scale(0.94 1)" fill="#1c1c8c" stroke="#1c1c8c" stroke-width="0.36" font-size="7.55" font-weight="bold" text-anchor="start" >R28</text>
<text transform="translate(866.3 911.6) scale(0.94 1)" fill="#1c1c8c" stroke="#1c1c8c" stroke-width="0.36" font-size="7.55" font-weight="bold" text-anchor="start" >3.3K/0603</text>
<circle cx="891.73" cy="901.5" r="2.4" fill="#0a0a78"/>
<line x1="882.73" y1="918.45" x2="900.73" y2="918.45" stroke="#8f2323" stroke-width="1.3"/>
<line x1="885.53" y1="921.0500000000001" x2="897.9300000000001" y2="921.0500000000001" stroke="#8f2323" stroke-width="1.3"/>
<line x1="888.13" y1="923.6500000000001" x2="895.33" y2="923.6500000000001" stroke="#8f2323" stroke-width="1.3"/>
<line x1="890.53" y1="926.25" x2="892.9300000000001" y2="926.25" stroke="#8f2323" stroke-width="1.3"/>
<text transform="translate(891.73 933.75) scale(0.94 1)" fill="#8f2323" stroke="#8f2323" stroke-width="0.36" font-size="7.55" font-weight="bold" text-anchor="middle" >GND</text>
<line x1="980.6500000000001" y1="799.8" x2="989.25" y2="799.8" stroke="#8f2323" stroke-width="1.4"/>
<polyline points="984.95,799.8 984.95,808.27" fill="none" stroke="#8f2323" stroke-width="1.5" />
<text transform="translate(984.95 798.1) scale(0.94 1)" fill="#8f2323" stroke="#8f2323" stroke-width="0.36" font-size="7.55" font-weight="bold" text-anchor="middle" >DC12V</text>
<polyline points="984.95,808.27 984.95,825.22" fill="none" stroke="#3a3a3a" stroke-width="1.5" />
<polyline points="984.95,833.7 984.95,867.6" fill="none" stroke="#3a3a3a" stroke-width="1.5" />
<polyline points="984.95,884.55 984.95,901.5" fill="none" stroke="#3a3a3a" stroke-width="1.5" />
<polyline points="984.95,901.5 984.95,918.45" fill="none" stroke="#8f2323" stroke-width="1.5" />
<path d="M984.95,825.22 L993.75,834.1 L976.1500000000001,834.1 Z" fill="#1a1aff"/>
<line x1="976.75" y1="825.22" x2="993.1500000000001" y2="825.22" stroke="#1a1aff" stroke-width="1.3"/>
<text transform="translate(994.55 831.22) scale(0.94 1)" fill="#1c1c8c" stroke="#1c1c8c" stroke-width="0.36" font-size="7.55" font-weight="bold" text-anchor="start" >D5</text>
<text transform="translate(994.55 838.9) scale(0.94 1)" fill="#1c1c8c" stroke="#1c1c8c" stroke-width="0.36" font-size="7.55" font-weight="bold" text-anchor="start" textLength="39.36" lengthAdjust="spacingAndGlyphs" >RS1M/SMA</text>
<circle cx="984.95" cy="850.65" r="2.4" fill="#0a0a78"/>
<polyline points="984.95,850.65 1018.85,850.65" fill="none" stroke="#3a3aae" stroke-width="1.6" />
<text transform="translate(992.22 849.05) scale(0.94 1)" fill="#8a2a1a" stroke="#8a2a1a" stroke-width="0.36" font-size="7.55" font-weight="bold" text-anchor="start" textLength="28.19" lengthAdjust="spacingAndGlyphs" >RLY5_2</text>
<polyline points="976.48,842.17 942.58,842.17 942.58,850.65" fill="none" stroke="#3a3aae" stroke-width="1.6" />
<text transform="translate(943.18 840.57) scale(0.94 1)" fill="#8a2a1a" stroke="#8a2a1a" stroke-width="0.36" font-size="7.55" font-weight="bold" text-anchor="start" >RELAY5</text>
<polyline points="942.58,867.6 942.58,876.08" fill="none" stroke="#3a3a3a" stroke-width="1.5" />
<polyline points="942.58,876.08 942.58,901.5 951.05,901.5" fill="none" stroke="#3a3aae" stroke-width="1.6" />
<polyline points="951.05,901.5 959.52,901.5" fill="none" stroke="#3a3a3a" stroke-width="1.5" />
<polyline points="976.48,901.5 984.95,901.5" fill="none" stroke="#3a3a3a" stroke-width="1.5" />
<rect x="939.27" y="850.65" width="6.61" height="16.95" fill="#fffcf7" stroke="#1a1aff" stroke-width="1.5"/>
<text transform="translate(945.88 857.95) scale(0.94 1)" fill="#1c1c8c" stroke="#1c1c8c" stroke-width="0.36" font-size="7.55" font-weight="bold" text-anchor="start" >R21</text>
<text transform="translate(945.88 866.05) scale(0.94 1)" fill="#1c1c8c" stroke="#1c1c8c" stroke-width="0.36" font-size="7.55" font-weight="bold" text-anchor="start" >3.3K/0603</text>
<circle cx="942.58" cy="876.08" r="2.4" fill="#0a0a78"/>
<polyline points="942.58,876.08 959.52,876.08" fill="none" stroke="#3a3aae" stroke-width="1.6" />
<polyline points="959.52,876.08 976.48,876.08" fill="none" stroke="#3a3a3a" stroke-width="1.5" />
<line x1="976.48" y1="868.48" x2="976.48" y2="883.6800000000001" stroke="#1a1aff" stroke-width="1.5"/>
<line x1="976.48" y1="872.88" x2="984.95" y2="867.6" stroke="#1a1aff" stroke-width="1.4"/>
<line x1="976.48" y1="879.2800000000001" x2="984.95" y2="884.55" stroke="#1a1aff" stroke-width="1.4"/>
<path d="M985.35,884.9499999999999 L978.75,883.9499999999999 L982.35,878.9499999999999 Z" fill="#1a1aff"/>
<text transform="translate(986.55 873.68) scale(0.94 1)" fill="#1c1c8c" stroke="#1c1c8c" stroke-width="0.36" font-size="7.55" font-weight="bold" text-anchor="start" >Q5</text>
<text transform="translate(986.55 881.48) scale(0.94 1)" fill="#1c1c8c" stroke="#1c1c8c" stroke-width="0.36" font-size="7.55" font-weight="bold" text-anchor="start" textLength="42.02" lengthAdjust="spacingAndGlyphs" >D882/TO126</text>
<rect x="959.52" y="898.19" width="16.96" height="6.62" fill="#fffcf7" stroke="#1a1aff" stroke-width="1.5"/>
<text transform="translate(959.52 896.9) scale(0.94 1)" fill="#1c1c8c" stroke="#1c1c8c" stroke-width="0.36" font-size="7.55" font-weight="bold" text-anchor="start" >R27</text>
<text transform="translate(959.52 911.6) scale(0.94 1)" fill="#1c1c8c" stroke="#1c1c8c" stroke-width="0.36" font-size="7.55" font-weight="bold" text-anchor="start" >3.3K/0603</text>
<circle cx="984.95" cy="901.5" r="2.4" fill="#0a0a78"/>
<line x1="975.95" y1="918.45" x2="993.95" y2="918.45" stroke="#8f2323" stroke-width="1.3"/>
<line x1="978.75" y1="921.0500000000001" x2="991.1500000000001" y2="921.0500000000001" stroke="#8f2323" stroke-width="1.3"/>
<line x1="981.35" y1="923.6500000000001" x2="988.5500000000001" y2="923.6500000000001" stroke="#8f2323" stroke-width="1.3"/>
<line x1="983.75" y1="926.25" x2="986.1500000000001" y2="926.25" stroke="#8f2323" stroke-width="1.3"/>
<text transform="translate(984.95 933.75) scale(0.94 1)" fill="#8f2323" stroke="#8f2323" stroke-width="0.36" font-size="7.55" font-weight="bold" text-anchor="middle" >GND</text>
<line x1="1073.8700000000001" y1="799.8" x2="1082.47" y2="799.8" stroke="#8f2323" stroke-width="1.4"/>
<polyline points="1078.17,799.8 1078.17,808.27" fill="none" stroke="#8f2323" stroke-width="1.5" />
<text transform="translate(1078.17 798.1) scale(0.94 1)" fill="#8f2323" stroke="#8f2323" stroke-width="0.36" font-size="7.55" font-weight="bold" text-anchor="middle" >DC12V</text>
<polyline points="1078.17,808.27 1078.17,825.22" fill="none" stroke="#3a3a3a" stroke-width="1.5" />
<polyline points="1078.17,833.7 1078.17,867.6" fill="none" stroke="#3a3a3a" stroke-width="1.5" />
<polyline points="1078.17,884.55 1078.17,901.5" fill="none" stroke="#3a3a3a" stroke-width="1.5" />
<polyline points="1078.17,901.5 1078.17,918.45" fill="none" stroke="#8f2323" stroke-width="1.5" />
<path d="M1078.17,825.22 L1086.97,834.1 L1069.3700000000001,834.1 Z" fill="#1a1aff"/>
<line x1="1069.97" y1="825.22" x2="1086.3700000000001" y2="825.22" stroke="#1a1aff" stroke-width="1.3"/>
<text transform="translate(1087.77 831.22) scale(0.94 1)" fill="#1c1c8c" stroke="#1c1c8c" stroke-width="0.36" font-size="7.55" font-weight="bold" text-anchor="start" >D6</text>
<text transform="translate(1087.77 838.9) scale(0.94 1)" fill="#1c1c8c" stroke="#1c1c8c" stroke-width="0.36" font-size="7.55" font-weight="bold" text-anchor="start" textLength="39.36" lengthAdjust="spacingAndGlyphs" >RS1M/SMA</text>
<circle cx="1078.17" cy="850.65" r="2.4" fill="#0a0a78"/>
<polyline points="1078.17,850.65 1112.08,850.65" fill="none" stroke="#3a3aae" stroke-width="1.6" />
<text transform="translate(1085.45 849.05) scale(0.94 1)" fill="#8a2a1a" stroke="#8a2a1a" stroke-width="0.36" font-size="7.55" font-weight="bold" text-anchor="start" textLength="28.19" lengthAdjust="spacingAndGlyphs" >RLY6_2</text>
<polyline points="1069.7,842.17 1035.8,842.17 1035.8,850.65" fill="none" stroke="#3a3aae" stroke-width="1.6" />
<text transform="translate(1036.4 840.57) scale(0.94 1)" fill="#8a2a1a" stroke="#8a2a1a" stroke-width="0.36" font-size="7.55" font-weight="bold" text-anchor="start" >RELAY6</text>
<polyline points="1035.8,867.6 1035.8,876.08" fill="none" stroke="#3a3a3a" stroke-width="1.5" />
<polyline points="1035.8,876.08 1035.8,901.5 1044.27,901.5" fill="none" stroke="#3a3aae" stroke-width="1.6" />
<polyline points="1044.27,901.5 1052.75,901.5" fill="none" stroke="#3a3a3a" stroke-width="1.5" />
<polyline points="1069.7,901.5 1078.17,901.5" fill="none" stroke="#3a3a3a" stroke-width="1.5" />
<rect x="1032.49" y="850.65" width="6.62" height="16.95" fill="#fffcf7" stroke="#1a1aff" stroke-width="1.5"/>
<text transform="translate(1039.1 857.95) scale(0.94 1)" fill="#1c1c8c" stroke="#1c1c8c" stroke-width="0.36" font-size="7.55" font-weight="bold" text-anchor="start" >R20</text>
<text transform="translate(1039.1 866.05) scale(0.94 1)" fill="#1c1c8c" stroke="#1c1c8c" stroke-width="0.36" font-size="7.55" font-weight="bold" text-anchor="start" >3.3K/0603</text>
<circle cx="1035.8" cy="876.08" r="2.4" fill="#0a0a78"/>
<polyline points="1035.8,876.08 1052.75,876.08" fill="none" stroke="#3a3aae" stroke-width="1.6" />
<polyline points="1052.75,876.08 1069.7,876.08" fill="none" stroke="#3a3a3a" stroke-width="1.5" />
<line x1="1069.7" y1="868.48" x2="1069.7" y2="883.6800000000001" stroke="#1a1aff" stroke-width="1.5"/>
<line x1="1069.7" y1="872.88" x2="1078.17" y2="867.6" stroke="#1a1aff" stroke-width="1.4"/>
<line x1="1069.7" y1="879.2800000000001" x2="1078.17" y2="884.55" stroke="#1a1aff" stroke-width="1.4"/>
<path d="M1078.5700000000002,884.9499999999999 L1071.97,883.9499999999999 L1075.5700000000002,878.9499999999999 Z" fill="#1a1aff"/>
<text transform="translate(1079.77 873.68) scale(0.94 1)" fill="#1c1c8c" stroke="#1c1c8c" stroke-width="0.36" font-size="7.55" font-weight="bold" text-anchor="start" >Q6</text>
<text transform="translate(1079.77 881.48) scale(0.94 1)" fill="#1c1c8c" stroke="#1c1c8c" stroke-width="0.36" font-size="7.55" font-weight="bold" text-anchor="start" textLength="42.02" lengthAdjust="spacingAndGlyphs" >D882/TO126</text>
<rect x="1052.75" y="898.19" width="16.95" height="6.62" fill="#fffcf7" stroke="#1a1aff" stroke-width="1.5"/>
<text transform="translate(1052.75 896.9) scale(0.94 1)" fill="#1c1c8c" stroke="#1c1c8c" stroke-width="0.36" font-size="7.55" font-weight="bold" text-anchor="start" >R26</text>
<text transform="translate(1052.75 911.6) scale(0.94 1)" fill="#1c1c8c" stroke="#1c1c8c" stroke-width="0.36" font-size="7.55" font-weight="bold" text-anchor="start" >3.3K/0603</text>
<circle cx="1078.17" cy="901.5" r="2.4" fill="#0a0a78"/>
<line x1="1069.17" y1="918.45" x2="1087.17" y2="918.45" stroke="#8f2323" stroke-width="1.3"/>
<line x1="1071.97" y1="921.0500000000001" x2="1084.3700000000001" y2="921.0500000000001" stroke="#8f2323" stroke-width="1.3"/>
<line x1="1074.5700000000002" y1="923.6500000000001" x2="1081.77" y2="923.6500000000001" stroke="#8f2323" stroke-width="1.3"/>
<line x1="1076.97" y1="926.25" x2="1079.3700000000001" y2="926.25" stroke="#8f2323" stroke-width="1.3"/>
<text transform="translate(1078.17 933.75) scale(0.94 1)" fill="#8f2323" stroke="#8f2323" stroke-width="0.36" font-size="7.55" font-weight="bold" text-anchor="middle" >GND</text>
<rect x="1162.92" y="799.8" width="25.43" height="33.9" fill="#ffffb3" stroke="#8b1a1a" stroke-width="1.5"/>
<text transform="translate(1162.92 797.2) scale(0.94 1)" fill="#1c1c8c" stroke="#1c1c8c" stroke-width="0.36" font-size="7.55" font-weight="bold" text-anchor="start" >VOL_IN</text>
<text transform="translate(1162.92 839.7) scale(0.94 1)" fill="#1c1c8c" stroke="#1c1c8c" stroke-width="0.36" font-size="7.55" font-weight="bold" text-anchor="start" >5.08-3</text>
<text transform="translate(1170.42 810.67) scale(0.94 1)" fill="#1a1a1a" stroke="#1a1a1a" stroke-width="0.36" font-size="7.55" font-weight="bold" text-anchor="middle" >1</text>
<text transform="translate(1170.42 819.15) scale(0.94 1)" fill="#1a1a1a" stroke="#1a1a1a" stroke-width="0.36" font-size="7.55" font-weight="bold" text-anchor="middle" >2</text>
<text transform="translate(1170.42 827.62) scale(0.94 1)" fill="#1a1a1a" stroke="#1a1a1a" stroke-width="0.36" font-size="7.55" font-weight="bold" text-anchor="middle" >3</text>
<polyline points="1137.5,808.27 1145.97,808.27" fill="none" stroke="#3a3aae" stroke-width="1.6" />
<polyline points="1145.97,808.27 1162.92,808.27" fill="none" stroke="#3a3a3a" stroke-width="1.5" />
<text transform="translate(1136.3 806.67) scale(0.94 1)" fill="#8a2a1a" stroke="#8a2a1a" stroke-width="0.36" font-size="7.55" font-weight="bold" text-anchor="start" >LIN</text>
<polyline points="1137.5,816.75 1145.97,816.75" fill="none" stroke="#3a3aae" stroke-width="1.6" />
<polyline points="1145.97,816.75 1162.92,816.75" fill="none" stroke="#3a3a3a" stroke-width="1.5" />
<text transform="translate(1136.3 815.15) scale(0.94 1)" fill="#8a2a1a" stroke="#8a2a1a" stroke-width="0.36" font-size="7.55" font-weight="bold" text-anchor="start" >N</text>
<polyline points="1137.5,825.22 1145.97,825.22" fill="none" stroke="#3a3aae" stroke-width="1.6" />
<polyline points="1145.97,825.22 1162.92,825.22" fill="none" stroke="#3a3a3a" stroke-width="1.5" />
<text transform="translate(1136.3 823.62) scale(0.94 1)" fill="#8a2a1a" stroke="#8a2a1a" stroke-width="0.36" font-size="7.55" font-weight="bold" text-anchor="start" >LOUT1</text>
<rect x="1162.92" y="859.12" width="25.43" height="67.8" fill="#ffffb3" stroke="#8b1a1a" stroke-width="1.5"/>
<text transform="translate(1162.92 856.72) scale(0.94 1)" fill="#1c1c8c" stroke="#1c1c8c" stroke-width="0.36" font-size="7.55" font-weight="bold" text-anchor="start" >RELAY</text>
<text transform="translate(1162.92 933.92) scale(0.94 1)" fill="#1c1c8c" stroke="#1c1c8c" stroke-width="0.36" font-size="7.55" font-weight="bold" text-anchor="start" >XH-7</text>
<text transform="translate(1170.42 870.0) scale(0.94 1)" fill="#1a1a1a" stroke="#1a1a1a" stroke-width="0.36" font-size="7.55" font-weight="bold" text-anchor="middle" >1</text>
<text transform="translate(1170.42 878.48) scale(0.94 1)" fill="#1a1a1a" stroke="#1a1a1a" stroke-width="0.36" font-size="7.55" font-weight="bold" text-anchor="middle" >2</text>
<text transform="translate(1170.42 886.95) scale(0.94 1)" fill="#1a1a1a" stroke="#1a1a1a" stroke-width="0.36" font-size="7.55" font-weight="bold" text-anchor="middle" >3</text>
<text transform="translate(1170.42 895.42) scale(0.94 1)" fill="#1a1a1a" stroke="#1a1a1a" stroke-width="0.36" font-size="7.55" font-weight="bold" text-anchor="middle" >4</text>
<text transform="translate(1170.42 903.9) scale(0.94 1)" fill="#1a1a1a" stroke="#1a1a1a" stroke-width="0.36" font-size="7.55" font-weight="bold" text-anchor="middle" >5</text>
<text transform="translate(1170.42 912.37) scale(0.94 1)" fill="#1a1a1a" stroke="#1a1a1a" stroke-width="0.36" font-size="7.55" font-weight="bold" text-anchor="middle" >6</text>
<text transform="translate(1170.42 920.85) scale(0.94 1)" fill="#1a1a1a" stroke="#1a1a1a" stroke-width="0.36" font-size="7.55" font-weight="bold" text-anchor="middle" >7</text>
<polyline points="1145.97,867.6 1162.92,867.6" fill="none" stroke="#3a3a3a" stroke-width="1.5" />
<polyline points="1145.97,867.6 1145.97,859.12" fill="none" stroke="#8f2323" stroke-width="1.5" />
<line x1="1141.67" y1="859.12" x2="1150.27" y2="859.12" stroke="#8f2323" stroke-width="1.4"/>
<text transform="translate(1144.97 857.42) scale(0.94 1)" fill="#8f2323" stroke="#8f2323" stroke-width="0.36" font-size="7.55" font-weight="bold" text-anchor="middle" >DC12V</text>
<polyline points="1129.03,876.08 1145.97,876.08" fill="none" stroke="#3a3aae" stroke-width="1.6" />
<polyline points="1145.97,876.08 1162.92,876.08" fill="none" stroke="#3a3a3a" stroke-width="1.5" />
<text transform="translate(1127.83 874.48) scale(0.94 1)" fill="#8a2a1a" stroke="#8a2a1a" stroke-width="0.36" font-size="7.55" font-weight="bold" text-anchor="start" textLength="27.66" lengthAdjust="spacingAndGlyphs" >RLY6_2</text>
<polyline points="1129.03,884.55 1145.97,884.55" fill="none" stroke="#3a3aae" stroke-width="1.6" />
<polyline points="1145.97,884.55 1162.92,884.55" fill="none" stroke="#3a3a3a" stroke-width="1.5" />
<text transform="translate(1127.83 882.95) scale(0.94 1)" fill="#8a2a1a" stroke="#8a2a1a" stroke-width="0.36" font-size="7.55" font-weight="bold" text-anchor="start" textLength="27.66" lengthAdjust="spacingAndGlyphs" >RLY5_2</text>
<polyline points="1129.03,893.02 1145.97,893.02" fill="none" stroke="#3a3aae" stroke-width="1.6" />
<polyline points="1145.97,893.02 1162.92,893.02" fill="none" stroke="#3a3a3a" stroke-width="1.5" />
<text transform="translate(1127.83 891.42) scale(0.94 1)" fill="#8a2a1a" stroke="#8a2a1a" stroke-width="0.36" font-size="7.55" font-weight="bold" text-anchor="start" textLength="27.66" lengthAdjust="spacingAndGlyphs" >RLY4_2</text>
<polyline points="1129.03,901.5 1145.97,901.5" fill="none" stroke="#3a3aae" stroke-width="1.6" />
<polyline points="1145.97,901.5 1162.92,901.5" fill="none" stroke="#3a3a3a" stroke-width="1.5" />
<text transform="translate(1127.83 899.9) scale(0.94 1)" fill="#8a2a1a" stroke="#8a2a1a" stroke-width="0.36" font-size="7.55" font-weight="bold" text-anchor="start" textLength="27.66" lengthAdjust="spacingAndGlyphs" >RLY3_2</text>
<polyline points="1129.03,909.97 1145.97,909.97" fill="none" stroke="#3a3aae" stroke-width="1.6" />
<polyline points="1145.97,909.97 1162.92,909.97" fill="none" stroke="#3a3a3a" stroke-width="1.5" />
<text transform="translate(1127.83 908.37) scale(0.94 1)" fill="#8a2a1a" stroke="#8a2a1a" stroke-width="0.36" font-size="7.55" font-weight="bold" text-anchor="start" textLength="27.66" lengthAdjust="spacingAndGlyphs" >RLY2_2</text>
<polyline points="1129.03,918.45 1145.97,918.45" fill="none" stroke="#3a3aae" stroke-width="1.6" />
<polyline points="1145.97,918.45 1162.92,918.45" fill="none" stroke="#3a3a3a" stroke-width="1.5" />
<text transform="translate(1127.83 916.85) scale(0.94 1)" fill="#8a2a1a" stroke="#8a2a1a" stroke-width="0.36" font-size="7.55" font-weight="bold" text-anchor="start" textLength="27.66" lengthAdjust="spacingAndGlyphs" >RLY1_2</text>
<text transform="translate(904.6 950.2) scale(1.0 1)" fill="#1c1c8c" stroke="#1c1c8c" stroke-width="0.12" font-size="12" font-weight="normal" text-anchor="start" >5K~10K</text>
</g>
<g opacity="0.07" fill="none" stroke="#000" stroke-width="8.2" stroke-linecap="butt" stroke-linejoin="miter">
<g transform="translate(433,795.0) rotate(-32.6) scale(1.25) translate(-50,-50)">
<path d="M38,6 L38,78 Q38,90 26,96"/>
<path d="M62,6 L62,96"/>
<path d="M10,26 L38,26"/>
<path d="M12,48 L38,48"/>
<path d="M4,76 L38,68"/>
<path d="M62,26 L92,26"/>
<path d="M62,48 L90,48"/>
<path d="M62,70 L94,70"/>
</g>
<g transform="translate(535,729.7) rotate(-32.6) scale(1.25) translate(-50,-50)">
<path d="M50,6 Q36,30 6,46"/>
<path d="M50,6 Q64,28 94,40"/>
<path d="M28,42 L72,42"/>
<path d="M6,60 L94,60"/>
<path d="M46,60 L26,90 L78,86"/>
<path d="M66,70 L84,94"/>
</g>
<g transform="translate(637,664.4) rotate(-32.6) scale(1.25) translate(-50,-50)">
<path d="M28,6 L72,6 L72,28 L28,28 Z"/>
<path d="M20,38 L80,38 L80,74 L20,74 Z"/>
<path d="M50,46 L50,66 Q48,84 12,96"/>
<path d="M56,78 L90,96"/>
</g>
<g transform="translate(739,599.1) rotate(-32.6) scale(1.25) translate(-50,-50)">
<path d="M50,4 L50,88 Q50,96 38,90"/>
<path d="M8,32 L40,32 Q32,62 8,80"/>
<path d="M90,20 L56,44"/>
<path d="M54,40 Q66,70 94,86"/>
</g>
<g transform="translate(841,533.8) rotate(-32.6) scale(1.25) translate(-50,-50)">
<path d="M42,8 L16,18 L16,78 L44,70"/>
<path d="M16,46 L42,46"/>
<path d="M60,12 L92,12 L92,66 Q92,72 80,68"/>
<path d="M60,12 L60,96"/>
</g>
</g>
</svg>
</body></html>
